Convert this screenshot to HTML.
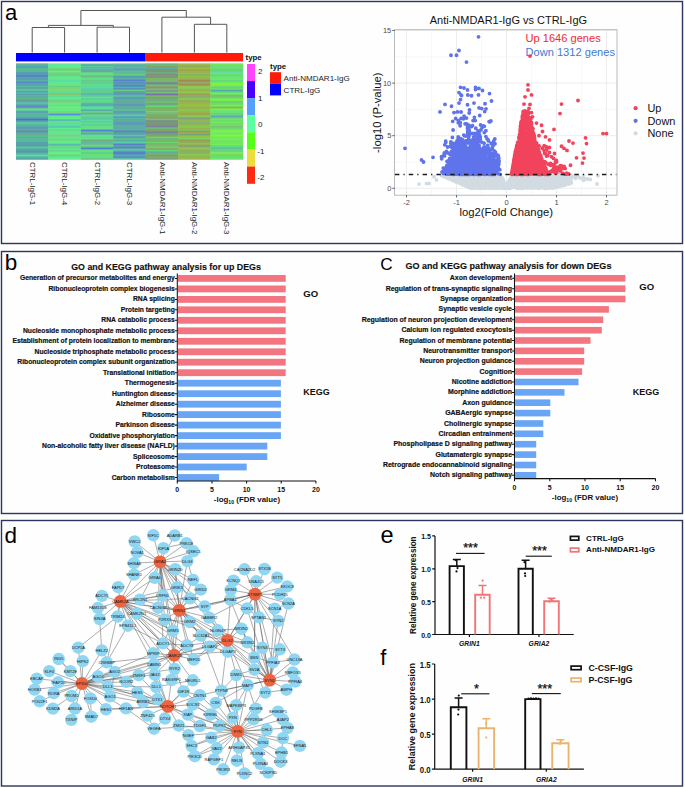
<!DOCTYPE html><html><head><meta charset="utf-8"><style>html,body{margin:0;padding:0;background:#fff}svg{display:block}text{font-family:"Liberation Sans",sans-serif}</style></head><body>
<svg width="685" height="788" viewBox="0 0 685 788" font-family="Liberation Sans, sans-serif">
<rect width="685" height="788" fill="#fefefe"/>
<rect x="1.5" y="1.5" width="681" height="242" fill="none" stroke="#2b3560" stroke-width="1.4"/>
<rect x="1.5" y="251.5" width="681" height="262" fill="none" stroke="#2b3560" stroke-width="1.4"/>
<rect x="1.5" y="520.5" width="681" height="265.5" fill="none" stroke="#2b3560" stroke-width="1.4"/>
<text x="5" y="19.8" font-size="22">a</text>
<text x="4.8" y="270" font-size="22.5">b</text>
<text x="380.3" y="270.2" font-size="17.2">C</text>
<text x="4.6" y="542.8" font-size="22.5">d</text>
<path d="M32.2 52.5V27.5H64.6V52.5M97.1 52.5V27.2H129.5V52.5M48.4 27.5V25.4H113.3V27.2M194.4 52.5V24.3H226.8V52.5M161.9 52.5V17.2H210.6V24.3M80.9 25.4V10.5H186.3V17.2" fill="none" stroke="#555555" stroke-width="1"/>
<rect x="16" y="53" width="129.7" height="8.4" fill="#0000ff"/>
<rect x="145.7" y="53" width="97.3" height="8.4" fill="#ff1a0a"/>
<rect x="16" y="63.6" width="32.5" height="95.8" fill="#58b0a0"/>
<rect x="16.0" y="63.6" width="32.5" height="1.0" fill="#58b0a0"/>
<rect x="16.0" y="64.6" width="32.5" height="1.0" fill="#5ac890"/>
<rect x="16.0" y="65.6" width="32.5" height="1.0" fill="#58b0a0"/>
<rect x="16.0" y="66.6" width="32.5" height="1.0" fill="#5a88c8"/>
<rect x="16.0" y="67.6" width="32.5" height="1.0" fill="#58b0a0"/>
<rect x="16.0" y="68.6" width="32.5" height="1.0" fill="#5ac890"/>
<rect x="16.0" y="69.6" width="32.5" height="1.0" fill="#58b0a0"/>
<rect x="16.0" y="70.6" width="32.5" height="1.0" fill="#5ac890"/>
<rect x="16.0" y="71.6" width="32.5" height="1.0" fill="#58b0a0"/>
<rect x="16.0" y="72.6" width="32.5" height="1.0" fill="#5a88c8"/>
<rect x="16.0" y="73.6" width="32.5" height="1.0" fill="#5e9cb8"/>
<rect x="16.0" y="74.6" width="32.5" height="1.0" fill="#5a88c8"/>
<rect x="16.0" y="75.6" width="32.5" height="1.0" fill="#4a70d0"/>
<rect x="16.0" y="76.6" width="32.5" height="1.0" fill="#5a88c8"/>
<rect x="16.0" y="77.6" width="32.5" height="1.0" fill="#58b0a0"/>
<rect x="16.0" y="78.6" width="32.5" height="1.0" fill="#5a88c8"/>
<rect x="16.0" y="79.6" width="32.5" height="2.0" fill="#58b0a0"/>
<rect x="16.0" y="81.6" width="32.5" height="2.0" fill="#5a88c8"/>
<rect x="16.0" y="83.6" width="32.5" height="1.0" fill="#58b0a0"/>
<rect x="16.0" y="84.6" width="32.5" height="1.0" fill="#5a88c8"/>
<rect x="16.0" y="85.6" width="32.5" height="1.0" fill="#5ac890"/>
<rect x="16.0" y="86.6" width="32.5" height="1.0" fill="#58b0a0"/>
<rect x="16.0" y="87.6" width="32.5" height="1.0" fill="#5e9cb8"/>
<rect x="16.0" y="88.6" width="32.5" height="1.0" fill="#58b0a0"/>
<rect x="16.0" y="89.6" width="32.5" height="1.0" fill="#60e0a0"/>
<rect x="16.0" y="90.6" width="32.5" height="1.0" fill="#58b0a0"/>
<rect x="16.0" y="91.6" width="32.5" height="1.0" fill="#5a88c8"/>
<rect x="16.0" y="92.6" width="32.5" height="1.0" fill="#60e0a0"/>
<rect x="16.0" y="93.6" width="32.5" height="1.0" fill="#5a88c8"/>
<rect x="16.0" y="94.6" width="32.5" height="1.0" fill="#58b0a0"/>
<rect x="16.0" y="95.6" width="32.5" height="1.0" fill="#5ac890"/>
<rect x="16.0" y="96.6" width="32.5" height="1.0" fill="#5e9cb8"/>
<rect x="16.0" y="97.6" width="32.5" height="1.0" fill="#80a878"/>
<rect x="16.0" y="98.6" width="32.5" height="1.0" fill="#5ac890"/>
<rect x="16.0" y="99.6" width="32.5" height="1.0" fill="#5a88c8"/>
<rect x="16.0" y="100.6" width="32.5" height="1.0" fill="#80a878"/>
<rect x="16.0" y="101.6" width="32.5" height="1.0" fill="#5e9cb8"/>
<rect x="16.0" y="102.6" width="32.5" height="1.0" fill="#60e0a0"/>
<rect x="16.0" y="103.6" width="32.5" height="2.0" fill="#58b0a0"/>
<rect x="16.0" y="105.6" width="32.5" height="2.0" fill="#5a88c8"/>
<rect x="16.0" y="107.6" width="32.5" height="1.0" fill="#80a878"/>
<rect x="16.0" y="108.6" width="32.5" height="2.0" fill="#60e0a0"/>
<rect x="16.0" y="110.6" width="32.5" height="1.0" fill="#5ac890"/>
<rect x="16.0" y="111.6" width="32.5" height="1.0" fill="#5a88c8"/>
<rect x="16.0" y="112.6" width="32.5" height="1.0" fill="#58b0a0"/>
<rect x="16.0" y="113.6" width="32.5" height="1.0" fill="#5ac890"/>
<rect x="16.0" y="114.6" width="32.5" height="1.0" fill="#58b0a0"/>
<rect x="16.0" y="115.6" width="32.5" height="1.0" fill="#5ac890"/>
<rect x="16.0" y="116.6" width="32.5" height="1.0" fill="#5e9cb8"/>
<rect x="16.0" y="117.6" width="32.5" height="1.0" fill="#58b0a0"/>
<rect x="16.0" y="118.6" width="32.5" height="2.0" fill="#4a70d0"/>
<rect x="16.0" y="120.6" width="32.5" height="1.0" fill="#5e9cb8"/>
<rect x="16.0" y="121.6" width="32.5" height="1.0" fill="#58b0a0"/>
<rect x="16.0" y="122.6" width="32.5" height="1.0" fill="#60e0a0"/>
<rect x="16.0" y="123.6" width="32.5" height="1.0" fill="#5ac890"/>
<rect x="16.0" y="124.6" width="32.5" height="1.0" fill="#58b0a0"/>
<rect x="16.0" y="125.6" width="32.5" height="1.0" fill="#5ac890"/>
<rect x="16.0" y="126.6" width="32.5" height="1.0" fill="#5a88c8"/>
<rect x="16.0" y="127.6" width="32.5" height="2.0" fill="#5e9cb8"/>
<rect x="16.0" y="129.6" width="32.5" height="1.0" fill="#80a878"/>
<rect x="16.0" y="130.6" width="32.5" height="2.0" fill="#5a88c8"/>
<rect x="16.0" y="132.6" width="32.5" height="2.0" fill="#58b0a0"/>
<rect x="16.0" y="134.6" width="32.5" height="1.0" fill="#80a878"/>
<rect x="16.0" y="135.6" width="32.5" height="1.0" fill="#5ac890"/>
<rect x="16.0" y="136.6" width="32.5" height="2.0" fill="#58b0a0"/>
<rect x="16.0" y="138.6" width="32.5" height="1.0" fill="#5ac890"/>
<rect x="16.0" y="139.6" width="32.5" height="1.0" fill="#58b0a0"/>
<rect x="16.0" y="140.6" width="32.5" height="1.0" fill="#5ac890"/>
<rect x="16.0" y="141.6" width="32.5" height="1.0" fill="#58b0a0"/>
<rect x="16.0" y="142.6" width="32.5" height="1.0" fill="#5a88c8"/>
<rect x="16.0" y="143.6" width="32.5" height="1.0" fill="#58b0a0"/>
<rect x="16.0" y="144.6" width="32.5" height="1.0" fill="#5a88c8"/>
<rect x="16.0" y="145.6" width="32.5" height="1.0" fill="#5e9cb8"/>
<rect x="16.0" y="146.6" width="32.5" height="2.0" fill="#5ac890"/>
<rect x="16.0" y="148.6" width="32.5" height="1.0" fill="#58b0a0"/>
<rect x="16.0" y="149.6" width="32.5" height="1.0" fill="#5a88c8"/>
<rect x="16.0" y="150.6" width="32.5" height="1.0" fill="#58b0a0"/>
<rect x="16.0" y="151.6" width="32.5" height="1.0" fill="#4a70d0"/>
<rect x="16.0" y="152.6" width="32.5" height="1.0" fill="#5ac890"/>
<rect x="16.0" y="153.6" width="32.5" height="1.0" fill="#58b0a0"/>
<rect x="16.0" y="154.6" width="32.5" height="2.0" fill="#60e0a0"/>
<rect x="16.0" y="156.6" width="32.5" height="2.0" fill="#58b0a0"/>
<rect x="16.0" y="158.6" width="32.5" height="1.0" fill="#5e9cb8"/>
<rect x="48.4" y="63.6" width="32.5" height="95.8" fill="#66f27a"/>
<rect x="48.4" y="63.6" width="32.5" height="2.0" fill="#5ee8a0"/>
<rect x="48.4" y="65.6" width="32.5" height="1.0" fill="#66f27a"/>
<rect x="48.4" y="66.6" width="32.5" height="2.0" fill="#5ee8a0"/>
<rect x="48.4" y="68.6" width="32.5" height="2.0" fill="#88c070"/>
<rect x="48.4" y="70.6" width="32.5" height="1.0" fill="#5ee8a0"/>
<rect x="48.4" y="71.6" width="32.5" height="1.0" fill="#66f27a"/>
<rect x="48.4" y="72.6" width="32.5" height="1.0" fill="#88c070"/>
<rect x="48.4" y="73.6" width="32.5" height="1.0" fill="#5ac8a8"/>
<rect x="48.4" y="74.6" width="32.5" height="1.0" fill="#88c070"/>
<rect x="48.4" y="75.6" width="32.5" height="1.0" fill="#5ac8a8"/>
<rect x="48.4" y="76.6" width="32.5" height="1.0" fill="#66f27a"/>
<rect x="48.4" y="77.6" width="32.5" height="1.0" fill="#5ee8a0"/>
<rect x="48.4" y="78.6" width="32.5" height="1.0" fill="#70d888"/>
<rect x="48.4" y="79.6" width="32.5" height="1.0" fill="#5ee8a0"/>
<rect x="48.4" y="80.6" width="32.5" height="1.0" fill="#5ac8a8"/>
<rect x="48.4" y="81.6" width="32.5" height="2.0" fill="#5ee8a0"/>
<rect x="48.4" y="83.6" width="32.5" height="1.0" fill="#70d888"/>
<rect x="48.4" y="84.6" width="32.5" height="1.0" fill="#66f27a"/>
<rect x="48.4" y="85.6" width="32.5" height="1.0" fill="#5ac8a8"/>
<rect x="48.4" y="86.6" width="32.5" height="1.0" fill="#88c070"/>
<rect x="48.4" y="87.6" width="32.5" height="1.0" fill="#70d888"/>
<rect x="48.4" y="88.6" width="32.5" height="1.0" fill="#88c070"/>
<rect x="48.4" y="89.6" width="32.5" height="1.0" fill="#66f27a"/>
<rect x="48.4" y="90.6" width="32.5" height="1.0" fill="#88c070"/>
<rect x="48.4" y="91.6" width="32.5" height="1.0" fill="#5ee8a0"/>
<rect x="48.4" y="92.6" width="32.5" height="1.0" fill="#5ac8a8"/>
<rect x="48.4" y="93.6" width="32.5" height="2.0" fill="#88c070"/>
<rect x="48.4" y="95.6" width="32.5" height="1.0" fill="#5ee8a0"/>
<rect x="48.4" y="96.6" width="32.5" height="1.0" fill="#5ac8a8"/>
<rect x="48.4" y="97.6" width="32.5" height="1.0" fill="#66f27a"/>
<rect x="48.4" y="98.6" width="32.5" height="1.0" fill="#5ee8a0"/>
<rect x="48.4" y="99.6" width="32.5" height="1.0" fill="#88c070"/>
<rect x="48.4" y="100.6" width="32.5" height="1.0" fill="#5ac8a8"/>
<rect x="48.4" y="101.6" width="32.5" height="2.0" fill="#70d888"/>
<rect x="48.4" y="103.6" width="32.5" height="1.0" fill="#66f27a"/>
<rect x="48.4" y="104.6" width="32.5" height="2.0" fill="#70d888"/>
<rect x="48.4" y="106.6" width="32.5" height="2.0" fill="#66f27a"/>
<rect x="48.4" y="108.6" width="32.5" height="1.0" fill="#70d888"/>
<rect x="48.4" y="109.6" width="32.5" height="1.0" fill="#66f27a"/>
<rect x="48.4" y="110.6" width="32.5" height="1.0" fill="#5ee8a0"/>
<rect x="48.4" y="111.6" width="32.5" height="1.0" fill="#88c070"/>
<rect x="48.4" y="112.6" width="32.5" height="1.0" fill="#70d888"/>
<rect x="48.4" y="113.6" width="32.5" height="2.0" fill="#4a90e0"/>
<rect x="48.4" y="115.6" width="32.5" height="1.0" fill="#5ee8a0"/>
<rect x="48.4" y="116.6" width="32.5" height="1.0" fill="#70d888"/>
<rect x="48.4" y="117.6" width="32.5" height="1.0" fill="#66f27a"/>
<rect x="48.4" y="118.6" width="32.5" height="1.0" fill="#5ee8a0"/>
<rect x="48.4" y="119.6" width="32.5" height="1.0" fill="#4a90e0"/>
<rect x="48.4" y="120.6" width="32.5" height="1.0" fill="#5ac8a8"/>
<rect x="48.4" y="121.6" width="32.5" height="1.0" fill="#66f27a"/>
<rect x="48.4" y="122.6" width="32.5" height="1.0" fill="#5ac8a8"/>
<rect x="48.4" y="123.6" width="32.5" height="1.0" fill="#5ee8a0"/>
<rect x="48.4" y="124.6" width="32.5" height="1.0" fill="#5ac8a8"/>
<rect x="48.4" y="125.6" width="32.5" height="1.0" fill="#5ee8a0"/>
<rect x="48.4" y="126.6" width="32.5" height="1.0" fill="#4a90e0"/>
<rect x="48.4" y="127.6" width="32.5" height="1.0" fill="#66f27a"/>
<rect x="48.4" y="128.6" width="32.5" height="1.0" fill="#5ee8a0"/>
<rect x="48.4" y="129.6" width="32.5" height="1.0" fill="#5ac8a8"/>
<rect x="48.4" y="130.6" width="32.5" height="1.0" fill="#5ee8a0"/>
<rect x="48.4" y="131.6" width="32.5" height="1.0" fill="#70d888"/>
<rect x="48.4" y="132.6" width="32.5" height="2.0" fill="#5ee8a0"/>
<rect x="48.4" y="134.6" width="32.5" height="1.0" fill="#88c070"/>
<rect x="48.4" y="135.6" width="32.5" height="2.0" fill="#70d888"/>
<rect x="48.4" y="137.6" width="32.5" height="1.0" fill="#5ee8a0"/>
<rect x="48.4" y="138.6" width="32.5" height="1.0" fill="#70d888"/>
<rect x="48.4" y="139.6" width="32.5" height="1.0" fill="#88c070"/>
<rect x="48.4" y="140.6" width="32.5" height="1.0" fill="#5ee8a0"/>
<rect x="48.4" y="141.6" width="32.5" height="1.0" fill="#66f27a"/>
<rect x="48.4" y="142.6" width="32.5" height="1.0" fill="#5ee8a0"/>
<rect x="48.4" y="143.6" width="32.5" height="1.0" fill="#5ac8a8"/>
<rect x="48.4" y="144.6" width="32.5" height="1.0" fill="#4a90e0"/>
<rect x="48.4" y="145.6" width="32.5" height="2.0" fill="#70d888"/>
<rect x="48.4" y="147.6" width="32.5" height="1.0" fill="#5ac8a8"/>
<rect x="48.4" y="148.6" width="32.5" height="1.0" fill="#66f27a"/>
<rect x="48.4" y="149.6" width="32.5" height="1.0" fill="#70d888"/>
<rect x="48.4" y="150.6" width="32.5" height="1.0" fill="#5ac8a8"/>
<rect x="48.4" y="151.6" width="32.5" height="1.0" fill="#5ee8a0"/>
<rect x="48.4" y="152.6" width="32.5" height="2.0" fill="#66f27a"/>
<rect x="48.4" y="154.6" width="32.5" height="1.0" fill="#88c070"/>
<rect x="48.4" y="155.6" width="32.5" height="1.0" fill="#5ac8a8"/>
<rect x="48.4" y="156.6" width="32.5" height="1.0" fill="#5ee8a0"/>
<rect x="48.4" y="157.6" width="32.5" height="1.0" fill="#66f27a"/>
<rect x="48.4" y="158.6" width="32.5" height="1.0" fill="#5ee8a0"/>
<rect x="80.9" y="63.6" width="32.5" height="95.8" fill="#60e090"/>
<rect x="80.9" y="63.6" width="32.5" height="1.0" fill="#66e070"/>
<rect x="80.9" y="64.6" width="32.5" height="1.0" fill="#5080d8"/>
<rect x="80.9" y="65.6" width="32.5" height="1.0" fill="#5ab8a0"/>
<rect x="80.9" y="66.6" width="32.5" height="1.0" fill="#5ad0b0"/>
<rect x="80.9" y="67.6" width="32.5" height="1.0" fill="#5080d8"/>
<rect x="80.9" y="68.6" width="32.5" height="1.0" fill="#60e090"/>
<rect x="80.9" y="69.6" width="32.5" height="1.0" fill="#5080d8"/>
<rect x="80.9" y="70.6" width="32.5" height="2.0" fill="#7aa878"/>
<rect x="80.9" y="72.6" width="32.5" height="1.0" fill="#60e090"/>
<rect x="80.9" y="73.6" width="32.5" height="1.0" fill="#66e070"/>
<rect x="80.9" y="74.6" width="32.5" height="1.0" fill="#60e090"/>
<rect x="80.9" y="75.6" width="32.5" height="1.0" fill="#7aa878"/>
<rect x="80.9" y="76.6" width="32.5" height="1.0" fill="#5ab8a0"/>
<rect x="80.9" y="77.6" width="32.5" height="1.0" fill="#60e090"/>
<rect x="80.9" y="78.6" width="32.5" height="1.0" fill="#66e070"/>
<rect x="80.9" y="79.6" width="32.5" height="1.0" fill="#60e090"/>
<rect x="80.9" y="80.6" width="32.5" height="1.0" fill="#7aa878"/>
<rect x="80.9" y="81.6" width="32.5" height="1.0" fill="#60e090"/>
<rect x="80.9" y="82.6" width="32.5" height="1.0" fill="#5ab8a0"/>
<rect x="80.9" y="83.6" width="32.5" height="1.0" fill="#66e070"/>
<rect x="80.9" y="84.6" width="32.5" height="1.0" fill="#60e090"/>
<rect x="80.9" y="85.6" width="32.5" height="1.0" fill="#5ad0b0"/>
<rect x="80.9" y="86.6" width="32.5" height="1.0" fill="#60e090"/>
<rect x="80.9" y="87.6" width="32.5" height="2.0" fill="#5ad0b0"/>
<rect x="80.9" y="89.6" width="32.5" height="1.0" fill="#5ab8a0"/>
<rect x="80.9" y="90.6" width="32.5" height="1.0" fill="#60e090"/>
<rect x="80.9" y="91.6" width="32.5" height="1.0" fill="#7aa878"/>
<rect x="80.9" y="92.6" width="32.5" height="1.0" fill="#60e090"/>
<rect x="80.9" y="93.6" width="32.5" height="1.0" fill="#5080d8"/>
<rect x="80.9" y="94.6" width="32.5" height="1.0" fill="#5ad0b0"/>
<rect x="80.9" y="95.6" width="32.5" height="1.0" fill="#5ab8a0"/>
<rect x="80.9" y="96.6" width="32.5" height="2.0" fill="#60e090"/>
<rect x="80.9" y="98.6" width="32.5" height="1.0" fill="#5ab8a0"/>
<rect x="80.9" y="99.6" width="32.5" height="1.0" fill="#66e070"/>
<rect x="80.9" y="100.6" width="32.5" height="1.0" fill="#5ad0b0"/>
<rect x="80.9" y="101.6" width="32.5" height="1.0" fill="#66e070"/>
<rect x="80.9" y="102.6" width="32.5" height="2.0" fill="#5ab8a0"/>
<rect x="80.9" y="104.6" width="32.5" height="1.0" fill="#5080d8"/>
<rect x="80.9" y="105.6" width="32.5" height="1.0" fill="#5ab8a0"/>
<rect x="80.9" y="106.6" width="32.5" height="1.0" fill="#5ad0b0"/>
<rect x="80.9" y="107.6" width="32.5" height="2.0" fill="#60e090"/>
<rect x="80.9" y="109.6" width="32.5" height="1.0" fill="#5080d8"/>
<rect x="80.9" y="110.6" width="32.5" height="1.0" fill="#5ab8a0"/>
<rect x="80.9" y="111.6" width="32.5" height="1.0" fill="#60e090"/>
<rect x="80.9" y="112.6" width="32.5" height="2.0" fill="#7aa878"/>
<rect x="80.9" y="114.6" width="32.5" height="1.0" fill="#5ad0b0"/>
<rect x="80.9" y="115.6" width="32.5" height="1.0" fill="#60e090"/>
<rect x="80.9" y="116.6" width="32.5" height="1.0" fill="#5ab8a0"/>
<rect x="80.9" y="117.6" width="32.5" height="1.0" fill="#5ad0b0"/>
<rect x="80.9" y="118.6" width="32.5" height="1.0" fill="#5ab8a0"/>
<rect x="80.9" y="119.6" width="32.5" height="1.0" fill="#5ad0b0"/>
<rect x="80.9" y="120.6" width="32.5" height="1.0" fill="#60e090"/>
<rect x="80.9" y="121.6" width="32.5" height="1.0" fill="#5ab8a0"/>
<rect x="80.9" y="122.6" width="32.5" height="2.0" fill="#60e090"/>
<rect x="80.9" y="124.6" width="32.5" height="1.0" fill="#5ab8a0"/>
<rect x="80.9" y="125.6" width="32.5" height="1.0" fill="#60e090"/>
<rect x="80.9" y="126.6" width="32.5" height="1.0" fill="#66e070"/>
<rect x="80.9" y="127.6" width="32.5" height="1.0" fill="#60e090"/>
<rect x="80.9" y="128.6" width="32.5" height="1.0" fill="#66e070"/>
<rect x="80.9" y="129.6" width="32.5" height="2.0" fill="#5080d8"/>
<rect x="80.9" y="131.6" width="32.5" height="1.0" fill="#7aa878"/>
<rect x="80.9" y="132.6" width="32.5" height="1.0" fill="#5ab8a0"/>
<rect x="80.9" y="133.6" width="32.5" height="1.0" fill="#5080d8"/>
<rect x="80.9" y="134.6" width="32.5" height="2.0" fill="#60e090"/>
<rect x="80.9" y="136.6" width="32.5" height="1.0" fill="#66e070"/>
<rect x="80.9" y="137.6" width="32.5" height="2.0" fill="#60e090"/>
<rect x="80.9" y="139.6" width="32.5" height="2.0" fill="#7aa878"/>
<rect x="80.9" y="141.6" width="32.5" height="2.0" fill="#5ab8a0"/>
<rect x="80.9" y="143.6" width="32.5" height="1.0" fill="#7aa878"/>
<rect x="80.9" y="144.6" width="32.5" height="1.0" fill="#5ad0b0"/>
<rect x="80.9" y="145.6" width="32.5" height="1.0" fill="#66e070"/>
<rect x="80.9" y="146.6" width="32.5" height="1.0" fill="#7aa878"/>
<rect x="80.9" y="147.6" width="32.5" height="2.0" fill="#5080d8"/>
<rect x="80.9" y="149.6" width="32.5" height="1.0" fill="#66e070"/>
<rect x="80.9" y="150.6" width="32.5" height="1.0" fill="#60e090"/>
<rect x="80.9" y="151.6" width="32.5" height="1.0" fill="#66e070"/>
<rect x="80.9" y="152.6" width="32.5" height="1.0" fill="#5ab8a0"/>
<rect x="80.9" y="153.6" width="32.5" height="2.0" fill="#66e070"/>
<rect x="80.9" y="155.6" width="32.5" height="1.0" fill="#60e090"/>
<rect x="80.9" y="156.6" width="32.5" height="1.0" fill="#66e070"/>
<rect x="80.9" y="157.6" width="32.5" height="1.0" fill="#60e090"/>
<rect x="80.9" y="158.6" width="32.5" height="1.0" fill="#7aa878"/>
<rect x="113.3" y="63.6" width="32.5" height="95.8" fill="#5ab0a8"/>
<rect x="113.3" y="63.6" width="32.5" height="1.0" fill="#58d0a8"/>
<rect x="113.3" y="64.6" width="32.5" height="1.0" fill="#5ab0a8"/>
<rect x="113.3" y="65.6" width="32.5" height="1.0" fill="#6aa898"/>
<rect x="113.3" y="66.6" width="32.5" height="1.0" fill="#5ab0a8"/>
<rect x="113.3" y="67.6" width="32.5" height="1.0" fill="#66d080"/>
<rect x="113.3" y="68.6" width="32.5" height="1.0" fill="#5a80c8"/>
<rect x="113.3" y="69.6" width="32.5" height="2.0" fill="#5ab0a8"/>
<rect x="113.3" y="71.6" width="32.5" height="1.0" fill="#66d080"/>
<rect x="113.3" y="72.6" width="32.5" height="1.0" fill="#5ab0a8"/>
<rect x="113.3" y="73.6" width="32.5" height="2.0" fill="#66d080"/>
<rect x="113.3" y="75.6" width="32.5" height="1.0" fill="#5ab0a8"/>
<rect x="113.3" y="76.6" width="32.5" height="1.0" fill="#5a80c8"/>
<rect x="113.3" y="77.6" width="32.5" height="2.0" fill="#5ab0a8"/>
<rect x="113.3" y="79.6" width="32.5" height="2.0" fill="#5a80c8"/>
<rect x="113.3" y="81.6" width="32.5" height="1.0" fill="#5ab0a8"/>
<rect x="113.3" y="82.6" width="32.5" height="1.0" fill="#4a70e0"/>
<rect x="113.3" y="83.6" width="32.5" height="1.0" fill="#5ab0a8"/>
<rect x="113.3" y="84.6" width="32.5" height="1.0" fill="#5a80c8"/>
<rect x="113.3" y="85.6" width="32.5" height="1.0" fill="#4a70e0"/>
<rect x="113.3" y="86.6" width="32.5" height="1.0" fill="#5ab0a8"/>
<rect x="113.3" y="87.6" width="32.5" height="1.0" fill="#6aa898"/>
<rect x="113.3" y="88.6" width="32.5" height="1.0" fill="#4a70e0"/>
<rect x="113.3" y="89.6" width="32.5" height="2.0" fill="#66d080"/>
<rect x="113.3" y="91.6" width="32.5" height="1.0" fill="#5a80c8"/>
<rect x="113.3" y="92.6" width="32.5" height="1.0" fill="#6aa898"/>
<rect x="113.3" y="93.6" width="32.5" height="1.0" fill="#5a80c8"/>
<rect x="113.3" y="94.6" width="32.5" height="1.0" fill="#5ab0a8"/>
<rect x="113.3" y="95.6" width="32.5" height="1.0" fill="#66d080"/>
<rect x="113.3" y="96.6" width="32.5" height="1.0" fill="#5ab0a8"/>
<rect x="113.3" y="97.6" width="32.5" height="1.0" fill="#5a80c8"/>
<rect x="113.3" y="98.6" width="32.5" height="1.0" fill="#5ab0a8"/>
<rect x="113.3" y="99.6" width="32.5" height="1.0" fill="#6aa898"/>
<rect x="113.3" y="100.6" width="32.5" height="1.0" fill="#5ab0a8"/>
<rect x="113.3" y="101.6" width="32.5" height="2.0" fill="#6aa898"/>
<rect x="113.3" y="103.6" width="32.5" height="1.0" fill="#5ab0a8"/>
<rect x="113.3" y="104.6" width="32.5" height="1.0" fill="#5a80c8"/>
<rect x="113.3" y="105.6" width="32.5" height="1.0" fill="#5ab0a8"/>
<rect x="113.3" y="106.6" width="32.5" height="1.0" fill="#6aa898"/>
<rect x="113.3" y="107.6" width="32.5" height="1.0" fill="#5ab0a8"/>
<rect x="113.3" y="108.6" width="32.5" height="1.0" fill="#6aa898"/>
<rect x="113.3" y="109.6" width="32.5" height="1.0" fill="#66d080"/>
<rect x="113.3" y="110.6" width="32.5" height="1.0" fill="#5ab0a8"/>
<rect x="113.3" y="111.6" width="32.5" height="1.0" fill="#5a80c8"/>
<rect x="113.3" y="112.6" width="32.5" height="1.0" fill="#5ab0a8"/>
<rect x="113.3" y="113.6" width="32.5" height="1.0" fill="#6aa898"/>
<rect x="113.3" y="114.6" width="32.5" height="2.0" fill="#58d0a8"/>
<rect x="113.3" y="116.6" width="32.5" height="1.0" fill="#5a80c8"/>
<rect x="113.3" y="117.6" width="32.5" height="1.0" fill="#6aa898"/>
<rect x="113.3" y="118.6" width="32.5" height="1.0" fill="#58d0a8"/>
<rect x="113.3" y="119.6" width="32.5" height="1.0" fill="#5a80c8"/>
<rect x="113.3" y="120.6" width="32.5" height="1.0" fill="#66d080"/>
<rect x="113.3" y="121.6" width="32.5" height="1.0" fill="#5a80c8"/>
<rect x="113.3" y="122.6" width="32.5" height="1.0" fill="#5ab0a8"/>
<rect x="113.3" y="123.6" width="32.5" height="1.0" fill="#5a80c8"/>
<rect x="113.3" y="124.6" width="32.5" height="2.0" fill="#5ab0a8"/>
<rect x="113.3" y="126.6" width="32.5" height="2.0" fill="#6aa898"/>
<rect x="113.3" y="128.6" width="32.5" height="2.0" fill="#5ab0a8"/>
<rect x="113.3" y="130.6" width="32.5" height="2.0" fill="#5a80c8"/>
<rect x="113.3" y="132.6" width="32.5" height="1.0" fill="#5ab0a8"/>
<rect x="113.3" y="133.6" width="32.5" height="1.0" fill="#5a80c8"/>
<rect x="113.3" y="134.6" width="32.5" height="1.0" fill="#66d080"/>
<rect x="113.3" y="135.6" width="32.5" height="1.0" fill="#58d0a8"/>
<rect x="113.3" y="136.6" width="32.5" height="1.0" fill="#5a80c8"/>
<rect x="113.3" y="137.6" width="32.5" height="1.0" fill="#5ab0a8"/>
<rect x="113.3" y="138.6" width="32.5" height="1.0" fill="#66d080"/>
<rect x="113.3" y="139.6" width="32.5" height="1.0" fill="#5ab0a8"/>
<rect x="113.3" y="140.6" width="32.5" height="1.0" fill="#6aa898"/>
<rect x="113.3" y="141.6" width="32.5" height="2.0" fill="#58d0a8"/>
<rect x="113.3" y="143.6" width="32.5" height="2.0" fill="#5a80c8"/>
<rect x="113.3" y="145.6" width="32.5" height="1.0" fill="#5ab0a8"/>
<rect x="113.3" y="146.6" width="32.5" height="1.0" fill="#5a80c8"/>
<rect x="113.3" y="147.6" width="32.5" height="1.0" fill="#4a70e0"/>
<rect x="113.3" y="148.6" width="32.5" height="1.0" fill="#66d080"/>
<rect x="113.3" y="149.6" width="32.5" height="1.0" fill="#58d0a8"/>
<rect x="113.3" y="150.6" width="32.5" height="1.0" fill="#5ab0a8"/>
<rect x="113.3" y="151.6" width="32.5" height="2.0" fill="#5a80c8"/>
<rect x="113.3" y="153.6" width="32.5" height="1.0" fill="#4a70e0"/>
<rect x="113.3" y="154.6" width="32.5" height="1.0" fill="#5ab0a8"/>
<rect x="113.3" y="155.6" width="32.5" height="1.0" fill="#6aa898"/>
<rect x="113.3" y="156.6" width="32.5" height="1.0" fill="#4a70e0"/>
<rect x="113.3" y="157.6" width="32.5" height="1.0" fill="#5ab0a8"/>
<rect x="113.3" y="158.6" width="32.5" height="1.0" fill="#58d0a8"/>
<rect x="145.7" y="63.6" width="32.5" height="95.8" fill="#8aa060"/>
<rect x="145.7" y="63.6" width="32.5" height="1.0" fill="#5ab0a0"/>
<rect x="145.7" y="64.6" width="32.5" height="1.0" fill="#66d870"/>
<rect x="145.7" y="65.6" width="32.5" height="2.0" fill="#8aa060"/>
<rect x="145.7" y="67.6" width="32.5" height="2.0" fill="#5ab0a0"/>
<rect x="145.7" y="69.6" width="32.5" height="1.0" fill="#6a88a8"/>
<rect x="145.7" y="70.6" width="32.5" height="1.0" fill="#8aa060"/>
<rect x="145.7" y="71.6" width="32.5" height="1.0" fill="#6a88a8"/>
<rect x="145.7" y="72.6" width="32.5" height="1.0" fill="#66d870"/>
<rect x="145.7" y="73.6" width="32.5" height="1.0" fill="#6a88a8"/>
<rect x="145.7" y="74.6" width="32.5" height="1.0" fill="#9a8a60"/>
<rect x="145.7" y="75.6" width="32.5" height="1.0" fill="#8aa060"/>
<rect x="145.7" y="76.6" width="32.5" height="1.0" fill="#6a88a8"/>
<rect x="145.7" y="77.6" width="32.5" height="1.0" fill="#8aa060"/>
<rect x="145.7" y="78.6" width="32.5" height="1.0" fill="#66d870"/>
<rect x="145.7" y="79.6" width="32.5" height="1.0" fill="#8aa060"/>
<rect x="145.7" y="80.6" width="32.5" height="1.0" fill="#66d870"/>
<rect x="145.7" y="81.6" width="32.5" height="1.0" fill="#5ab0a0"/>
<rect x="145.7" y="82.6" width="32.5" height="1.0" fill="#7a70b0"/>
<rect x="145.7" y="83.6" width="32.5" height="1.0" fill="#6a88a8"/>
<rect x="145.7" y="84.6" width="32.5" height="2.0" fill="#70c080"/>
<rect x="145.7" y="86.6" width="32.5" height="1.0" fill="#9a8a60"/>
<rect x="145.7" y="87.6" width="32.5" height="1.0" fill="#8aa060"/>
<rect x="145.7" y="88.6" width="32.5" height="2.0" fill="#70c080"/>
<rect x="145.7" y="90.6" width="32.5" height="1.0" fill="#7a70b0"/>
<rect x="145.7" y="91.6" width="32.5" height="1.0" fill="#66d870"/>
<rect x="145.7" y="92.6" width="32.5" height="1.0" fill="#70c080"/>
<rect x="145.7" y="93.6" width="32.5" height="2.0" fill="#7a70b0"/>
<rect x="145.7" y="95.6" width="32.5" height="1.0" fill="#66d870"/>
<rect x="145.7" y="96.6" width="32.5" height="1.0" fill="#8aa060"/>
<rect x="145.7" y="97.6" width="32.5" height="1.0" fill="#5ab0a0"/>
<rect x="145.7" y="98.6" width="32.5" height="1.0" fill="#8aa060"/>
<rect x="145.7" y="99.6" width="32.5" height="1.0" fill="#70c080"/>
<rect x="145.7" y="100.6" width="32.5" height="1.0" fill="#5ab0a0"/>
<rect x="145.7" y="101.6" width="32.5" height="1.0" fill="#66d870"/>
<rect x="145.7" y="102.6" width="32.5" height="1.0" fill="#70c080"/>
<rect x="145.7" y="103.6" width="32.5" height="1.0" fill="#6a88a8"/>
<rect x="145.7" y="104.6" width="32.5" height="1.0" fill="#70c080"/>
<rect x="145.7" y="105.6" width="32.5" height="2.0" fill="#66d870"/>
<rect x="145.7" y="107.6" width="32.5" height="1.0" fill="#8aa060"/>
<rect x="145.7" y="108.6" width="32.5" height="1.0" fill="#66d870"/>
<rect x="145.7" y="109.6" width="32.5" height="1.0" fill="#8aa060"/>
<rect x="145.7" y="110.6" width="32.5" height="2.0" fill="#66d870"/>
<rect x="145.7" y="112.6" width="32.5" height="2.0" fill="#70c080"/>
<rect x="145.7" y="114.6" width="32.5" height="1.0" fill="#8aa060"/>
<rect x="145.7" y="115.6" width="32.5" height="1.0" fill="#70c080"/>
<rect x="145.7" y="116.6" width="32.5" height="2.0" fill="#8aa060"/>
<rect x="145.7" y="118.6" width="32.5" height="2.0" fill="#70c080"/>
<rect x="145.7" y="120.6" width="32.5" height="1.0" fill="#7a70b0"/>
<rect x="145.7" y="121.6" width="32.5" height="1.0" fill="#9a8a60"/>
<rect x="145.7" y="122.6" width="32.5" height="1.0" fill="#5ab0a0"/>
<rect x="145.7" y="123.6" width="32.5" height="1.0" fill="#7a70b0"/>
<rect x="145.7" y="124.6" width="32.5" height="1.0" fill="#8aa060"/>
<rect x="145.7" y="125.6" width="32.5" height="1.0" fill="#7a70b0"/>
<rect x="145.7" y="126.6" width="32.5" height="1.0" fill="#6a88a8"/>
<rect x="145.7" y="127.6" width="32.5" height="1.0" fill="#66d870"/>
<rect x="145.7" y="128.6" width="32.5" height="1.0" fill="#5ab0a0"/>
<rect x="145.7" y="129.6" width="32.5" height="2.0" fill="#8aa060"/>
<rect x="145.7" y="131.6" width="32.5" height="1.0" fill="#7a70b0"/>
<rect x="145.7" y="132.6" width="32.5" height="1.0" fill="#6a88a8"/>
<rect x="145.7" y="133.6" width="32.5" height="1.0" fill="#8aa060"/>
<rect x="145.7" y="134.6" width="32.5" height="1.0" fill="#5ab0a0"/>
<rect x="145.7" y="135.6" width="32.5" height="1.0" fill="#8aa060"/>
<rect x="145.7" y="136.6" width="32.5" height="2.0" fill="#66d870"/>
<rect x="145.7" y="138.6" width="32.5" height="1.0" fill="#5ab0a0"/>
<rect x="145.7" y="139.6" width="32.5" height="1.0" fill="#66d870"/>
<rect x="145.7" y="140.6" width="32.5" height="1.0" fill="#8aa060"/>
<rect x="145.7" y="141.6" width="32.5" height="2.0" fill="#66d870"/>
<rect x="145.7" y="143.6" width="32.5" height="1.0" fill="#8aa060"/>
<rect x="145.7" y="144.6" width="32.5" height="1.0" fill="#66d870"/>
<rect x="145.7" y="145.6" width="32.5" height="1.0" fill="#70c080"/>
<rect x="145.7" y="146.6" width="32.5" height="2.0" fill="#66d870"/>
<rect x="145.7" y="148.6" width="32.5" height="1.0" fill="#9a8a60"/>
<rect x="145.7" y="149.6" width="32.5" height="2.0" fill="#66d870"/>
<rect x="145.7" y="151.6" width="32.5" height="2.0" fill="#5ab0a0"/>
<rect x="145.7" y="153.6" width="32.5" height="1.0" fill="#70c080"/>
<rect x="145.7" y="154.6" width="32.5" height="1.0" fill="#8aa060"/>
<rect x="145.7" y="155.6" width="32.5" height="1.0" fill="#9a8a60"/>
<rect x="145.7" y="156.6" width="32.5" height="1.0" fill="#70c080"/>
<rect x="145.7" y="157.6" width="32.5" height="1.0" fill="#5ab0a0"/>
<rect x="145.7" y="158.6" width="32.5" height="1.0" fill="#8aa060"/>
<rect x="178.2" y="63.6" width="32.5" height="95.8" fill="#a0b848"/>
<rect x="178.2" y="63.6" width="32.5" height="2.0" fill="#a0b848"/>
<rect x="178.2" y="65.6" width="32.5" height="2.0" fill="#90a860"/>
<rect x="178.2" y="67.6" width="32.5" height="1.0" fill="#88c850"/>
<rect x="178.2" y="68.6" width="32.5" height="1.0" fill="#a0b848"/>
<rect x="178.2" y="69.6" width="32.5" height="1.0" fill="#a08a50"/>
<rect x="178.2" y="70.6" width="32.5" height="1.0" fill="#a0b848"/>
<rect x="178.2" y="71.6" width="32.5" height="1.0" fill="#90a860"/>
<rect x="178.2" y="72.6" width="32.5" height="1.0" fill="#a0b848"/>
<rect x="178.2" y="73.6" width="32.5" height="1.0" fill="#88c850"/>
<rect x="178.2" y="74.6" width="32.5" height="1.0" fill="#78a080"/>
<rect x="178.2" y="75.6" width="32.5" height="1.0" fill="#a0b848"/>
<rect x="178.2" y="76.6" width="32.5" height="1.0" fill="#70d860"/>
<rect x="178.2" y="77.6" width="32.5" height="1.0" fill="#90a860"/>
<rect x="178.2" y="78.6" width="32.5" height="1.0" fill="#a0b848"/>
<rect x="178.2" y="79.6" width="32.5" height="2.0" fill="#a08a50"/>
<rect x="178.2" y="81.6" width="32.5" height="1.0" fill="#7890a8"/>
<rect x="178.2" y="82.6" width="32.5" height="1.0" fill="#a0b848"/>
<rect x="178.2" y="83.6" width="32.5" height="2.0" fill="#a08a50"/>
<rect x="178.2" y="85.6" width="32.5" height="1.0" fill="#a0b848"/>
<rect x="178.2" y="86.6" width="32.5" height="2.0" fill="#70d860"/>
<rect x="178.2" y="88.6" width="32.5" height="1.0" fill="#88c850"/>
<rect x="178.2" y="89.6" width="32.5" height="1.0" fill="#90a860"/>
<rect x="178.2" y="90.6" width="32.5" height="1.0" fill="#a0b848"/>
<rect x="178.2" y="91.6" width="32.5" height="1.0" fill="#70d860"/>
<rect x="178.2" y="92.6" width="32.5" height="1.0" fill="#a0b848"/>
<rect x="178.2" y="93.6" width="32.5" height="1.0" fill="#90a860"/>
<rect x="178.2" y="94.6" width="32.5" height="1.0" fill="#a08a50"/>
<rect x="178.2" y="95.6" width="32.5" height="1.0" fill="#88c850"/>
<rect x="178.2" y="96.6" width="32.5" height="1.0" fill="#7890a8"/>
<rect x="178.2" y="97.6" width="32.5" height="1.0" fill="#a0b848"/>
<rect x="178.2" y="98.6" width="32.5" height="1.0" fill="#70d860"/>
<rect x="178.2" y="99.6" width="32.5" height="1.0" fill="#a0b848"/>
<rect x="178.2" y="100.6" width="32.5" height="1.0" fill="#78a080"/>
<rect x="178.2" y="101.6" width="32.5" height="1.0" fill="#a0b848"/>
<rect x="178.2" y="102.6" width="32.5" height="1.0" fill="#90a860"/>
<rect x="178.2" y="103.6" width="32.5" height="1.0" fill="#88c850"/>
<rect x="178.2" y="104.6" width="32.5" height="1.0" fill="#a0b848"/>
<rect x="178.2" y="105.6" width="32.5" height="1.0" fill="#88c850"/>
<rect x="178.2" y="106.6" width="32.5" height="1.0" fill="#a0b848"/>
<rect x="178.2" y="107.6" width="32.5" height="1.0" fill="#90a860"/>
<rect x="178.2" y="108.6" width="32.5" height="1.0" fill="#a0b848"/>
<rect x="178.2" y="109.6" width="32.5" height="1.0" fill="#88c850"/>
<rect x="178.2" y="110.6" width="32.5" height="1.0" fill="#70d860"/>
<rect x="178.2" y="111.6" width="32.5" height="1.0" fill="#90a860"/>
<rect x="178.2" y="112.6" width="32.5" height="1.0" fill="#a0b848"/>
<rect x="178.2" y="113.6" width="32.5" height="1.0" fill="#a08a50"/>
<rect x="178.2" y="114.6" width="32.5" height="1.0" fill="#a0b848"/>
<rect x="178.2" y="115.6" width="32.5" height="2.0" fill="#88c850"/>
<rect x="178.2" y="117.6" width="32.5" height="2.0" fill="#78a080"/>
<rect x="178.2" y="119.6" width="32.5" height="1.0" fill="#88c850"/>
<rect x="178.2" y="120.6" width="32.5" height="1.0" fill="#90a860"/>
<rect x="178.2" y="121.6" width="32.5" height="1.0" fill="#88c850"/>
<rect x="178.2" y="122.6" width="32.5" height="1.0" fill="#7890a8"/>
<rect x="178.2" y="123.6" width="32.5" height="1.0" fill="#88c850"/>
<rect x="178.2" y="124.6" width="32.5" height="1.0" fill="#90a860"/>
<rect x="178.2" y="125.6" width="32.5" height="1.0" fill="#70d860"/>
<rect x="178.2" y="126.6" width="32.5" height="1.0" fill="#88c850"/>
<rect x="178.2" y="127.6" width="32.5" height="1.0" fill="#a0b848"/>
<rect x="178.2" y="128.6" width="32.5" height="1.0" fill="#90a860"/>
<rect x="178.2" y="129.6" width="32.5" height="1.0" fill="#70d860"/>
<rect x="178.2" y="130.6" width="32.5" height="1.0" fill="#78a080"/>
<rect x="178.2" y="131.6" width="32.5" height="1.0" fill="#a08a50"/>
<rect x="178.2" y="132.6" width="32.5" height="1.0" fill="#a0b848"/>
<rect x="178.2" y="133.6" width="32.5" height="2.0" fill="#78a080"/>
<rect x="178.2" y="135.6" width="32.5" height="1.0" fill="#88c850"/>
<rect x="178.2" y="136.6" width="32.5" height="1.0" fill="#a0b848"/>
<rect x="178.2" y="137.6" width="32.5" height="2.0" fill="#70d860"/>
<rect x="178.2" y="139.6" width="32.5" height="1.0" fill="#a08a50"/>
<rect x="178.2" y="140.6" width="32.5" height="1.0" fill="#90a860"/>
<rect x="178.2" y="141.6" width="32.5" height="1.0" fill="#78a080"/>
<rect x="178.2" y="142.6" width="32.5" height="1.0" fill="#a0b848"/>
<rect x="178.2" y="143.6" width="32.5" height="1.0" fill="#88c850"/>
<rect x="178.2" y="144.6" width="32.5" height="1.0" fill="#90a860"/>
<rect x="178.2" y="145.6" width="32.5" height="1.0" fill="#7890a8"/>
<rect x="178.2" y="146.6" width="32.5" height="1.0" fill="#90a860"/>
<rect x="178.2" y="147.6" width="32.5" height="1.0" fill="#70d860"/>
<rect x="178.2" y="148.6" width="32.5" height="2.0" fill="#a0b848"/>
<rect x="178.2" y="150.6" width="32.5" height="1.0" fill="#78a080"/>
<rect x="178.2" y="151.6" width="32.5" height="1.0" fill="#88c850"/>
<rect x="178.2" y="152.6" width="32.5" height="1.0" fill="#78a080"/>
<rect x="178.2" y="153.6" width="32.5" height="1.0" fill="#70d860"/>
<rect x="178.2" y="154.6" width="32.5" height="1.0" fill="#a0b848"/>
<rect x="178.2" y="155.6" width="32.5" height="1.0" fill="#70d860"/>
<rect x="178.2" y="156.6" width="32.5" height="1.0" fill="#90a860"/>
<rect x="178.2" y="157.6" width="32.5" height="2.0" fill="#a0b848"/>
<rect x="210.6" y="63.6" width="32.5" height="95.8" fill="#70f050"/>
<rect x="210.6" y="63.6" width="32.5" height="1.0" fill="#70d870"/>
<rect x="210.6" y="64.6" width="32.5" height="1.0" fill="#70f050"/>
<rect x="210.6" y="65.6" width="32.5" height="2.0" fill="#70d870"/>
<rect x="210.6" y="67.6" width="32.5" height="1.0" fill="#70f050"/>
<rect x="210.6" y="68.6" width="32.5" height="1.0" fill="#60c0a0"/>
<rect x="210.6" y="69.6" width="32.5" height="1.0" fill="#70d870"/>
<rect x="210.6" y="70.6" width="32.5" height="1.0" fill="#60c0a0"/>
<rect x="210.6" y="71.6" width="32.5" height="2.0" fill="#60e0a0"/>
<rect x="210.6" y="73.6" width="32.5" height="1.0" fill="#70f050"/>
<rect x="210.6" y="74.6" width="32.5" height="1.0" fill="#60c0a0"/>
<rect x="210.6" y="75.6" width="32.5" height="1.0" fill="#60e0a0"/>
<rect x="210.6" y="76.6" width="32.5" height="1.0" fill="#70d870"/>
<rect x="210.6" y="77.6" width="32.5" height="1.0" fill="#60e0a0"/>
<rect x="210.6" y="78.6" width="32.5" height="1.0" fill="#70f050"/>
<rect x="210.6" y="79.6" width="32.5" height="1.0" fill="#60e0a0"/>
<rect x="210.6" y="80.6" width="32.5" height="1.0" fill="#60c0a0"/>
<rect x="210.6" y="81.6" width="32.5" height="2.0" fill="#70f050"/>
<rect x="210.6" y="83.6" width="32.5" height="2.0" fill="#88f040"/>
<rect x="210.6" y="85.6" width="32.5" height="1.0" fill="#60e0a0"/>
<rect x="210.6" y="86.6" width="32.5" height="1.0" fill="#70d870"/>
<rect x="210.6" y="87.6" width="32.5" height="1.0" fill="#60c0a0"/>
<rect x="210.6" y="88.6" width="32.5" height="1.0" fill="#70f050"/>
<rect x="210.6" y="89.6" width="32.5" height="2.0" fill="#58a8b0"/>
<rect x="210.6" y="91.6" width="32.5" height="1.0" fill="#60c0a0"/>
<rect x="210.6" y="92.6" width="32.5" height="1.0" fill="#70f050"/>
<rect x="210.6" y="93.6" width="32.5" height="1.0" fill="#88f040"/>
<rect x="210.6" y="94.6" width="32.5" height="2.0" fill="#60c0a0"/>
<rect x="210.6" y="96.6" width="32.5" height="1.0" fill="#90b060"/>
<rect x="210.6" y="97.6" width="32.5" height="1.0" fill="#70d870"/>
<rect x="210.6" y="98.6" width="32.5" height="1.0" fill="#70f050"/>
<rect x="210.6" y="99.6" width="32.5" height="1.0" fill="#88f040"/>
<rect x="210.6" y="100.6" width="32.5" height="1.0" fill="#70f050"/>
<rect x="210.6" y="101.6" width="32.5" height="1.0" fill="#58a8b0"/>
<rect x="210.6" y="102.6" width="32.5" height="1.0" fill="#70f050"/>
<rect x="210.6" y="103.6" width="32.5" height="1.0" fill="#60c0a0"/>
<rect x="210.6" y="104.6" width="32.5" height="1.0" fill="#88f040"/>
<rect x="210.6" y="105.6" width="32.5" height="1.0" fill="#70f050"/>
<rect x="210.6" y="106.6" width="32.5" height="2.0" fill="#90b060"/>
<rect x="210.6" y="108.6" width="32.5" height="1.0" fill="#88f040"/>
<rect x="210.6" y="109.6" width="32.5" height="1.0" fill="#70f050"/>
<rect x="210.6" y="110.6" width="32.5" height="2.0" fill="#60e0a0"/>
<rect x="210.6" y="112.6" width="32.5" height="1.0" fill="#70d870"/>
<rect x="210.6" y="113.6" width="32.5" height="1.0" fill="#60c0a0"/>
<rect x="210.6" y="114.6" width="32.5" height="1.0" fill="#70d870"/>
<rect x="210.6" y="115.6" width="32.5" height="2.0" fill="#58a8b0"/>
<rect x="210.6" y="117.6" width="32.5" height="2.0" fill="#70d870"/>
<rect x="210.6" y="119.6" width="32.5" height="1.0" fill="#88f040"/>
<rect x="210.6" y="120.6" width="32.5" height="1.0" fill="#60c0a0"/>
<rect x="210.6" y="121.6" width="32.5" height="1.0" fill="#88f040"/>
<rect x="210.6" y="122.6" width="32.5" height="1.0" fill="#60e0a0"/>
<rect x="210.6" y="123.6" width="32.5" height="1.0" fill="#60c0a0"/>
<rect x="210.6" y="124.6" width="32.5" height="1.0" fill="#88f040"/>
<rect x="210.6" y="125.6" width="32.5" height="1.0" fill="#60c0a0"/>
<rect x="210.6" y="126.6" width="32.5" height="1.0" fill="#90b060"/>
<rect x="210.6" y="127.6" width="32.5" height="2.0" fill="#70d870"/>
<rect x="210.6" y="129.6" width="32.5" height="1.0" fill="#70f050"/>
<rect x="210.6" y="130.6" width="32.5" height="2.0" fill="#88f040"/>
<rect x="210.6" y="132.6" width="32.5" height="1.0" fill="#60e0a0"/>
<rect x="210.6" y="133.6" width="32.5" height="1.0" fill="#70f050"/>
<rect x="210.6" y="134.6" width="32.5" height="2.0" fill="#88f040"/>
<rect x="210.6" y="136.6" width="32.5" height="1.0" fill="#70f050"/>
<rect x="210.6" y="137.6" width="32.5" height="1.0" fill="#60e0a0"/>
<rect x="210.6" y="138.6" width="32.5" height="1.0" fill="#88f040"/>
<rect x="210.6" y="139.6" width="32.5" height="1.0" fill="#70f050"/>
<rect x="210.6" y="140.6" width="32.5" height="1.0" fill="#70d870"/>
<rect x="210.6" y="141.6" width="32.5" height="1.0" fill="#70f050"/>
<rect x="210.6" y="142.6" width="32.5" height="1.0" fill="#70d870"/>
<rect x="210.6" y="143.6" width="32.5" height="2.0" fill="#70f050"/>
<rect x="210.6" y="145.6" width="32.5" height="1.0" fill="#60c0a0"/>
<rect x="210.6" y="146.6" width="32.5" height="1.0" fill="#60e0a0"/>
<rect x="210.6" y="147.6" width="32.5" height="1.0" fill="#58a8b0"/>
<rect x="210.6" y="148.6" width="32.5" height="1.0" fill="#60c0a0"/>
<rect x="210.6" y="149.6" width="32.5" height="1.0" fill="#70d870"/>
<rect x="210.6" y="150.6" width="32.5" height="1.0" fill="#60c0a0"/>
<rect x="210.6" y="151.6" width="32.5" height="1.0" fill="#60e0a0"/>
<rect x="210.6" y="152.6" width="32.5" height="1.0" fill="#88f040"/>
<rect x="210.6" y="153.6" width="32.5" height="1.0" fill="#70f050"/>
<rect x="210.6" y="154.6" width="32.5" height="1.0" fill="#90b060"/>
<rect x="210.6" y="155.6" width="32.5" height="1.0" fill="#70f050"/>
<rect x="210.6" y="156.6" width="32.5" height="1.0" fill="#60c0a0"/>
<rect x="210.6" y="157.6" width="32.5" height="1.0" fill="#70f050"/>
<rect x="210.6" y="158.6" width="32.5" height="1.0" fill="#60e0a0"/>
<rect x="247" y="64.00" width="8" height="17.2" fill="#ff44ff"/>
<rect x="247" y="81.10" width="8" height="17.2" fill="#4a00ff"/>
<rect x="247" y="98.20" width="8" height="17.2" fill="#55a0ff"/>
<rect x="247" y="115.30" width="8" height="17.2" fill="#5affa0"/>
<rect x="247" y="132.40" width="8" height="17.2" fill="#55ff18"/>
<rect x="247" y="149.50" width="8" height="17.2" fill="#ecdc3c"/>
<rect x="247" y="166.60" width="8" height="17.2" fill="#ff2a12"/>
<text x="258.1" y="74.2" font-size="8.0" fill="#222">2</text>
<text x="258.1" y="100.5" font-size="8.0" fill="#222">1</text>
<text x="258.1" y="126.7" font-size="8.0" fill="#222">0</text>
<text x="257.3" y="153.9" font-size="8.0" fill="#222">-1</text>
<text x="257.3" y="179.9" font-size="8.0" fill="#222">-2</text>
<text x="245.6" y="60.0" font-size="7.85" font-weight="bold" fill="#111">type</text>
<text x="270.1" y="69.4" font-size="7.85" font-weight="bold" fill="#111">type</text>
<rect x="270" y="72.2" width="11" height="11.6" fill="#ff1a0a"/>
<rect x="270" y="83.8" width="11" height="11.6" fill="#0000ff"/>
<text x="283.6" y="81.2" font-size="8.05" fill="#222">Anti-NMDAR1-IgG</text>
<text x="283.6" y="92.8" font-size="8.05" fill="#222">CTRL-IgG</text>
<text transform="translate(32.8 162) rotate(90)" font-size="7.95" fill="#1a1a1a" y="2.9">CTRL-IgG-1</text>
<text transform="translate(65.2 162) rotate(90)" font-size="7.95" fill="#1a1a1a" y="2.9">CTRL-IgG-4</text>
<text transform="translate(97.7 162) rotate(90)" font-size="7.95" fill="#1a1a1a" y="2.9">CTRL-IgG-2</text>
<text transform="translate(130.1 162) rotate(90)" font-size="7.95" fill="#1a1a1a" y="2.9">CTRL-IgG-3</text>
<text transform="translate(162.5 162) rotate(90)" font-size="7.95" fill="#1a1a1a" y="2.9">Anti-NMDAR1-IgG-1</text>
<text transform="translate(195.0 162) rotate(90)" font-size="7.95" fill="#1a1a1a" y="2.9">Anti-NMDAR1-IgG-2</text>
<text transform="translate(227.4 162) rotate(90)" font-size="7.95" fill="#1a1a1a" y="2.9">Anti-NMDAR1-IgG-3</text>
<rect x="394.5" y="29.7" width="222.5" height="165.5" fill="#ffffff"/>
<path d="M406.5 29.7V195.2M456.5 29.7V195.2M506.5 29.7V195.2M556.5 29.7V195.2M606.5 29.7V195.2M394.5 188.3H617.0M394.5 135.7H617.0M394.5 83.1H617.0M394.5 30.5H617.0" stroke="#ebebeb" stroke-width="0.9" fill="none"/>
<path d="M431.5 29.7V195.2M481.5 29.7V195.2M531.5 29.7V195.2M581.5 29.7V195.2M394.5 162.0H617.0M394.5 109.4H617.0M394.5 56.8H617.0" stroke="#f4f4f4" stroke-width="0.6" fill="none"/>
<path d="M500.3 180.8h0M561.6 180.9h0M517.9 185.8h0M508.0 184.5h0M544.6 187.0h0M480.9 187.1h0M546.8 179.0h0M446.9 174.9h0M526.5 180.0h0M462.0 184.4h0M510.2 187.7h0M466.2 183.6h0M551.0 181.3h0M524.7 181.6h0M527.6 182.1h0M477.7 174.9h0M570.9 176.2h0M482.5 185.2h0M479.1 187.4h0M541.1 182.9h0M551.6 183.1h0M468.8 176.0h0M502.6 178.6h0M493.2 187.3h0M523.3 177.8h0M476.6 187.1h0M484.7 175.3h0M540.0 186.7h0M473.5 186.9h0M514.2 182.3h0M466.3 177.9h0M458.5 177.7h0M456.6 179.1h0M469.2 184.2h0M556.5 184.9h0M492.8 176.8h0M524.9 186.9h0M541.9 183.9h0M480.0 187.3h0M519.7 183.3h0M500.4 175.4h0M504.4 184.3h0M554.1 185.8h0M461.5 175.7h0M547.8 184.9h0M466.2 177.8h0M563.8 183.5h0M556.2 179.9h0M496.3 186.9h0M533.1 184.8h0M548.6 180.3h0M479.6 185.9h0M535.1 187.4h0M471.2 180.8h0M552.3 180.0h0M477.9 175.9h0M468.0 187.0h0M476.5 182.3h0M515.9 186.5h0M488.6 176.3h0M569.0 178.0h0M517.5 186.4h0M446.1 177.5h0M532.6 175.3h0M536.5 184.0h0M571.4 182.9h0M537.3 176.2h0M537.3 178.8h0M544.6 176.0h0M487.2 179.1h0M558.6 176.4h0M495.7 177.7h0M553.8 180.6h0M522.7 183.2h0M517.2 180.1h0M451.9 176.7h0M555.9 178.4h0M492.0 178.4h0M517.0 182.4h0M550.5 187.2h0M539.0 187.9h0M519.7 181.8h0M471.4 178.9h0M506.1 185.9h0M480.6 179.2h0M467.8 185.0h0M557.4 183.3h0M528.1 185.6h0M497.5 177.4h0M517.3 184.0h0M459.2 179.1h0M550.3 176.9h0M534.0 175.5h0M477.5 186.0h0M500.1 184.6h0M469.3 182.4h0M522.8 181.6h0M482.5 177.0h0M533.6 180.6h0M481.7 177.6h0M459.8 183.2h0M523.3 182.3h0M523.4 179.5h0M546.5 175.4h0M530.5 185.6h0M503.3 186.7h0M442.9 175.5h0M464.8 182.8h0M486.4 178.9h0M509.2 183.5h0M539.8 183.0h0M544.5 176.1h0M452.8 175.2h0M458.4 179.3h0M522.8 176.0h0M490.5 180.6h0M555.8 177.5h0M564.3 180.6h0M468.1 178.3h0M547.9 179.7h0M534.8 185.4h0M558.5 175.1h0M568.6 179.2h0M483.2 176.0h0M552.8 183.6h0M452.3 177.9h0M541.4 181.7h0M545.5 186.0h0M485.1 177.7h0M459.8 182.3h0M508.6 183.2h0M550.7 179.0h0M564.4 180.2h0M452.7 179.2h0M479.2 178.5h0M524.6 181.3h0M551.2 180.8h0M482.0 183.2h0M551.4 176.2h0M468.6 176.7h0M567.4 179.5h0M467.6 180.5h0M506.9 185.8h0M445.1 174.9h0M493.6 177.5h0M514.7 181.7h0M531.3 187.4h0M511.5 183.4h0M503.0 187.1h0M497.9 177.3h0M558.6 181.2h0M482.7 185.7h0M521.8 175.8h0M458.3 176.6h0M530.8 184.0h0M487.7 180.0h0M455.1 176.6h0M457.5 178.6h0M474.1 185.6h0M510.4 183.9h0M490.3 182.7h0M510.3 186.7h0M468.1 179.4h0M524.5 181.2h0M552.2 180.1h0M552.9 185.2h0M537.8 177.4h0M558.8 183.1h0M482.4 175.9h0M469.9 174.9h0M556.9 185.8h0M472.6 178.5h0M475.2 187.0h0M549.7 182.6h0M544.2 186.6h0M493.9 179.1h0M443.8 176.2h0M507.2 184.8h0M506.9 185.6h0M466.1 185.5h0M455.3 181.3h0M513.2 181.4h0M515.4 186.3h0M465.5 183.8h0M550.7 175.0h0M565.2 180.4h0M484.0 182.0h0M508.5 185.4h0M519.6 188.1h0M532.6 176.9h0M465.1 180.9h0M537.6 182.8h0M466.9 184.7h0M508.1 188.2h0M557.6 177.3h0M533.1 176.7h0M523.3 182.9h0M519.4 181.5h0M560.0 177.9h0M547.4 182.8h0M558.1 176.3h0M531.8 178.0h0M541.0 182.8h0M535.4 187.3h0M485.9 182.0h0M442.9 175.6h0M522.6 185.2h0M527.3 180.6h0M510.8 184.2h0M571.5 177.9h0M540.5 175.1h0M444.5 175.6h0M474.9 182.9h0M454.3 179.6h0M559.2 180.2h0M567.2 179.1h0M524.4 177.4h0M451.4 176.9h0M502.8 186.7h0M505.9 185.6h0M510.0 182.8h0M489.0 184.5h0M526.7 180.8h0M478.4 178.7h0M480.0 188.1h0M473.4 187.7h0M461.9 177.2h0M492.2 176.2h0M538.8 187.6h0M568.0 182.1h0M568.7 176.6h0M456.5 177.6h0M500.7 185.6h0M499.1 179.3h0M500.7 184.9h0M517.2 182.7h0M542.6 181.2h0M571.2 175.2h0M472.5 186.8h0M557.6 177.5h0M522.7 183.5h0M476.8 179.1h0M514.9 180.3h0M523.8 178.2h0M466.2 183.5h0M568.9 175.6h0M496.8 179.9h0M454.8 177.8h0M450.9 179.2h0M513.1 179.8h0M490.0 181.9h0M468.9 183.2h0M538.3 177.0h0M451.2 179.2h0M522.6 177.9h0M469.2 182.3h0M475.0 177.4h0M489.5 179.5h0M570.1 180.9h0M538.5 175.9h0M497.1 183.3h0M454.1 175.6h0M451.7 179.6h0M504.5 183.7h0M480.4 177.9h0M451.4 178.8h0M452.1 178.6h0M531.7 184.5h0M460.1 180.5h0M535.9 183.4h0M456.8 177.0h0M515.5 175.9h0M545.9 184.2h0M482.8 182.9h0M488.5 183.4h0M488.7 183.0h0M491.9 185.7h0M514.8 177.6h0M511.8 178.1h0M514.7 185.9h0M540.2 176.4h0M478.1 188.0h0M508.5 184.6h0M515.3 175.3h0M526.2 177.5h0M449.8 176.8h0M452.4 179.9h0M558.4 186.1h0M523.9 186.4h0M538.5 179.6h0M473.4 185.3h0M541.0 181.3h0M540.9 183.0h0M485.4 175.3h0M528.9 181.7h0M511.4 180.0h0M533.6 176.0h0M494.9 177.2h0M528.2 176.8h0M546.3 177.1h0M557.0 175.4h0M524.7 181.2h0M533.8 177.5h0M496.3 182.6h0M460.5 177.2h0M468.1 182.0h0M479.5 175.2h0M525.7 177.9h0M464.8 185.1h0M501.1 181.1h0M465.5 183.6h0M472.1 178.6h0M518.8 185.3h0M465.5 182.9h0M463.9 177.4h0M482.0 180.9h0M547.7 181.8h0M475.4 176.4h0M560.4 182.6h0M448.0 175.0h0M491.5 181.2h0M508.6 186.4h0M545.1 178.7h0M520.3 186.2h0M461.9 181.4h0M475.2 176.6h0M508.6 183.9h0M570.6 181.4h0M461.1 177.0h0M441.7 175.0h0M548.4 187.2h0M476.6 178.7h0M454.1 178.1h0M502.4 178.5h0M517.8 176.8h0M481.0 177.7h0M495.7 176.0h0M512.1 181.5h0M462.0 176.5h0M482.0 184.1h0M534.5 183.5h0M530.8 186.9h0M492.8 182.1h0M567.2 176.5h0M443.1 175.7h0M472.4 180.7h0M501.1 188.2h0M521.6 184.4h0M490.4 181.0h0M480.3 183.8h0M492.5 179.3h0M474.8 185.6h0M536.6 183.9h0M564.4 179.5h0M484.6 177.2h0M529.6 178.8h0M464.9 181.4h0M550.3 180.3h0M457.6 179.4h0M508.0 184.5h0M541.2 177.2h0M491.7 183.8h0M495.1 188.1h0M493.6 178.9h0M569.2 176.8h0M520.6 188.1h0M484.5 183.7h0M526.1 186.9h0M490.6 181.4h0M544.0 177.2h0M521.0 186.2h0M541.1 176.1h0M512.8 183.6h0M506.6 187.8h0M534.2 175.0h0M508.6 183.4h0M550.1 185.6h0M452.3 178.9h0M532.1 183.9h0M457.6 175.0h0M459.1 175.6h0M512.1 181.1h0M514.3 184.7h0M559.7 174.9h0M519.7 186.6h0M548.7 184.4h0M558.1 184.2h0M516.1 177.1h0M465.6 179.9h0M569.8 175.4h0M481.5 179.3h0M537.4 183.2h0M518.4 177.5h0M460.1 180.3h0M515.5 186.0h0M509.1 186.3h0M515.3 183.8h0M524.9 187.8h0M528.7 186.4h0M495.0 179.9h0M531.1 178.1h0M539.2 181.8h0M570.8 176.3h0M494.7 182.5h0M515.1 176.1h0M509.9 183.5h0M497.7 176.1h0M483.2 187.6h0M535.8 176.2h0M536.7 180.3h0M539.2 184.2h0M518.6 187.4h0M457.7 179.1h0M506.8 186.7h0M448.3 175.9h0M472.6 184.2h0M492.9 185.1h0M450.4 175.2h0M528.0 176.6h0M496.3 177.5h0M470.3 178.2h0M515.2 176.1h0M454.3 176.1h0M457.6 178.4h0M480.4 183.9h0M449.6 175.3h0M493.1 183.5h0M517.6 187.7h0M506.3 184.8h0M479.9 175.9h0M558.1 184.8h0M550.4 183.5h0M502.9 186.7h0M555.9 174.9h0M467.8 179.3h0M466.4 176.2h0M448.0 178.0h0M482.2 176.2h0M554.5 178.7h0M459.0 177.4h0M470.5 184.2h0M533.9 185.7h0M465.0 183.3h0M527.9 177.7h0M489.9 179.4h0M556.5 180.1h0M471.3 184.2h0M524.7 187.1h0M569.3 180.0h0M510.5 187.8h0M519.5 184.5h0M474.1 177.5h0M452.8 178.9h0M473.5 184.5h0M512.8 185.8h0M558.1 175.0h0M445.9 176.2h0M491.5 175.8h0M506.5 187.7h0M513.8 179.6h0M488.3 179.4h0M543.3 181.3h0M507.2 184.4h0M530.5 181.3h0M565.2 183.4h0M463.0 178.8h0M472.1 182.4h0M542.0 177.7h0M544.3 185.1h0M505.1 187.0h0M516.9 181.6h0M446.1 175.9h0M515.9 176.5h0M464.9 184.2h0M498.9 184.8h0M545.3 187.3h0M559.4 180.0h0M544.4 185.1h0M460.5 181.1h0M447.0 176.9h0M509.8 185.9h0M518.0 187.1h0M548.2 186.0h0M474.6 186.1h0M531.3 177.1h0M543.8 187.5h0M494.9 183.4h0M469.6 175.2h0M447.0 176.4h0M538.3 187.8h0M472.8 176.3h0M459.9 180.2h0M480.2 182.6h0M451.4 179.7h0M540.7 178.4h0M471.4 184.9h0M513.2 185.0h0M501.5 177.3h0M488.8 183.8h0M493.9 179.6h0M449.1 177.5h0M553.9 180.3h0M556.7 181.7h0M492.6 176.9h0M491.0 177.8h0M469.5 183.3h0M465.4 179.9h0M462.8 182.8h0M469.4 181.7h0M481.6 182.3h0M570.6 177.7h0M468.1 182.5h0M477.2 188.1h0M465.2 183.0h0M492.6 175.9h0M534.5 184.7h0M488.4 186.2h0M563.3 181.8h0M535.5 176.1h0M541.7 181.3h0M446.8 177.4h0M512.2 186.5h0M533.4 184.8h0M535.8 179.3h0M460.6 182.1h0M477.9 178.7h0M494.2 183.1h0M554.1 185.2h0M479.5 183.7h0M469.5 187.3h0M444.7 175.6h0M546.6 175.2h0M480.3 179.3h0M561.0 183.9h0M528.2 175.4h0M554.4 185.1h0M523.7 187.1h0M497.1 183.0h0M506.1 187.2h0M462.1 180.7h0M503.3 186.8h0M528.0 185.1h0M461.1 178.7h0M532.7 180.9h0M532.5 188.0h0M492.4 183.4h0M505.9 185.8h0M502.5 185.0h0M474.4 188.0h0M486.6 176.3h0M515.0 184.8h0M528.3 185.8h0M502.5 182.1h0M565.6 181.4h0M564.0 177.3h0M522.2 182.8h0M495.5 184.6h0M549.3 176.5h0M491.1 176.1h0M446.5 177.3h0M481.6 183.4h0M471.2 179.1h0M472.0 188.3h0M512.2 183.2h0M472.6 181.7h0M526.0 180.9h0M522.7 180.7h0M549.5 175.3h0M484.9 183.6h0M556.7 183.6h0M534.6 178.9h0M530.8 175.3h0M548.7 186.2h0M522.3 181.7h0M514.8 183.3h0M478.6 178.2h0M510.9 185.7h0M473.9 183.9h0M464.6 180.1h0M457.9 182.2h0M450.4 179.0h0M456.2 178.7h0M541.9 181.8h0M462.6 176.2h0M554.6 187.4h0M474.5 181.5h0M545.0 183.0h0M534.6 184.9h0M534.5 183.9h0M484.9 178.1h0M551.1 177.1h0M515.3 182.6h0M533.4 179.9h0M549.5 177.5h0M457.8 179.7h0M528.5 185.2h0M465.5 185.9h0M517.6 175.6h0M567.7 183.3h0M496.0 179.8h0M493.1 175.7h0M570.0 183.5h0M456.9 182.0h0M478.7 178.5h0M490.0 184.1h0M545.6 177.0h0M478.4 183.0h0M521.8 178.0h0M569.0 180.5h0M512.5 177.6h0M460.6 182.3h0M455.4 175.3h0M474.2 181.7h0M457.1 180.0h0M522.8 184.6h0M471.1 181.8h0M489.1 184.8h0M448.2 178.2h0M481.7 187.2h0M465.2 180.6h0M571.1 181.8h0M504.5 185.5h0M546.4 183.0h0M449.0 176.6h0M522.5 184.6h0M563.6 176.3h0M499.1 177.1h0M535.7 185.9h0M451.2 178.0h0M481.8 181.4h0M442.9 175.8h0M442.9 175.4h0M544.5 178.4h0M493.4 177.5h0M549.1 178.0h0M569.7 183.1h0M493.8 178.8h0M474.1 176.1h0M492.0 183.3h0M526.9 177.4h0M488.9 179.7h0M487.5 184.5h0M485.0 178.3h0M469.0 178.1h0M512.5 179.1h0M464.5 184.5h0M460.1 180.6h0M497.5 188.2h0M506.8 186.7h0M483.3 181.1h0M565.3 183.1h0M483.2 178.1h0M455.6 174.9h0M497.4 175.3h0M470.1 182.7h0M533.3 185.9h0M477.0 179.2h0M487.9 175.0h0M460.8 178.2h0M490.7 179.6h0M469.1 179.8h0M556.9 176.7h0M523.2 181.5h0M515.3 186.8h0M550.4 179.0h0M500.4 179.3h0M496.0 183.1h0M471.4 180.2h0M516.0 181.4h0M518.6 180.3h0M537.3 175.0h0M493.8 176.6h0M458.0 174.9h0M505.3 187.1h0M550.7 179.6h0M563.4 176.7h0M508.0 182.4h0M449.9 175.4h0M474.1 177.4h0M500.5 181.1h0M554.0 185.7h0M477.9 179.6h0M451.1 177.0h0M505.3 187.0h0M545.5 176.8h0M541.7 180.9h0M489.1 186.9h0M446.3 176.6h0M549.9 186.7h0M465.1 181.6h0M551.9 180.0h0M558.7 186.1h0M569.9 182.1h0M555.5 178.4h0M467.1 178.8h0M497.5 188.1h0M485.6 184.1h0M523.4 184.5h0M519.9 178.9h0M465.0 184.5h0M531.7 182.0h0M458.3 182.0h0M467.0 174.9h0M531.4 178.4h0M488.3 184.1h0M494.6 186.3h0M523.6 182.6h0M548.1 182.8h0M500.9 181.8h0M563.9 181.9h0M472.1 180.5h0M478.5 176.5h0M478.7 176.8h0M529.5 182.2h0M562.9 181.6h0M519.7 182.3h0M498.8 175.4h0M479.6 178.9h0M528.9 185.0h0M495.0 186.5h0M557.9 184.1h0M496.2 183.7h0M548.2 176.9h0M518.3 180.9h0M454.4 175.5h0M535.5 179.3h0M486.2 176.2h0M565.0 185.1h0M502.5 184.6h0M501.9 184.8h0M528.7 180.1h0M567.7 175.1h0M492.9 177.1h0M526.0 178.9h0M493.7 179.5h0M469.8 175.0h0M468.7 182.8h0M460.1 180.2h0M537.9 187.2h0M463.2 178.4h0M522.5 178.3h0M474.4 177.4h0M536.5 177.9h0M457.1 178.8h0M443.6 175.1h0M558.0 186.9h0M487.1 181.1h0M510.9 187.1h0M544.1 184.2h0M507.5 187.7h0M515.3 186.6h0M542.6 185.0h0M495.3 187.6h0M469.8 182.0h0M514.1 182.1h0M552.1 186.9h0M552.0 186.2h0M521.1 176.7h0M461.5 176.6h0M537.0 178.7h0M461.9 179.4h0M567.1 178.4h0M475.4 186.8h0M526.5 176.4h0M564.5 179.4h0M537.6 184.8h0M489.3 182.5h0M503.5 185.3h0M497.5 182.2h0M510.1 183.1h0M493.5 185.3h0M454.4 178.8h0M482.4 181.8h0M471.4 178.2h0M504.9 188.2h0M494.4 175.3h0M442.4 175.3h0M489.0 180.2h0M489.5 184.2h0M520.7 180.4h0M482.5 181.6h0M508.6 183.1h0M476.6 177.6h0M496.8 176.7h0M493.8 184.5h0M529.9 187.1h0M482.8 177.3h0M544.0 179.7h0M522.7 180.9h0M563.0 177.6h0M529.9 175.1h0M560.7 185.6h0M498.8 178.2h0M490.6 182.3h0M498.3 186.7h0M483.1 178.4h0M450.8 179.0h0M528.1 180.9h0M456.2 181.1h0M481.8 175.5h0M514.3 175.9h0M468.9 182.3h0M511.2 178.8h0M457.5 175.8h0M502.9 188.0h0M497.7 183.2h0M529.2 175.8h0M505.7 185.0h0M491.9 177.8h0M455.2 176.6h0M463.1 179.1h0M467.8 182.9h0M462.8 181.4h0M518.4 181.3h0M492.0 180.6h0M551.0 183.5h0M517.4 181.8h0M569.0 181.1h0M471.9 184.8h0M536.5 180.6h0M474.9 187.4h0M548.7 183.2h0M534.6 182.5h0M521.8 180.8h0M504.8 186.9h0M539.4 186.9h0M481.4 176.9h0M446.1 175.6h0M513.2 183.8h0M461.2 175.3h0M540.9 177.5h0M454.2 176.2h0M469.9 185.4h0M511.0 181.6h0M457.2 176.6h0M517.2 176.2h0M553.0 178.5h0M475.9 184.9h0M479.6 184.9h0M458.6 179.1h0M476.9 184.5h0M477.6 181.4h0M555.1 185.9h0M553.2 176.8h0M520.7 181.0h0M536.9 181.1h0M527.3 175.9h0M542.3 184.8h0M543.8 185.2h0M500.4 183.3h0M536.3 175.6h0M507.2 185.7h0M486.8 185.2h0M565.0 184.1h0M526.9 187.3h0M558.7 185.8h0M515.0 186.7h0M570.0 181.1h0M445.4 175.8h0M530.6 176.8h0M543.5 181.3h0M510.0 185.0h0M506.4 187.6h0M533.2 182.7h0M504.7 187.8h0M504.8 184.8h0M480.5 183.8h0M532.8 175.7h0M568.4 175.3h0M553.1 175.7h0M444.1 175.8h0M530.6 180.0h0M521.2 175.7h0M452.7 177.5h0M445.6 177.0h0M549.4 179.0h0M509.1 183.8h0M540.0 177.4h0M441.6 175.5h0M485.1 183.6h0M517.6 181.2h0M485.1 179.2h0M500.6 185.2h0M556.1 185.5h0M461.0 181.8h0M503.8 182.1h0M484.8 185.1h0M526.6 184.8h0M509.5 186.2h0M555.5 185.5h0M471.7 184.2h0M484.3 178.5h0M529.1 177.7h0M511.7 187.3h0M540.8 185.0h0M469.8 182.5h0M459.1 176.6h0M543.2 183.7h0M544.3 183.2h0M478.8 180.3h0M537.9 181.9h0M547.9 188.1h0M506.4 186.9h0M468.2 176.4h0M562.5 184.4h0M529.7 176.4h0M535.9 175.5h0M500.5 183.3h0M457.1 180.3h0M486.7 187.6h0M481.4 185.8h0M457.5 178.5h0M511.7 181.4h0M540.6 181.2h0M451.5 178.3h0M484.5 180.6h0M479.8 177.6h0M567.9 180.1h0M551.5 182.0h0M466.3 175.5h0M568.6 184.1h0M493.6 187.6h0M462.7 183.1h0M537.2 185.5h0M444.0 176.2h0M506.4 186.0h0M502.0 186.3h0M475.4 180.0h0M489.5 181.9h0M522.6 184.0h0M487.9 176.4h0M517.0 182.7h0M511.7 182.7h0M484.7 176.0h0M471.8 175.7h0M552.4 176.4h0M462.6 179.7h0M535.5 185.1h0M517.4 186.2h0M530.8 183.6h0M514.2 181.6h0M516.1 179.8h0M501.6 187.3h0M506.2 186.4h0M524.9 175.2h0M477.9 182.3h0M549.3 177.6h0M474.6 176.1h0M507.0 186.5h0M513.7 175.6h0M505.2 185.6h0M479.3 177.0h0M506.9 186.9h0M467.0 184.2h0M549.9 177.5h0M568.7 175.6h0M545.2 178.7h0M546.8 177.5h0M464.4 176.8h0M480.9 185.0h0M561.0 186.1h0M486.1 177.6h0M520.9 176.0h0M528.2 186.8h0M465.7 178.3h0M540.1 175.0h0M522.5 186.6h0M536.0 187.5h0M554.3 177.9h0M543.6 176.5h0M515.5 175.6h0M524.6 181.7h0M491.5 183.5h0M444.5 176.5h0M471.2 179.5h0M542.3 178.9h0M508.6 186.1h0M477.0 185.8h0M525.7 179.1h0M564.0 182.0h0M560.0 183.2h0M522.0 175.3h0M542.1 183.8h0M477.8 181.3h0M504.9 188.1h0M553.6 181.1h0M503.0 181.4h0M474.0 185.6h0M517.0 185.1h0M484.1 187.4h0M448.3 177.2h0M494.4 185.1h0M503.1 179.6h0M457.4 179.2h0M530.6 178.0h0M513.7 179.7h0M511.9 176.0h0M510.1 186.5h0M541.1 187.5h0M461.0 179.0h0M476.9 178.6h0M536.0 184.0h0M541.2 179.6h0M533.3 182.2h0M497.7 186.9h0M503.2 179.8h0M557.0 186.8h0M450.7 178.3h0M498.4 186.6h0M496.8 180.6h0M538.3 182.9h0M526.0 179.1h0M521.5 187.7h0M533.9 186.6h0M455.2 175.1h0M552.3 181.7h0M517.9 184.1h0M470.2 176.6h0M507.6 186.1h0M493.3 176.4h0M475.0 177.6h0M533.6 182.3h0M489.1 182.4h0M500.4 184.1h0M522.6 182.8h0M481.0 177.9h0M500.7 182.1h0M555.8 181.9h0M490.4 176.2h0M528.8 178.3h0M480.0 178.6h0M565.0 178.4h0M498.1 179.5h0M470.9 177.9h0M511.6 176.6h0M485.9 178.7h0M443.7 175.8h0M475.2 180.0h0M470.2 182.9h0M570.7 182.0h0M449.3 176.5h0M550.4 183.0h0M518.2 178.7h0M540.5 178.2h0M516.8 184.9h0M533.2 180.7h0M512.3 175.4h0M459.2 176.7h0M483.7 178.5h0M565.0 182.4h0M510.2 183.6h0M463.2 178.7h0M557.7 179.0h0M479.1 177.4h0M496.1 186.3h0M520.3 182.1h0M510.4 178.5h0M515.5 175.5h0M487.3 178.1h0M451.3 178.3h0M531.2 177.1h0M490.9 184.6h0M488.1 181.1h0M444.6 176.1h0M460.8 181.2h0M554.9 175.7h0M474.0 185.9h0M456.8 181.6h0M544.7 178.3h0M475.9 181.7h0M531.9 187.9h0M548.0 176.7h0M469.0 178.6h0M532.4 183.8h0M555.7 185.0h0M503.1 185.5h0M498.9 177.4h0M515.6 180.1h0M522.1 186.3h0M497.6 177.2h0M487.7 178.8h0M469.6 176.4h0M554.9 185.1h0M488.9 185.2h0M534.9 187.7h0M531.9 187.5h0M550.8 181.0h0M517.3 187.0h0M447.3 176.9h0M519.5 176.7h0M532.1 185.9h0M476.9 179.3h0M531.9 184.0h0M502.3 185.3h0M514.5 183.5h0M488.3 184.9h0M479.5 184.8h0M443.6 175.9h0M476.4 186.8h0M551.5 182.0h0M508.0 186.4h0M556.8 178.0h0M522.4 179.4h0M531.5 181.6h0M495.2 183.0h0M507.0 186.3h0M510.3 183.1h0M544.0 176.3h0M470.6 188.0h0M480.6 187.9h0M545.0 179.9h0M478.6 185.7h0M554.4 177.0h0M530.4 179.0h0M538.3 182.2h0M493.2 180.9h0M556.0 174.9h0M473.6 175.2h0M512.2 181.7h0M481.8 176.7h0M508.7 181.3h0M460.8 180.4h0M524.6 186.8h0M514.6 175.7h0M498.1 178.0h0M518.4 180.5h0M464.0 180.5h0M558.5 178.8h0M469.7 182.1h0M512.2 184.0h0M516.6 179.8h0M443.8 176.1h0M469.4 186.9h0M540.5 183.8h0M524.3 184.8h0M547.4 178.5h0M540.1 187.5h0M467.7 186.7h0M462.8 180.1h0M549.1 185.8h0M524.1 180.0h0M563.1 185.3h0M491.3 177.2h0M474.3 178.7h0M465.6 180.5h0M465.7 183.5h0M479.2 176.9h0M532.6 175.1h0M528.6 179.8h0M491.3 178.6h0M505.7 188.0h0M505.5 186.3h0M510.5 187.8h0M484.4 186.3h0M518.5 176.0h0M464.9 180.3h0M506.5 185.7h0M515.0 185.1h0M466.2 178.0h0M466.1 181.0h0M551.2 180.0h0M538.5 178.1h0M535.4 187.6h0M548.8 186.3h0M462.6 184.4h0M452.7 180.2h0M519.7 176.0h0M466.3 185.2h0M467.6 179.2h0M463.4 183.4h0M511.1 184.1h0M460.9 178.8h0M507.5 186.3h0M503.2 187.9h0M521.5 185.7h0M485.1 188.2h0M556.9 180.1h0M492.5 181.0h0M533.5 183.3h0M533.4 176.1h0M539.0 177.7h0M532.4 175.8h0M465.6 181.7h0M552.4 178.0h0M456.1 175.0h0M537.8 176.6h0M488.6 180.1h0M566.1 175.9h0M557.2 174.8h0M550.6 179.5h0M514.8 186.5h0M543.0 187.5h0M523.2 184.5h0M483.5 180.1h0M466.4 181.3h0M552.9 175.0h0M475.6 183.4h0M531.7 185.7h0M551.9 185.6h0M513.9 183.7h0M484.2 184.6h0M534.6 185.2h0M504.1 182.9h0M552.9 175.7h0M496.2 184.0h0M493.2 184.1h0M537.9 182.1h0M530.6 186.3h0M543.3 175.3h0M467.9 179.6h0M462.6 184.4h0M495.3 185.8h0M536.5 180.6h0M529.2 175.3h0M501.2 178.2h0M530.4 180.9h0M552.8 183.3h0M456.2 177.4h0M462.5 184.1h0M510.6 187.0h0M519.9 177.2h0M486.3 186.7h0M528.8 178.5h0M556.4 180.5h0M517.2 176.7h0M529.5 175.2h0M478.8 177.9h0M523.8 182.0h0M519.7 181.4h0M507.9 188.0h0M458.6 178.1h0M530.2 175.0h0M544.6 184.4h0M500.7 181.7h0M546.0 183.0h0M503.9 185.5h0M460.9 180.2h0M519.8 178.0h0M499.3 184.3h0M489.3 176.3h0M469.2 187.6h0M556.7 181.4h0M458.7 182.0h0M557.3 178.0h0M499.5 180.2h0M460.2 176.8h0M455.7 181.5h0M526.3 182.0h0M558.6 177.4h0M468.3 186.8h0M519.9 182.0h0M480.6 176.0h0M468.6 179.3h0M451.1 175.2h0M521.8 184.0h0M535.6 176.1h0M544.8 187.8h0M507.0 187.7h0M512.5 175.5h0M553.9 184.9h0M513.2 184.0h0M463.4 177.5h0M540.2 183.8h0M496.1 178.9h0M536.1 182.1h0M456.9 181.6h0M463.5 176.6h0M506.0 185.6h0M488.9 183.3h0M464.4 175.1h0M520.2 186.6h0M532.8 180.2h0M521.2 177.9h0M520.6 176.5h0M567.6 180.6h0M490.2 182.8h0M489.1 179.6h0M487.3 183.6h0M551.6 177.5h0M529.4 176.9h0M491.7 179.6h0M474.2 184.1h0M454.6 176.1h0M456.7 181.2h0M524.5 176.3h0M452.4 178.9h0M470.9 176.5h0M487.4 181.9h0M467.7 183.5h0M496.7 184.6h0M536.3 187.9h0M524.5 177.5h0M483.9 185.7h0M457.1 181.8h0M544.5 180.2h0M443.5 175.7h0M483.0 187.8h0M496.2 183.5h0M567.9 181.0h0M554.3 180.5h0M457.9 176.4h0M570.5 178.6h0M565.8 177.3h0M503.0 181.1h0M528.5 186.2h0M510.4 184.2h0M508.5 183.5h0M531.1 180.6h0M544.0 177.2h0M462.4 175.2h0M481.7 182.4h0M502.0 182.1h0M477.8 177.8h0M484.6 176.9h0M546.0 188.3h0M512.7 187.0h0M556.4 186.8h0M476.2 177.9h0M518.3 179.3h0M495.2 181.3h0M467.9 181.5h0M474.9 179.2h0M455.4 180.7h0M467.2 180.4h0M517.1 188.3h0M462.1 176.5h0M568.5 182.6h0M547.8 175.7h0M468.6 185.9h0M462.9 182.6h0M558.5 175.9h0M503.1 187.1h0M487.3 185.1h0M525.8 178.6h0M542.4 182.4h0M500.9 182.3h0M489.6 182.2h0M530.6 178.7h0M483.9 180.7h0M460.4 183.4h0M491.8 183.5h0M482.7 183.3h0M481.9 186.5h0M518.2 177.0h0M491.1 185.9h0M455.2 181.4h0M541.0 185.2h0M535.6 177.7h0M541.5 178.4h0M480.9 182.2h0M487.7 181.9h0M544.7 184.8h0M546.9 175.9h0M519.6 175.4h0M563.4 183.9h0M467.6 177.2h0M457.3 180.1h0M499.0 177.0h0M530.0 185.6h0M558.2 176.5h0M507.8 188.0h0M478.6 184.4h0M495.9 175.6h0M518.9 177.3h0M450.8 178.4h0M485.8 185.2h0M512.5 182.9h0M515.0 184.4h0M505.4 186.3h0M476.6 187.6h0M480.1 184.3h0M456.4 181.9h0M504.0 188.2h0M555.8 183.1h0M499.2 181.2h0M444.6 176.7h0M513.8 181.7h0M486.2 178.2h0M506.9 185.1h0M550.1 176.3h0M535.9 179.2h0M501.5 182.0h0M516.8 181.2h0M548.0 176.7h0M448.3 175.7h0M519.3 176.1h0M564.8 183.6h0M460.3 177.0h0M505.1 184.1h0M481.4 176.4h0M442.4 175.7h0M555.8 177.7h0M477.3 187.2h0M533.7 178.5h0M449.4 175.1h0M455.1 175.6h0M477.0 179.2h0M455.8 179.5h0M494.8 181.9h0M498.1 180.3h0M563.7 175.6h0M549.3 185.2h0M473.3 182.1h0M525.1 180.1h0M486.9 174.9h0M482.1 188.0h0M453.3 179.5h0M550.8 187.7h0M472.3 185.0h0M543.8 176.2h0M475.7 186.9h0M567.2 175.1h0M502.9 181.3h0M541.3 181.4h0M476.8 181.2h0M527.6 183.9h0M524.6 186.3h0M566.3 175.3h0M550.9 176.9h0M548.2 180.7h0M451.2 176.2h0M550.4 187.7h0M557.7 175.0h0M499.6 179.2h0M528.0 179.0h0M489.3 179.7h0M450.3 175.3h0M545.8 182.1h0M468.2 181.7h0M530.0 180.9h0M455.6 181.7h0M493.2 185.0h0M471.0 185.3h0M495.5 178.9h0M554.3 180.1h0M536.6 180.0h0M487.6 183.7h0M530.0 176.0h0M528.3 180.1h0M546.6 175.4h0M547.1 175.0h0M501.2 188.1h0M521.4 179.7h0M553.7 180.1h0M488.7 188.2h0M549.5 179.9h0M569.6 178.6h0M541.9 175.0h0M501.6 177.9h0M493.1 188.1h0M483.9 183.6h0M531.3 187.0h0M481.2 183.0h0M457.7 178.0h0M496.5 177.5h0M485.6 175.1h0M466.9 180.4h0M470.9 188.1h0M480.7 176.2h0M479.4 181.7h0M509.6 186.0h0M511.0 187.6h0M486.9 184.5h0M547.5 177.9h0M532.6 180.3h0M554.1 178.3h0M448.7 178.2h0M550.7 175.0h0M542.3 186.2h0M515.2 179.9h0M520.1 186.5h0M528.5 184.8h0M469.9 184.0h0M520.4 184.0h0M527.9 176.1h0M570.3 175.8h0M474.4 177.2h0M454.4 175.2h0M458.0 177.1h0M510.0 188.3h0M544.6 187.5h0M556.8 177.1h0M506.0 186.4h0M509.9 179.9h0M529.6 186.7h0M535.2 178.9h0M484.3 177.9h0M516.7 182.7h0M509.9 185.8h0M478.8 176.3h0M486.9 177.9h0M489.2 185.7h0M441.7 174.9h0M462.7 184.4h0M521.1 179.9h0M470.3 186.2h0M489.3 175.5h0M482.3 177.2h0M510.7 187.2h0M445.3 175.8h0M530.8 177.1h0M536.0 185.0h0M461.8 175.2h0M560.5 175.7h0M448.2 177.1h0M556.0 183.2h0M497.8 180.0h0M527.0 187.0h0M511.0 187.7h0M498.9 177.4h0M475.6 177.2h0M473.2 183.0h0M544.5 188.3h0M513.5 181.1h0M534.4 175.5h0M531.8 185.3h0M467.4 181.1h0M478.1 180.9h0M448.0 177.9h0M551.9 176.4h0M492.2 175.0h0M463.6 177.7h0M457.9 182.1h0M546.0 180.1h0M503.4 187.3h0M525.0 186.5h0M458.9 178.2h0M525.2 177.5h0M549.0 186.5h0M481.0 186.4h0M505.4 188.1h0M554.3 179.1h0M546.6 181.7h0M560.1 176.8h0M546.3 185.4h0M486.4 187.5h0M540.9 181.9h0M554.1 175.3h0M539.9 176.4h0M561.6 183.1h0M449.8 176.2h0M507.3 187.6h0M515.5 187.4h0M501.5 187.4h0M495.8 177.3h0M537.6 176.8h0M501.0 182.7h0M448.7 175.6h0M494.5 186.3h0M501.1 187.5h0M457.1 181.8h0M496.7 186.5h0M549.1 180.1h0M554.2 180.8h0M462.3 181.9h0M550.6 180.4h0M525.5 179.8h0M551.2 175.6h0M518.3 184.8h0M443.6 176.4h0M554.8 186.1h0M521.4 176.0h0M538.6 184.5h0M520.4 184.4h0M540.2 184.8h0M554.5 179.1h0M557.4 183.0h0M525.6 184.1h0M456.2 181.7h0M520.9 185.0h0M454.5 176.3h0M460.0 177.0h0M477.0 183.4h0M562.7 176.7h0M568.9 178.6h0M522.4 180.5h0M483.6 183.2h0M515.6 185.0h0M525.0 176.7h0M535.1 185.3h0M551.5 180.9h0M508.8 183.9h0M513.4 179.2h0M514.0 180.9h0M472.2 186.6h0M498.7 176.4h0M564.6 182.3h0M508.9 184.9h0M464.7 177.1h0M467.9 184.8h0M525.0 180.2h0M522.7 181.8h0M521.1 184.3h0M501.8 180.6h0M469.5 178.3h0M517.6 175.2h0M521.6 180.9h0M541.4 184.4h0M489.9 182.5h0M537.0 178.6h0M465.6 175.4h0M569.2 179.5h0M522.3 183.1h0M452.8 180.4h0M534.9 180.0h0M543.3 182.4h0M538.0 180.2h0M523.9 180.9h0M528.2 180.8h0M453.3 176.7h0M497.1 175.2h0M504.0 187.0h0M508.0 186.2h0M463.0 176.0h0M464.5 178.0h0M463.6 179.9h0M571.1 182.8h0M442.3 174.9h0M499.8 179.7h0M501.3 186.3h0M487.7 182.4h0M554.6 186.6h0M511.6 182.7h0M513.4 177.6h0M519.4 183.9h0M512.7 176.6h0M478.9 186.2h0M471.6 182.4h0M496.4 180.2h0M476.6 180.0h0M503.0 181.0h0M546.1 185.1h0M474.6 178.7h0M498.3 179.1h0M474.8 176.7h0M475.9 176.6h0M498.5 182.9h0M516.6 181.3h0M512.7 180.8h0M547.9 184.6h0M551.2 188.0h0M463.0 184.9h0M567.4 178.3h0M518.3 176.0h0M529.0 185.1h0M489.9 181.8h0M455.8 175.4h0M504.3 186.9h0M505.4 184.1h0M477.0 180.4h0M507.2 185.2h0M471.1 179.0h0M517.7 178.2h0M570.9 180.7h0M500.7 181.6h0M464.6 184.8h0M525.4 186.9h0M446.0 177.3h0M467.0 183.6h0M541.2 182.3h0M460.6 177.8h0M511.5 180.1h0M550.5 177.7h0M473.8 177.8h0M455.0 180.6h0M507.5 187.4h0M514.5 184.5h0M564.1 180.9h0M564.3 180.7h0M505.5 186.3h0M457.7 177.5h0M509.8 185.1h0M492.4 177.9h0M442.4 175.4h0M460.6 177.3h0M474.5 182.9h0M473.7 180.3h0M497.5 179.1h0M496.8 177.7h0M513.1 186.9h0M505.5 187.0h0M480.2 175.5h0M503.9 182.6h0M461.8 178.4h0M456.9 180.6h0M458.1 182.6h0M443.1 175.2h0M471.8 177.8h0M541.2 185.1h0M507.6 184.2h0M520.0 181.2h0M465.5 185.3h0M465.9 180.3h0M519.0 182.1h0M524.2 180.7h0M525.4 182.8h0M551.0 181.1h0M555.9 175.0h0M549.1 177.9h0M531.2 180.9h0M473.7 186.9h0M527.4 185.0h0M521.1 180.9h0M520.4 182.5h0M472.6 184.2h0M532.1 176.4h0M482.9 184.1h0M499.7 182.5h0M523.7 178.1h0M541.3 177.4h0M535.8 175.2h0M499.8 182.3h0M526.2 184.1h0M549.3 182.7h0M513.9 181.3h0M488.8 188.2h0M477.7 181.9h0M565.2 183.8h0M480.3 175.7h0M529.1 177.2h0M549.9 185.9h0M507.1 187.9h0M490.8 181.6h0M547.7 184.4h0M528.1 186.4h0M474.9 187.5h0M517.0 180.4h0M534.2 182.6h0M563.3 177.9h0M555.1 185.6h0M479.5 180.9h0M519.4 175.4h0M529.8 187.7h0M540.6 179.8h0M552.6 180.9h0M474.7 182.0h0M502.1 184.5h0M517.0 186.3h0M474.4 186.7h0M445.0 175.9h0M493.8 176.2h0M520.6 179.4h0M478.7 176.2h0M486.7 176.9h0M473.2 175.5h0M530.3 185.9h0M536.6 186.2h0M491.6 183.2h0M485.0 183.4h0M462.4 180.8h0M534.1 182.5h0M568.2 176.0h0M550.8 176.0h0M562.4 181.4h0M522.4 188.2h0M539.5 187.3h0M496.5 181.8h0M551.0 179.8h0M460.7 177.9h0M472.1 180.0h0M495.2 175.4h0M499.9 184.6h0M481.8 175.4h0M486.8 185.0h0M511.1 180.9h0M535.5 181.6h0M531.3 179.2h0M481.0 185.8h0M478.8 186.8h0M444.9 175.9h0M462.2 183.7h0M536.2 187.2h0M459.7 179.3h0M480.1 177.7h0M507.3 185.8h0M490.1 187.9h0M548.2 183.1h0M549.0 186.9h0M497.7 181.0h0M461.6 183.7h0M563.1 175.5h0M512.3 178.7h0M519.7 181.9h0M463.8 178.6h0M499.1 179.2h0M540.7 181.8h0M478.7 177.8h0M509.2 186.0h0M492.5 188.3h0M449.4 178.8h0M555.7 180.8h0M563.8 179.8h0M455.1 178.6h0M520.9 182.8h0M526.4 183.7h0M526.6 185.5h0M505.1 185.9h0M509.9 187.8h0M473.0 178.7h0M463.1 180.2h0M570.8 178.3h0M541.7 175.3h0M491.9 183.0h0M539.6 188.0h0M502.4 185.5h0M513.9 178.4h0M553.4 181.5h0M531.4 187.2h0M527.3 175.8h0M521.5 181.7h0M507.9 185.9h0M464.8 183.6h0M544.8 181.4h0M446.5 175.9h0M526.1 185.9h0M565.2 183.3h0M501.3 186.3h0M476.2 185.8h0M463.3 184.7h0M525.4 179.3h0M474.2 175.5h0M496.5 182.2h0M538.6 178.3h0M481.6 187.4h0M536.7 178.2h0M519.6 186.7h0M538.3 185.9h0M545.2 179.9h0M524.3 187.3h0M488.9 178.4h0M456.0 181.6h0M495.2 176.8h0M523.4 185.2h0M452.1 175.7h0M532.7 185.5h0M539.1 188.2h0M463.9 182.0h0M536.9 178.0h0M476.3 187.3h0M552.5 175.2h0M537.7 179.6h0M549.6 178.1h0M506.9 184.4h0M501.5 183.1h0M524.3 177.7h0M517.9 175.6h0M476.8 176.2h0M555.7 183.3h0M445.2 175.7h0M566.3 179.3h0M540.2 186.0h0M528.2 182.4h0M469.6 184.3h0M488.6 178.4h0M513.3 184.0h0M448.7 175.6h0M550.2 177.7h0M480.1 177.2h0M468.1 187.1h0M500.2 187.6h0M445.2 175.7h0M512.0 187.4h0M514.4 181.3h0M481.1 185.3h0M461.8 179.8h0M489.2 180.4h0M529.1 184.6h0M520.4 184.8h0M538.4 185.6h0M518.8 178.4h0M545.4 181.2h0M560.1 175.0h0M488.1 184.7h0M522.9 186.6h0M464.5 184.6h0M526.1 183.1h0M561.3 177.1h0M485.8 184.0h0M448.3 178.1h0M480.3 188.2h0M568.9 180.7h0M500.4 175.3h0M452.0 177.6h0M529.6 187.2h0M451.7 179.5h0M564.0 175.7h0M453.4 176.1h0M543.2 179.8h0M515.1 186.0h0M460.1 183.0h0M497.7 184.4h0M565.5 184.6h0M457.1 181.6h0M561.5 183.7h0M517.5 182.9h0M487.0 186.4h0M531.9 183.3h0M519.6 177.3h0M501.1 188.1h0M508.3 187.8h0M459.4 179.1h0M511.4 185.8h0M517.3 184.1h0M532.9 187.6h0M550.9 182.3h0M464.0 182.3h0M523.1 187.0h0M450.9 177.5h0M465.8 184.2h0M512.6 179.7h0M460.1 181.8h0M520.0 185.1h0M445.1 175.5h0M546.3 176.8h0M469.1 183.7h0M519.5 180.0h0M522.9 180.9h0M471.9 185.1h0M452.5 180.0h0M452.7 175.5h0M460.5 175.1h0M522.6 188.2h0M491.3 183.4h0M481.7 187.4h0M473.1 188.1h0M499.8 181.8h0M471.6 175.9h0M556.7 181.2h0M545.7 183.5h0M539.4 177.8h0M487.3 178.3h0M487.2 186.0h0M496.0 186.8h0M534.8 184.9h0M506.2 185.2h0M519.3 176.1h0M535.9 179.0h0M537.8 179.0h0M560.9 179.5h0M513.0 181.1h0M506.6 187.2h0M534.3 179.7h0M441.8 175.4h0M493.0 179.1h0M502.5 187.2h0M531.1 175.2h0M453.4 177.1h0M521.1 181.5h0M507.4 183.5h0M554.9 182.3h0M547.2 179.3h0M546.2 174.9h0M547.9 175.9h0M470.9 181.8h0M557.1 178.3h0M517.8 176.3h0M561.6 185.2h0M479.4 180.0h0M539.4 184.3h0M481.3 176.1h0M544.4 175.2h0M453.7 177.1h0M454.6 180.2h0M475.2 180.6h0M483.5 186.3h0M452.8 176.6h0M457.5 178.6h0M568.9 180.8h0M546.9 188.0h0M555.0 177.8h0M537.2 183.7h0M505.4 183.4h0M449.5 178.7h0M501.3 178.7h0M514.8 179.4h0M448.2 177.7h0M535.7 187.1h0M484.8 186.0h0M451.1 176.6h0M523.9 175.9h0M458.0 177.9h0M488.9 176.9h0M519.3 180.0h0M498.4 187.2h0M514.3 185.3h0M532.3 183.5h0M476.4 181.3h0M448.9 175.7h0M456.8 177.6h0M458.2 178.6h0M512.3 179.7h0M468.7 178.2h0M489.2 185.4h0M466.5 181.6h0M550.2 182.4h0M547.3 182.0h0M517.1 184.9h0M494.7 178.5h0M479.3 183.7h0M467.3 179.9h0M465.0 176.7h0M530.7 176.3h0M458.8 181.6h0M482.2 181.5h0M549.9 177.1h0M553.3 188.1h0M555.1 185.2h0M482.9 185.9h0M551.8 186.8h0M498.6 185.3h0M473.5 174.9h0M534.4 178.4h0M487.7 175.1h0M553.7 174.9h0M547.7 185.0h0M468.5 175.4h0M544.9 178.3h0M527.6 188.0h0M563.3 182.5h0M511.6 182.4h0M509.9 179.9h0M550.1 183.0h0M552.3 185.9h0M486.9 184.0h0M449.5 177.9h0M479.7 187.0h0M497.0 180.5h0M457.9 179.8h0M513.9 178.3h0M494.4 175.0h0M474.7 178.2h0M451.8 175.3h0M464.0 176.8h0M556.3 186.0h0M556.2 175.4h0M487.7 177.7h0M535.1 180.7h0M491.8 184.1h0M547.6 177.8h0M564.4 184.7h0M533.2 185.4h0M444.2 175.0h0M534.2 183.8h0M498.5 177.4h0M453.7 176.5h0M501.7 177.4h0M523.6 176.4h0M466.8 181.8h0M479.5 181.6h0M539.5 175.0h0M559.8 176.6h0M536.9 178.4h0M455.2 175.5h0M490.0 185.0h0M462.0 184.1h0M531.0 180.1h0M580.1 178.0h0M577.8 175.7h0M568.0 179.6h0M588.3 179.1h0M575.6 178.4h0M574.6 176.5h0M569.1 177.7h0M586.1 178.9h0M586.6 178.9h0M583.6 180.3h0M575.2 177.7h0M583.3 178.3h0M567.5 177.8h0M590.3 179.4h0M419.0 184.1h0M426.5 183.6h0M429.0 183.4h0M469.0 185.1h0M597.0 184.0h0M583.5 175.3h0M598.0 175.7h0M436.5 179.9h0M434.0 176.7h0" stroke="#d3dbe2" stroke-width="3.85" stroke-linecap="round" fill="none"/>
<path d="M469.9 171.4h0M464.8 173.0h0M484.1 147.0h0M477.6 147.8h0M474.0 161.3h0M460.3 173.2h0M483.5 161.6h0M453.4 143.4h0M483.7 173.1h0M474.1 166.3h0M477.5 168.8h0M482.5 157.6h0M485.7 174.0h0M483.4 168.4h0M480.3 163.0h0M464.5 161.9h0M472.1 170.0h0M462.4 173.2h0M479.7 115.5h0M466.5 157.0h0M460.0 174.2h0M457.3 172.8h0M452.7 166.1h0M456.8 143.0h0M451.6 147.3h0M476.2 150.5h0M494.8 139.0h0M489.4 156.0h0M490.5 167.4h0M458.5 163.5h0M479.7 148.1h0M473.0 139.5h0M471.1 158.9h0M480.3 138.9h0M462.3 174.3h0M489.1 171.3h0M475.5 160.9h0M480.8 170.1h0M492.0 164.7h0M491.3 165.0h0M451.5 151.5h0M475.0 158.7h0M472.4 150.0h0M483.6 172.3h0M478.5 172.2h0M476.7 151.4h0M488.9 158.9h0M463.6 166.9h0M481.2 150.4h0M471.5 174.0h0M483.0 157.9h0M458.8 162.9h0M483.2 151.0h0M454.9 173.9h0M447.2 152.7h0M482.0 168.3h0M474.1 149.3h0M488.1 168.7h0M471.1 173.5h0M482.4 166.5h0M485.6 167.8h0M454.6 159.8h0M485.4 170.3h0M492.4 147.3h0M482.4 168.5h0M476.3 135.3h0M469.0 159.6h0M478.1 163.6h0M462.4 155.3h0M489.0 170.6h0M498.1 166.7h0M464.2 149.3h0M458.4 168.4h0M489.0 166.7h0M454.4 164.6h0M472.6 159.8h0M477.4 165.7h0M460.8 162.9h0M476.0 170.7h0M495.9 156.1h0M463.2 162.1h0M462.2 157.6h0M478.7 163.2h0M474.6 164.3h0M471.5 166.4h0M491.0 161.0h0M478.4 167.0h0M480.6 164.0h0M462.2 171.1h0M491.3 143.4h0M468.7 162.3h0M483.4 172.1h0M498.9 164.0h0M475.0 164.3h0M474.3 143.9h0M475.0 144.6h0M478.3 156.9h0M491.9 165.4h0M470.7 146.0h0M467.7 158.3h0M472.5 165.3h0M460.1 172.1h0M488.3 170.2h0M487.3 161.3h0M477.2 168.1h0M496.2 171.4h0M473.8 147.1h0M466.5 171.2h0M467.9 169.0h0M476.2 164.5h0M490.0 162.1h0M483.8 158.7h0M450.2 161.3h0M472.0 166.7h0M467.6 133.3h0M478.6 166.3h0M474.5 170.7h0M476.2 169.0h0M469.2 166.9h0M468.6 139.2h0M469.9 173.5h0M479.7 135.7h0M481.7 174.0h0M452.5 168.5h0M471.8 168.6h0M472.8 169.7h0M477.6 171.8h0M480.7 163.5h0M476.5 171.3h0M469.2 169.8h0M479.8 171.4h0M466.7 164.2h0M464.5 167.2h0M498.7 157.6h0M478.6 172.9h0M488.5 168.4h0M459.4 148.3h0M484.9 159.1h0M479.4 149.3h0M463.7 158.6h0M493.6 144.9h0M468.7 171.0h0M468.7 165.5h0M474.1 168.2h0M473.0 156.2h0M460.6 171.6h0M483.1 167.3h0M460.3 122.7h0M463.6 165.0h0M480.4 173.9h0M484.2 168.2h0M453.3 174.2h0M477.7 157.2h0M457.8 146.9h0M484.7 163.5h0M491.6 169.7h0M468.4 159.4h0M473.5 163.8h0M460.8 169.3h0M468.5 155.5h0M473.2 158.8h0M490.2 174.2h0M472.0 164.2h0M490.5 163.7h0M485.3 156.8h0M469.3 155.6h0M494.3 169.8h0M472.8 173.5h0M480.5 162.7h0M477.5 166.0h0M476.7 146.4h0M490.5 167.1h0M469.2 164.6h0M465.3 170.4h0M454.9 173.4h0M474.8 160.4h0M468.9 169.5h0M475.5 170.0h0M450.9 141.8h0M473.0 146.9h0M470.8 161.2h0M480.6 170.3h0M469.8 150.4h0M485.7 163.7h0M483.8 148.8h0M491.9 167.7h0M486.6 164.7h0M472.2 165.0h0M466.1 168.3h0M495.4 152.1h0M457.9 156.3h0M473.3 141.7h0M456.1 154.0h0M465.4 157.5h0M476.2 164.7h0M456.4 164.6h0M500.2 174.3h0M473.1 158.2h0M487.8 170.5h0M455.0 163.9h0M459.9 157.6h0M462.7 139.9h0M479.1 160.9h0M495.3 168.6h0M474.3 171.9h0M482.7 172.7h0M475.1 162.3h0M466.7 124.0h0M473.1 160.5h0M474.5 171.3h0M489.7 162.5h0M470.0 167.8h0M481.4 160.8h0M457.5 170.0h0M449.6 173.9h0M482.9 167.3h0M477.1 173.9h0M463.4 151.7h0M455.5 162.3h0M487.4 172.6h0M469.5 109.8h0M468.1 169.0h0M479.9 167.6h0M486.0 167.3h0M471.6 152.9h0M475.9 158.1h0M467.8 95.0h0M480.4 158.0h0M466.4 156.7h0M478.6 148.6h0M483.1 159.1h0M463.6 165.9h0M463.8 156.5h0M471.3 151.3h0M476.6 168.9h0M457.6 163.5h0M486.4 158.2h0M456.0 142.9h0M461.7 150.6h0M491.8 167.8h0M459.8 171.1h0M476.2 164.1h0M480.6 173.6h0M454.5 170.0h0M480.1 138.6h0M482.6 169.3h0M495.0 143.7h0M476.6 159.8h0M477.7 172.1h0M471.7 173.9h0M470.2 146.3h0M453.6 167.1h0M492.0 169.7h0M458.1 139.2h0M459.7 168.4h0M461.3 156.5h0M461.8 172.6h0M495.8 166.4h0M482.3 167.2h0M487.6 171.7h0M481.8 157.9h0M496.5 169.2h0M488.4 153.7h0M487.0 166.3h0M469.0 135.7h0M486.9 163.9h0M471.5 150.3h0M459.8 164.8h0M492.5 143.6h0M456.4 163.6h0M457.6 169.3h0M458.3 168.6h0M490.8 172.6h0M468.6 171.0h0M472.3 165.9h0M488.0 139.7h0M476.7 152.8h0M458.1 159.3h0M490.1 166.7h0M470.4 173.9h0M458.5 165.0h0M485.0 171.0h0M462.5 146.7h0M449.0 173.9h0M456.8 171.9h0M470.1 150.0h0M465.6 154.7h0M487.9 173.9h0M472.8 163.7h0M478.9 165.5h0M484.3 132.6h0M457.1 153.8h0M459.3 150.7h0M457.2 156.9h0M474.1 141.8h0M480.2 170.4h0M487.1 163.8h0M469.4 171.4h0M472.4 170.8h0M465.1 167.6h0M485.5 171.9h0M460.1 166.8h0M465.9 170.5h0M452.7 172.3h0M473.2 157.1h0M469.0 169.6h0M452.7 163.6h0M473.1 161.8h0M447.9 171.9h0M462.2 149.4h0M469.9 168.8h0M461.4 151.5h0M480.2 163.4h0M471.2 164.3h0M491.3 174.0h0M447.0 161.3h0M478.2 151.7h0M471.6 140.6h0M456.4 146.6h0M465.3 171.4h0M480.2 173.8h0M483.0 159.7h0M482.7 163.9h0M463.1 163.8h0M477.7 153.8h0M474.4 117.3h0M474.2 172.1h0M474.5 161.1h0M484.4 155.4h0M471.8 163.7h0M465.0 173.8h0M478.6 161.4h0M461.2 172.1h0M480.1 170.6h0M463.1 173.0h0M469.6 165.0h0M462.9 161.7h0M454.0 170.4h0M472.8 159.3h0M492.0 171.0h0M480.5 159.1h0M463.5 158.1h0M450.7 167.1h0M454.8 154.9h0M478.8 169.1h0M461.4 167.5h0M455.9 163.8h0M488.4 169.4h0M462.8 169.9h0M474.8 172.1h0M451.5 168.8h0M462.3 154.5h0M489.4 150.2h0M493.9 173.5h0M478.5 174.2h0M479.7 166.1h0M470.6 171.4h0M463.5 118.8h0M470.6 174.1h0M467.6 133.3h0M472.8 160.0h0M479.9 169.6h0M465.0 164.4h0M474.0 161.9h0M483.6 155.3h0M484.3 126.3h0M475.0 168.7h0M462.8 173.6h0M461.1 112.0h0M459.1 174.2h0M479.3 168.9h0M468.8 125.2h0M473.4 172.1h0M474.7 169.6h0M486.6 153.6h0M472.2 173.4h0M470.6 133.5h0M475.1 156.2h0M466.8 171.5h0M470.3 168.7h0M466.0 161.4h0M479.1 163.0h0M452.2 154.8h0M472.6 159.1h0M472.2 146.2h0M489.2 161.0h0M479.2 168.5h0M467.9 143.0h0M473.1 151.2h0M486.6 160.6h0M486.4 163.9h0M460.7 168.1h0M478.4 161.8h0M471.9 173.8h0M479.4 148.4h0M455.8 173.1h0M467.3 125.0h0M474.9 174.3h0M495.7 164.1h0M488.3 172.6h0M455.6 166.3h0M469.0 171.8h0M454.8 170.6h0M485.8 173.5h0M478.3 166.7h0M468.9 174.2h0M472.7 170.0h0M483.1 158.8h0M460.5 173.5h0M459.9 166.0h0M446.1 172.6h0M491.8 161.0h0M478.0 171.6h0M476.7 170.1h0M452.0 169.7h0M479.0 141.6h0M462.9 165.8h0M469.2 165.3h0M458.4 174.1h0M488.5 166.1h0M483.7 148.0h0M473.5 169.9h0M470.7 168.3h0M478.3 156.9h0M481.7 151.2h0M483.4 166.9h0M480.3 136.9h0M485.0 164.5h0M468.1 149.7h0M485.1 169.5h0M480.7 162.0h0M480.1 174.3h0M476.1 157.6h0M488.4 140.9h0M457.1 152.3h0M488.2 171.3h0M498.8 168.9h0M475.4 173.8h0M494.6 165.5h0M470.9 169.8h0M475.0 140.0h0M492.4 174.3h0M472.5 125.6h0M486.7 171.9h0M467.3 164.6h0M459.8 172.4h0M481.4 166.2h0M496.3 171.1h0M465.4 171.0h0M463.0 173.6h0M475.8 170.8h0M481.6 166.0h0M467.0 172.9h0M454.7 172.8h0M476.0 172.3h0M476.5 154.6h0M465.0 156.7h0M464.5 166.5h0M460.1 125.7h0M473.7 163.2h0M488.1 168.0h0M489.0 173.8h0M474.9 142.6h0M470.3 174.1h0M490.5 169.3h0M482.0 163.9h0M486.3 170.7h0M469.3 174.1h0M458.6 171.5h0M468.6 138.1h0M474.1 164.2h0M486.1 153.1h0M470.6 155.8h0M498.7 158.8h0M451.4 173.8h0M492.2 160.4h0M483.1 160.4h0M473.3 164.3h0M465.3 166.3h0M474.8 163.8h0M493.1 157.4h0M478.0 130.9h0M476.0 166.2h0M485.6 169.1h0M481.7 167.1h0M489.8 151.2h0M446.5 170.8h0M461.1 173.3h0M480.8 166.2h0M470.1 147.9h0M465.3 170.5h0M456.4 172.7h0M480.8 157.7h0M492.2 170.9h0M494.3 154.0h0M494.5 174.4h0M467.4 171.0h0M459.7 155.3h0M460.9 146.2h0M466.9 159.0h0M477.1 166.9h0M473.5 159.2h0M492.9 161.1h0M458.1 172.0h0M490.2 153.0h0M489.9 160.3h0M483.0 167.0h0M475.9 172.7h0M465.7 174.1h0M455.7 170.9h0M455.5 160.2h0M471.7 173.0h0M462.4 164.0h0M477.9 169.0h0M472.4 169.9h0M467.7 165.8h0M459.4 172.1h0M463.6 174.3h0M478.6 170.6h0M484.0 162.4h0M479.8 139.9h0M472.0 164.0h0M468.0 164.8h0M486.1 165.5h0M471.3 155.5h0M485.5 157.3h0M478.3 158.9h0M459.8 171.3h0M452.7 121.3h0M490.2 171.5h0M467.6 169.7h0M485.5 156.8h0M469.4 162.7h0M462.1 148.1h0M489.1 121.6h0M475.6 150.7h0M478.2 152.2h0M473.7 173.2h0M479.0 172.0h0M469.4 151.6h0M493.7 159.1h0M456.5 168.9h0M473.0 162.3h0M480.2 156.9h0M456.9 164.8h0M491.8 164.5h0M467.4 128.1h0M485.1 149.3h0M452.4 137.4h0M479.9 173.8h0M472.3 161.9h0M472.6 173.1h0M467.0 171.1h0M489.7 121.9h0M449.7 158.4h0M486.1 163.2h0M464.7 174.0h0M462.3 156.4h0M498.1 155.4h0M473.1 154.9h0M477.5 164.4h0M479.1 166.9h0M463.6 153.7h0M496.5 165.6h0M470.7 171.6h0M470.1 126.5h0M475.3 168.2h0M482.9 159.3h0M488.3 165.7h0M470.7 174.0h0M465.6 165.6h0M476.0 163.3h0M460.8 164.5h0M493.0 170.6h0M494.6 164.4h0M473.2 156.3h0M474.3 169.4h0M481.8 173.3h0M472.5 169.6h0M477.2 172.3h0M496.0 154.2h0M475.8 171.8h0M455.1 166.3h0M498.0 169.0h0M468.3 174.0h0M472.2 170.2h0M453.3 168.8h0M449.5 169.8h0M475.2 167.7h0M456.4 170.6h0M453.5 152.9h0M463.9 166.3h0M474.0 144.5h0M464.6 150.9h0M468.8 170.1h0M452.2 164.3h0M482.2 172.9h0M472.1 165.2h0M479.7 171.7h0M476.9 157.5h0M493.4 170.6h0M473.5 153.5h0M483.7 158.5h0M477.9 170.3h0M460.6 165.1h0M453.2 146.5h0M485.4 164.4h0M484.6 159.5h0M468.9 172.3h0M490.1 174.3h0M486.7 166.3h0M491.9 173.9h0M481.0 160.8h0M498.5 160.2h0M474.7 163.2h0M474.0 169.5h0M464.1 116.1h0M472.3 162.4h0M473.7 173.7h0M492.1 147.9h0M467.6 156.6h0M491.8 173.6h0M459.6 171.4h0M467.5 160.3h0M476.5 162.2h0M455.4 143.8h0M472.9 173.3h0M461.1 149.2h0M459.2 152.7h0M466.8 174.4h0M464.2 165.6h0M484.6 174.4h0M489.6 157.9h0M458.0 157.1h0M472.2 171.0h0M483.4 168.7h0M460.5 168.2h0M472.3 150.2h0M451.5 170.9h0M484.7 168.8h0M473.8 169.2h0M493.0 173.9h0M465.7 154.1h0M476.9 159.9h0M461.8 155.7h0M465.7 146.5h0M460.4 164.9h0M484.3 168.6h0M485.4 147.3h0M473.4 142.5h0M482.9 162.9h0M475.7 168.6h0M480.6 163.8h0M475.9 145.2h0M484.2 166.8h0M462.1 161.1h0M460.0 161.3h0M462.2 171.4h0M460.4 171.2h0M468.9 170.7h0M464.0 150.4h0M467.4 155.4h0M478.3 174.4h0M475.5 165.7h0M475.0 173.2h0M480.3 161.6h0M482.0 170.0h0M482.0 149.9h0M467.5 171.4h0M475.0 163.8h0M465.7 155.0h0M479.2 160.0h0M466.3 168.8h0M480.1 165.2h0M485.7 151.6h0M464.1 168.9h0M464.4 150.5h0M466.8 151.8h0M469.1 155.7h0M474.9 162.7h0M491.9 154.0h0M472.5 172.7h0M485.0 161.4h0M446.1 173.6h0M454.9 164.5h0M458.7 143.7h0M472.1 155.3h0M479.0 132.4h0M493.6 167.4h0M479.6 173.6h0M469.2 130.5h0M465.5 172.5h0M479.1 168.9h0M480.1 171.5h0M476.2 143.7h0M469.6 171.6h0M483.5 166.3h0M489.8 172.3h0M459.6 167.6h0M454.3 162.4h0M488.3 169.8h0M459.3 164.3h0M489.3 173.6h0M461.1 151.1h0M476.9 172.4h0M457.8 164.1h0M472.9 170.3h0M469.2 113.0h0M470.2 174.4h0M472.3 160.2h0M467.6 163.2h0M455.4 150.8h0M456.0 150.9h0M447.1 171.6h0M483.8 172.8h0M462.4 156.3h0M450.5 164.2h0M453.3 171.7h0M482.1 127.3h0M486.8 167.1h0M491.6 170.2h0M490.3 169.8h0M459.4 160.1h0M480.2 160.7h0M485.5 167.9h0M488.4 169.6h0M464.8 155.2h0M472.3 163.2h0M471.7 163.7h0M463.2 171.4h0M478.9 171.4h0M476.3 166.8h0M472.5 173.3h0M477.8 168.9h0M469.2 169.8h0M462.2 169.9h0M485.4 156.7h0M466.5 161.9h0M460.8 170.2h0M470.8 164.6h0M483.2 174.0h0M479.6 157.9h0M477.2 171.9h0M461.8 165.5h0M455.9 167.0h0M478.9 140.9h0M464.6 169.5h0M473.9 168.2h0M479.7 168.6h0M479.4 169.2h0M478.4 172.3h0M477.9 158.8h0M478.6 156.3h0M465.0 142.5h0M480.6 124.9h0M478.9 167.8h0M488.5 158.5h0M471.0 156.1h0M472.8 154.1h0M474.3 164.2h0M470.2 161.0h0M485.5 169.6h0M492.5 149.4h0M464.4 164.5h0M469.5 151.7h0M478.2 171.6h0M468.4 140.0h0M470.2 158.5h0M473.0 168.9h0M463.3 172.0h0M454.5 170.5h0M466.5 173.0h0M461.1 172.5h0M453.2 173.5h0M462.7 157.2h0M495.7 172.5h0M453.2 158.8h0M473.5 172.1h0M492.9 155.9h0M467.4 167.3h0M480.6 160.8h0M488.5 167.0h0M463.6 170.4h0M459.7 142.6h0M465.6 167.2h0M457.0 160.1h0M476.9 169.6h0M493.6 173.6h0M477.1 140.4h0M470.9 166.8h0M486.7 171.9h0M483.4 125.9h0M465.6 171.5h0M478.2 149.2h0M484.9 169.4h0M477.4 173.4h0M476.7 172.8h0M467.4 171.7h0M486.7 169.2h0M482.9 163.0h0M472.2 140.8h0M489.3 153.4h0M470.9 157.7h0M474.4 140.1h0M456.9 164.6h0M448.8 161.8h0M490.8 162.1h0M456.1 174.1h0M472.8 142.9h0M484.3 166.2h0M466.9 166.0h0M463.7 173.6h0M480.2 172.4h0M484.6 174.2h0M485.7 156.9h0M496.9 159.9h0M463.1 170.3h0M470.2 161.6h0M467.3 168.5h0M459.3 157.8h0M480.0 162.2h0M495.1 151.8h0M490.2 162.7h0M460.1 165.1h0M460.1 168.6h0M463.7 171.8h0M491.2 167.1h0M474.1 140.4h0M475.1 160.6h0M448.8 172.5h0M473.7 136.8h0M473.6 174.4h0M472.4 169.4h0M492.8 167.4h0M478.9 173.6h0M472.2 154.6h0M467.7 174.1h0M479.1 145.5h0M497.4 168.2h0M480.1 166.2h0M474.0 170.7h0M490.3 167.4h0M461.4 168.1h0M483.9 156.7h0M464.7 135.9h0M494.3 161.9h0M470.4 149.4h0M472.6 161.4h0M474.9 154.5h0M474.2 168.4h0M478.1 158.8h0M464.0 157.3h0M479.4 134.9h0M457.5 163.8h0M490.0 173.7h0M462.7 170.5h0M474.7 170.1h0M483.0 170.6h0M452.5 158.4h0M485.0 173.7h0M478.9 172.1h0M492.6 173.8h0M476.6 160.8h0M478.3 141.7h0M463.1 160.4h0M477.9 165.8h0M457.3 165.9h0M485.1 156.7h0M460.5 171.7h0M462.5 172.0h0M463.8 135.1h0M474.2 173.2h0M465.5 149.5h0M464.8 173.1h0M469.0 160.3h0M467.9 161.0h0M491.2 143.1h0M460.4 141.4h0M493.4 167.2h0M492.6 172.9h0M490.9 166.5h0M485.9 167.3h0M474.8 154.7h0M472.5 171.7h0M456.9 169.9h0M461.5 95.5h0M462.9 168.4h0M471.0 172.0h0M450.5 159.2h0M484.1 143.2h0M454.6 162.6h0M479.3 166.9h0M475.6 165.5h0M480.8 170.9h0M468.8 136.8h0M463.6 150.9h0M453.5 171.3h0M498.1 173.6h0M464.8 151.8h0M460.7 138.6h0M488.2 168.6h0M481.8 108.6h0M468.8 142.4h0M480.2 165.3h0M467.7 153.7h0M472.3 161.2h0M460.5 163.2h0M467.2 168.7h0M463.5 165.1h0M466.0 173.4h0M468.0 165.9h0M478.2 137.7h0M469.4 166.4h0M463.7 168.8h0M458.7 166.5h0M461.3 163.0h0M468.4 164.6h0M484.7 169.5h0M477.6 174.4h0M494.7 169.1h0M478.1 141.1h0M455.4 166.0h0M493.2 170.5h0M480.7 161.6h0M455.6 161.3h0M486.4 164.9h0M464.6 144.5h0M466.2 172.2h0M483.1 172.9h0M464.8 155.0h0M473.2 165.6h0M487.0 170.2h0M467.9 170.2h0M496.2 163.5h0M483.5 166.5h0M459.4 163.4h0M489.1 172.8h0M458.3 161.4h0M488.6 174.2h0M467.0 171.5h0M479.2 172.4h0M496.2 161.0h0M469.4 166.6h0M484.4 172.3h0M466.5 155.9h0M469.4 170.6h0M485.9 165.5h0M461.3 168.6h0M466.9 170.2h0M484.3 167.4h0M478.4 168.9h0M485.9 136.6h0M455.7 168.7h0M457.6 152.5h0M468.1 150.2h0M480.0 168.0h0M456.3 149.2h0M475.3 164.0h0M454.7 169.3h0M465.0 165.8h0M484.9 158.9h0M481.6 142.1h0M476.0 168.9h0M455.8 166.6h0M492.2 173.0h0M458.4 122.8h0M472.1 173.3h0M460.8 169.0h0M479.2 158.9h0M485.4 174.1h0M466.5 166.9h0M475.4 142.6h0M488.2 148.0h0M458.8 172.8h0M479.7 165.2h0M468.0 171.4h0M481.0 169.5h0M480.5 154.0h0M484.6 151.4h0M468.0 140.7h0M477.1 148.1h0M480.9 169.8h0M479.5 137.4h0M480.5 174.3h0M485.2 169.9h0M473.4 164.8h0M477.4 164.6h0M470.1 170.2h0M481.9 167.4h0M493.1 164.0h0M461.5 172.1h0M478.9 172.3h0M454.4 168.8h0M458.1 168.6h0M469.7 170.2h0M464.5 165.4h0M475.0 152.5h0M472.8 173.6h0M480.8 173.9h0M471.8 160.6h0M470.2 166.4h0M471.7 170.4h0M485.8 162.3h0M472.6 171.3h0M457.2 152.9h0M476.0 167.3h0M483.4 165.3h0M470.6 170.7h0M484.4 154.9h0M473.7 148.1h0M486.4 171.1h0M478.0 169.6h0M467.5 163.5h0M456.0 150.0h0M474.1 149.1h0M494.1 171.7h0M470.9 148.8h0M447.1 165.2h0M480.9 162.8h0M482.2 155.9h0M482.5 170.9h0M459.8 170.6h0M464.2 160.1h0M475.4 158.5h0M491.9 174.3h0M487.7 173.2h0M457.1 158.8h0M486.0 158.4h0M486.5 172.6h0M446.2 167.2h0M466.1 140.9h0M480.0 157.8h0M476.0 159.3h0M483.1 168.2h0M452.4 163.6h0M489.9 168.7h0M470.2 170.4h0M485.9 130.7h0M472.1 168.1h0M494.5 171.9h0M480.5 148.8h0M455.1 174.0h0M461.4 173.6h0M454.3 165.7h0M493.1 153.7h0M462.7 162.2h0M459.5 146.1h0M454.6 170.8h0M484.6 157.5h0M476.9 169.4h0M476.2 155.5h0M476.6 170.8h0M463.6 174.2h0M453.2 154.8h0M481.8 164.5h0M473.5 158.4h0M467.8 153.3h0M477.4 170.0h0M462.0 170.4h0M462.5 157.6h0M462.7 156.4h0M472.1 165.2h0M454.1 152.8h0M470.2 168.4h0M475.8 135.1h0M471.8 163.0h0M479.2 162.2h0M458.3 172.4h0M486.2 169.6h0M498.5 163.0h0M475.2 120.6h0M488.6 171.9h0M489.3 167.7h0M470.3 152.5h0M476.4 147.3h0M496.4 170.5h0M454.4 151.7h0M463.0 164.2h0M474.5 133.3h0M485.7 172.1h0M479.2 174.3h0M497.5 173.3h0M491.3 173.1h0M485.0 103.7h0M476.1 139.0h0M486.3 149.6h0M494.2 150.9h0M475.5 144.0h0M458.7 169.1h0M463.1 165.8h0M482.2 164.5h0M483.1 160.7h0M471.3 167.2h0M452.3 169.1h0M493.1 170.8h0M462.9 167.8h0M490.1 170.1h0M479.5 168.7h0M475.4 149.5h0M474.9 141.0h0M451.8 158.0h0M476.0 154.0h0M490.8 162.0h0M475.0 140.6h0M479.0 173.3h0M483.8 147.6h0M466.7 155.7h0M467.1 172.7h0M474.7 167.3h0M461.4 162.2h0M476.6 154.8h0M469.1 173.9h0M453.5 150.9h0M451.7 164.5h0M471.6 172.9h0M466.8 170.5h0M466.3 170.0h0M467.7 130.9h0M467.1 135.9h0M474.6 169.6h0M458.7 169.8h0M480.1 155.9h0M487.0 138.8h0M467.5 163.0h0M497.1 170.6h0M467.0 166.4h0M492.6 163.4h0M473.2 173.5h0M487.7 162.2h0M474.0 173.5h0M465.3 170.9h0M478.0 155.8h0M476.2 162.6h0M470.8 142.3h0M459.5 166.9h0M487.2 170.2h0M470.4 156.9h0M479.1 165.9h0M470.7 146.5h0M463.6 169.3h0M498.4 164.6h0M495.6 166.3h0M473.8 165.1h0M484.0 150.0h0M485.1 172.1h0M459.8 157.9h0M466.5 170.6h0M460.4 169.4h0M486.1 170.2h0M459.7 158.1h0M466.5 153.1h0M452.8 158.2h0M474.4 169.7h0M470.9 173.4h0M473.4 173.9h0M466.7 169.2h0M489.2 154.1h0M473.4 159.6h0M467.9 166.3h0M462.4 145.6h0M462.1 161.9h0M472.8 167.7h0M464.0 145.7h0M461.5 166.5h0M468.2 166.7h0M478.3 169.9h0M471.9 171.4h0M485.7 150.9h0M471.5 161.4h0M484.1 172.9h0M462.7 166.0h0M476.4 171.6h0M451.9 168.8h0M465.4 165.5h0M478.1 162.7h0M475.6 161.5h0M466.5 118.1h0M454.3 153.9h0M478.5 165.2h0M479.1 156.0h0M459.1 158.4h0M497.6 166.7h0M475.5 164.7h0M466.9 156.7h0M487.7 165.1h0M489.5 172.9h0M471.2 170.8h0M468.4 155.7h0M467.8 172.5h0M489.5 153.9h0M487.6 173.2h0M465.1 173.4h0M452.2 161.1h0M472.8 171.8h0M470.8 150.6h0M461.5 140.9h0M463.2 171.4h0M482.1 156.2h0M472.4 171.4h0M458.7 172.7h0M487.3 160.4h0M492.0 170.1h0M447.9 168.5h0M463.1 159.2h0M481.3 171.3h0M465.9 174.0h0M491.8 162.0h0M471.8 168.9h0M469.2 169.9h0M464.1 165.9h0M487.4 173.0h0M474.5 142.0h0M480.1 167.2h0M479.7 165.7h0M476.6 167.1h0M463.4 165.5h0M460.1 167.6h0M474.5 168.6h0M480.6 174.3h0M483.9 173.5h0M491.8 170.1h0M468.3 174.4h0M467.6 152.1h0M477.2 174.1h0M493.8 140.8h0M473.9 159.0h0M497.2 167.3h0M465.7 160.6h0M481.5 164.7h0M484.1 167.9h0M469.4 165.7h0M473.4 173.2h0M466.9 157.6h0M475.6 133.6h0M457.6 149.6h0M488.4 154.0h0M456.9 167.1h0M471.6 159.1h0M464.4 171.1h0M462.6 158.6h0M453.1 130.0h0M481.1 129.7h0M478.0 164.8h0M460.2 152.6h0M451.9 165.4h0M499.1 161.2h0M484.9 169.5h0M465.5 152.3h0M478.3 172.6h0M470.2 160.5h0M451.1 165.2h0M472.5 170.7h0M458.2 136.9h0M450.8 164.7h0M476.7 165.4h0M459.6 165.3h0M472.4 173.2h0M492.0 144.0h0M475.6 162.2h0M485.3 169.5h0M463.8 143.0h0M480.6 161.4h0M465.5 171.2h0M484.4 172.6h0M480.2 157.9h0M476.4 170.9h0M482.0 157.3h0M483.4 162.5h0M464.9 155.8h0M455.0 160.4h0M456.3 171.6h0M473.8 174.1h0M491.6 157.1h0M483.8 166.9h0M474.6 166.5h0M466.9 170.7h0M468.7 174.2h0M496.2 172.6h0M462.6 174.1h0M460.9 174.2h0M465.1 123.8h0M463.0 171.4h0M474.5 156.5h0M475.8 128.2h0M449.3 165.9h0M461.4 173.7h0M450.2 173.5h0M473.7 173.6h0M473.2 167.3h0M451.0 172.0h0M475.6 151.1h0M498.2 165.2h0M481.7 153.7h0M486.7 171.3h0M483.5 174.1h0M478.0 170.0h0M472.7 167.2h0M482.7 170.5h0M484.9 165.8h0M467.3 172.5h0M485.9 172.3h0M469.5 165.1h0M460.4 169.6h0M478.1 148.0h0M453.8 150.2h0M446.6 168.5h0M478.7 153.8h0M460.2 169.1h0M476.8 170.1h0M490.2 155.7h0M467.0 152.3h0M453.5 172.0h0M487.8 170.6h0M480.5 166.8h0M468.6 159.6h0M466.0 165.0h0M482.9 166.5h0M496.3 170.1h0M464.8 161.9h0M467.9 169.1h0M475.1 173.4h0M464.9 174.3h0M461.1 118.4h0M490.4 165.9h0M474.2 159.4h0M472.0 143.8h0M493.7 142.9h0M487.8 169.7h0M488.8 151.5h0M484.8 160.6h0M475.2 167.6h0M496.1 168.5h0M475.4 154.9h0M481.0 165.3h0M481.4 169.6h0M485.5 172.9h0M472.5 159.9h0M473.6 146.2h0M450.1 173.0h0M448.1 170.0h0M452.5 173.7h0M455.6 173.1h0M473.2 172.2h0M471.3 159.6h0M464.5 170.2h0M482.8 173.2h0M463.9 174.4h0M456.1 173.0h0M463.4 168.4h0M483.3 155.1h0M484.4 158.9h0M493.0 169.1h0M490.9 173.4h0M478.5 164.1h0M487.2 169.3h0M469.0 172.8h0M499.8 169.7h0M484.6 163.4h0M486.4 166.8h0M484.7 111.6h0M462.2 173.9h0M472.8 169.7h0M486.7 166.6h0M472.1 155.6h0M476.5 173.0h0M458.3 120.6h0M470.5 170.8h0M474.9 164.3h0M451.6 168.2h0M490.9 155.1h0M472.0 133.3h0M475.2 172.6h0M458.3 168.8h0M469.6 126.9h0M490.8 157.1h0M461.8 154.8h0M474.9 165.5h0M457.1 144.0h0M452.9 168.2h0M462.2 169.6h0M471.2 164.2h0M488.2 167.6h0M457.4 165.5h0M478.6 172.3h0M467.6 173.5h0M452.7 154.8h0M462.6 169.6h0M487.7 145.5h0M467.6 174.3h0M492.3 164.6h0M454.4 163.7h0M465.0 156.5h0M483.3 164.4h0M490.7 174.3h0M483.5 148.3h0M483.5 170.4h0M480.1 169.6h0M493.6 166.6h0M456.2 165.0h0M492.1 172.6h0M493.7 172.0h0M466.8 172.1h0M476.4 148.1h0M469.7 161.3h0M462.8 170.0h0M471.6 174.0h0M490.9 121.0h0M475.8 162.8h0M463.2 168.5h0M482.8 159.5h0M480.6 173.7h0M455.7 118.5h0M467.4 148.3h0M485.7 165.5h0M485.4 163.5h0M462.5 169.0h0M458.7 167.7h0M483.2 151.1h0M459.5 162.5h0M472.5 171.8h0M473.0 172.6h0M471.6 126.5h0M473.1 120.6h0M474.3 169.2h0M488.7 164.4h0M492.6 168.3h0M472.7 165.3h0M470.4 171.8h0M481.5 168.4h0M482.9 169.2h0M457.4 150.1h0M459.7 171.9h0M475.8 155.6h0M464.1 158.6h0M476.2 172.7h0M486.3 158.2h0M473.6 172.9h0M470.5 172.6h0M459.7 171.9h0M471.9 164.4h0M493.6 169.3h0M483.9 162.1h0M477.6 173.3h0M469.4 173.4h0M458.5 165.2h0M468.9 166.7h0M474.1 150.7h0M492.5 168.0h0M462.1 171.0h0M460.6 142.6h0M449.5 153.6h0M447.8 166.3h0M451.9 144.2h0M458.5 158.2h0M447.7 161.3h0M445.8 142.2h0M456.0 167.7h0M457.7 155.3h0M452.9 150.6h0M455.2 165.1h0M449.3 153.4h0M453.5 147.4h0M447.4 165.7h0M454.1 157.8h0M458.6 139.3h0M458.4 138.5h0M457.3 144.9h0M444.8 144.8h0M456.6 166.6h0M445.7 141.2h0M446.6 170.8h0M449.3 160.4h0M448.5 166.0h0M450.9 143.2h0M444.5 155.9h0M458.1 144.4h0M444.4 152.8h0M446.9 167.2h0M457.0 140.8h0M458.9 172.0h0M478.5 36.8h0M459.0 50.5h0M451.0 55.2h0M456.5 55.2h0M466.5 62.1h0M460.5 87.3h0M464.0 88.0h0M467.5 90.0h0M475.5 89.6h0M459.0 92.6h0M461.0 94.9h0M478.5 94.9h0M460.5 99.6h0M445.0 104.4h0M474.0 103.1h0M467.5 104.7h0M479.0 107.8h0M486.0 108.8h0M440.0 111.9h0M457.5 111.9h0M405.0 148.3h0M421.5 159.9h0M423.5 162.0h0M433.0 157.3h0M441.5 156.7h0M444.0 154.6h0M448.0 160.9h0M454.0 112.6h0M451.5 106.2h0M459.0 103.1h0M475.5 87.3h0M479.0 88.4h0M482.5 90.5h0M489.5 93.6h0M491.5 101.0h0M471.5 95.7h0M450.5 146.2h0M446.5 151.5h0M455.4 169.0h0M454.0 173.9h0M453.9 174.3h0M451.2 164.2h0M449.3 173.9h0M456.4 154.0h0M456.0 173.5h0M455.9 167.2h0M454.3 163.7h0M452.7 159.1h0M454.5 146.9h0M449.7 153.1h0M444.1 170.4h0M448.4 174.1h0M447.5 173.8h0M455.7 173.3h0M445.4 173.4h0M451.5 167.5h0M446.5 166.4h0M454.8 170.7h0M453.6 144.8h0M451.4 171.5h0M455.9 159.1h0M448.6 171.1h0M456.4 172.4h0M456.0 171.5h0M451.2 171.3h0M448.8 174.0h0M444.9 169.2h0M456.4 173.8h0M443.3 168.1h0M441.7 158.8h0M442.1 171.9h0M447.3 174.0h0M455.5 161.6h0M446.0 173.7h0M449.2 162.4h0M455.0 148.1h0M443.5 173.6h0M455.4 172.1h0M453.0 156.6h0M450.6 172.4h0M455.5 164.7h0M456.1 144.7h0M448.0 173.4h0M452.0 173.9h0M449.4 171.3h0M454.9 173.0h0M447.6 147.0h0M447.9 166.5h0M452.2 172.2h0M456.1 162.2h0M455.8 166.7h0M449.4 170.7h0M456.4 157.0h0M454.9 156.5h0M455.5 160.8h0M455.6 160.8h0M450.2 154.4h0" stroke="#5f73eb" stroke-width="3.85" stroke-linecap="round" fill="none"/>
<path d="M520.0 174.1h0M514.4 166.3h0M524.7 131.8h0M524.6 173.6h0M546.0 172.5h0M520.2 134.9h0M544.0 166.9h0M522.2 158.8h0M524.2 158.1h0M518.4 142.1h0M539.0 159.6h0M519.1 173.9h0M528.8 165.0h0M525.9 143.4h0M545.3 172.9h0M538.0 170.9h0M513.6 172.4h0M522.2 155.4h0M518.2 141.9h0M513.1 172.5h0M516.0 164.1h0M524.1 171.3h0M532.3 148.3h0M520.6 165.5h0M532.9 169.2h0M532.9 166.3h0M516.6 172.3h0M513.8 160.7h0M531.1 134.9h0M514.5 164.5h0M520.5 166.2h0M523.4 166.8h0M512.8 171.7h0M514.3 173.0h0M522.7 170.6h0M514.6 171.7h0M527.1 159.3h0M533.4 168.7h0M517.2 161.2h0M526.4 140.0h0M525.7 171.8h0M519.0 173.6h0M523.5 136.6h0M513.8 162.4h0M539.0 164.3h0M524.6 132.6h0M539.0 172.4h0M529.5 169.5h0M517.3 163.2h0M546.0 170.6h0M523.6 139.1h0M529.5 144.9h0M537.3 166.2h0M522.0 142.4h0M523.3 131.4h0M541.5 170.2h0M519.3 146.7h0M516.1 161.4h0M517.1 148.9h0M523.3 133.6h0M524.5 132.4h0M538.4 158.2h0M511.6 174.0h0M526.9 167.9h0M518.2 151.3h0M511.8 173.1h0M515.9 174.3h0M524.3 124.3h0M515.8 169.1h0M517.8 164.3h0M524.0 170.3h0M543.4 165.0h0M513.5 164.9h0M534.6 173.4h0M528.2 161.4h0M523.2 119.3h0M522.6 171.0h0M530.3 120.9h0M533.1 159.9h0M524.1 168.1h0M529.4 170.3h0M526.3 147.8h0M520.7 140.6h0M530.0 147.4h0M526.0 139.6h0M521.7 168.1h0M519.8 152.4h0M526.9 111.3h0M525.8 165.0h0M537.6 148.7h0M541.8 172.6h0M523.6 126.8h0M514.3 166.6h0M523.0 155.0h0M516.5 166.3h0M517.9 142.2h0M521.0 129.2h0M518.3 164.4h0M512.7 173.3h0M512.0 172.3h0M519.4 169.5h0M539.1 160.3h0M537.9 162.0h0M537.9 165.3h0M521.6 169.7h0M521.4 169.9h0M542.9 162.7h0M522.6 150.1h0M534.4 168.6h0M540.3 156.9h0M520.4 130.2h0M519.9 135.5h0M519.2 167.8h0M521.7 169.8h0M524.9 170.3h0M526.5 168.9h0M513.3 173.5h0M516.4 171.4h0M529.0 117.6h0M543.7 163.3h0M512.1 173.6h0M537.9 171.0h0M521.7 145.0h0M523.7 135.1h0M534.0 158.7h0M526.4 149.7h0M515.6 167.3h0M542.8 165.1h0M529.3 138.0h0M525.3 174.1h0M530.1 162.0h0M526.9 158.2h0M524.7 156.0h0M542.4 165.0h0M529.7 166.1h0M523.1 121.3h0M512.0 172.0h0M516.7 172.4h0M513.6 162.8h0M526.3 133.8h0M539.8 156.6h0M522.8 168.3h0M530.1 117.8h0M520.4 147.1h0M519.6 134.5h0M527.5 172.3h0M513.6 173.7h0M514.9 167.0h0M519.9 139.7h0M522.7 141.9h0M538.2 169.1h0M544.7 169.8h0M512.6 173.1h0M544.7 171.7h0M517.3 169.0h0M513.1 166.5h0M522.7 158.6h0M532.7 142.3h0M528.7 162.0h0M523.7 123.9h0M525.7 126.0h0M515.1 173.1h0M538.5 149.5h0M514.2 174.0h0M533.8 148.4h0M521.6 171.6h0M527.5 158.7h0M528.1 165.3h0M531.0 125.6h0M545.0 168.4h0M519.8 168.6h0M537.9 164.4h0M543.8 173.5h0M524.6 146.7h0M534.3 164.4h0M527.3 146.9h0M524.0 173.6h0M524.3 168.0h0M520.8 135.5h0M524.1 120.2h0M529.6 152.5h0M531.4 148.9h0M531.4 169.6h0M543.5 166.5h0M513.2 172.1h0M512.3 172.0h0M522.6 172.4h0M523.6 158.5h0M513.9 173.3h0M530.3 173.9h0M527.2 168.6h0M539.6 167.2h0M517.3 163.6h0M524.6 147.1h0M538.9 158.0h0M520.2 173.1h0M519.0 167.0h0M520.8 173.7h0M538.5 150.7h0M532.9 140.6h0M512.9 170.7h0M541.1 158.9h0M524.1 173.8h0M536.1 166.4h0M531.3 146.8h0M516.6 147.1h0M535.0 153.1h0M513.0 167.8h0M534.2 143.5h0M528.2 174.1h0M533.5 168.2h0M537.8 162.7h0M519.4 144.2h0M516.3 158.3h0M533.4 172.3h0M540.1 165.1h0M530.2 130.7h0M515.4 163.3h0M512.7 167.5h0M535.4 162.0h0M545.8 173.8h0M546.9 174.4h0M518.0 167.9h0M524.9 128.9h0M540.9 163.4h0M532.4 173.9h0M528.5 172.7h0M535.0 165.4h0M528.9 152.4h0M523.9 143.7h0M513.4 168.0h0M533.9 165.1h0M518.2 173.9h0M543.5 166.7h0M517.9 152.7h0M537.5 169.2h0M519.5 153.5h0M531.9 162.0h0M534.8 155.3h0M541.7 165.3h0M527.1 157.1h0M526.2 115.4h0M514.1 161.7h0M542.5 173.4h0M521.8 161.8h0M515.1 171.3h0M524.6 165.8h0M516.4 156.1h0M521.3 170.2h0M529.1 173.2h0M534.1 142.5h0M518.0 157.2h0M526.6 132.4h0M518.9 145.0h0M514.0 173.4h0M527.3 173.9h0M538.2 161.9h0M525.0 156.7h0M543.3 174.1h0M513.6 163.7h0M538.4 158.3h0M532.8 173.4h0M513.9 159.8h0M514.2 169.3h0M524.5 163.4h0M532.9 168.1h0M517.6 142.9h0M517.4 165.9h0M521.3 161.5h0M522.1 152.5h0M536.5 171.4h0M522.1 168.8h0M522.1 148.1h0M522.8 171.7h0M527.6 172.3h0M515.0 174.2h0M526.8 145.0h0M539.7 164.0h0M517.7 172.2h0M535.4 169.1h0M513.2 166.0h0M513.3 167.5h0M522.3 172.3h0M522.9 133.5h0M524.6 158.7h0M536.8 162.4h0M514.5 170.9h0M520.7 170.0h0M516.9 168.6h0M529.6 170.6h0M530.1 166.6h0M520.2 171.0h0M538.9 170.6h0M519.1 168.9h0M528.2 172.1h0M532.4 168.9h0M528.9 165.7h0M540.2 161.5h0M539.7 169.5h0M527.7 170.8h0M514.9 154.5h0M522.4 168.0h0M535.8 171.5h0M522.9 172.4h0M533.8 170.7h0M533.3 153.8h0M528.6 161.4h0M524.0 133.5h0M522.9 123.2h0M539.7 165.1h0M523.8 172.8h0M527.1 152.3h0M521.3 174.0h0M523.7 144.0h0M517.7 167.5h0M516.0 150.4h0M520.0 149.7h0M537.0 163.0h0M531.4 146.4h0M514.5 171.1h0M526.2 138.7h0M522.3 168.6h0M538.2 165.9h0M523.3 149.5h0M533.0 150.4h0M516.1 168.8h0M514.2 161.8h0M521.0 151.9h0M539.8 165.1h0M514.2 169.9h0M518.9 137.4h0M526.4 131.9h0M537.4 173.5h0M520.7 169.0h0M520.2 133.0h0M542.2 167.1h0M527.8 162.9h0M547.5 173.7h0M536.4 156.8h0M514.5 172.4h0M536.4 169.0h0M544.5 173.4h0M523.1 136.6h0M529.7 165.7h0M516.6 159.6h0M514.7 164.7h0M540.2 170.4h0M524.7 161.8h0M539.4 166.2h0M515.6 164.7h0M514.1 165.8h0M517.9 168.0h0M524.9 120.0h0M515.9 150.0h0M536.8 167.8h0M540.2 157.7h0M539.4 165.7h0M527.4 171.3h0M523.7 161.9h0M532.6 131.9h0M539.8 158.7h0M520.3 168.3h0M544.9 167.8h0M518.5 173.2h0M536.9 157.2h0M515.7 174.1h0M515.3 174.0h0M517.8 161.7h0M532.7 172.3h0M545.7 171.8h0M533.4 140.3h0M531.9 130.3h0M521.5 138.1h0M513.0 174.3h0M520.6 174.4h0M532.8 164.6h0M514.1 165.6h0M531.7 165.4h0M514.3 158.4h0M533.2 164.9h0M520.6 171.1h0M533.6 147.4h0M513.5 168.6h0M536.2 169.8h0M517.3 150.5h0M522.8 167.4h0M520.6 162.7h0M521.8 173.6h0M539.6 160.8h0M538.8 174.4h0M516.8 165.2h0M516.6 146.5h0M524.0 170.3h0M535.0 167.9h0M526.6 173.9h0M512.1 172.6h0M513.8 170.2h0M521.3 172.1h0M517.3 169.3h0M516.4 165.7h0M524.3 150.7h0M523.1 157.7h0M514.6 170.2h0M521.8 171.4h0M513.7 163.0h0M517.4 164.9h0M538.2 154.2h0M513.9 164.6h0M527.9 159.7h0M527.5 165.1h0M520.2 143.1h0M534.6 166.6h0M533.4 173.2h0M518.4 171.1h0M531.5 145.9h0M534.0 165.1h0M529.8 171.1h0M540.0 160.1h0M525.5 140.1h0M515.5 169.6h0M521.4 122.4h0M527.9 168.9h0M544.6 173.5h0M535.5 154.0h0M531.1 164.0h0M539.8 174.3h0M524.9 140.7h0M517.9 155.7h0M522.1 168.4h0M537.5 149.4h0M544.2 170.9h0M516.5 155.1h0M520.5 147.4h0M522.4 173.8h0M542.6 172.5h0M517.2 170.7h0M525.2 173.1h0M517.6 162.1h0M537.4 152.8h0M517.7 171.4h0M522.8 170.6h0M520.7 164.6h0M539.2 160.4h0M515.6 159.7h0M526.4 162.3h0M518.2 162.4h0M519.9 166.1h0M541.8 159.1h0M520.7 164.2h0M514.2 173.2h0M527.6 169.5h0M521.9 156.9h0M536.7 144.4h0M538.7 166.7h0M517.7 161.8h0M525.3 171.8h0M521.8 154.8h0M531.4 155.5h0M521.1 173.6h0M534.5 156.8h0M531.8 172.1h0M543.4 167.6h0M541.8 160.8h0M525.7 146.6h0M518.1 167.8h0M514.0 169.0h0M528.4 143.8h0M544.6 171.8h0M529.2 161.8h0M542.5 170.2h0M522.5 173.8h0M542.2 164.7h0M526.7 160.0h0M531.1 164.6h0M541.7 174.0h0M524.7 132.9h0M526.0 164.0h0M535.1 159.7h0M521.5 148.6h0M543.6 170.2h0M535.8 171.4h0M518.3 161.3h0M514.8 169.4h0M526.4 159.2h0M527.6 172.7h0M544.9 172.2h0M520.6 140.8h0M522.9 156.1h0M530.6 171.9h0M527.8 120.1h0M526.7 124.5h0M517.4 148.4h0M514.3 173.1h0M535.6 149.7h0M523.9 171.0h0M528.7 140.0h0M542.2 165.4h0M516.6 148.4h0M525.7 158.9h0M526.8 158.9h0M531.8 147.0h0M542.7 172.5h0M534.9 163.1h0M521.1 170.2h0M544.1 164.5h0M528.1 123.8h0M522.7 168.0h0M537.8 170.1h0M533.0 157.2h0M513.2 165.3h0M518.5 166.9h0M519.7 166.0h0M539.5 167.1h0M520.0 173.7h0M519.5 160.2h0M532.3 155.8h0M532.6 166.7h0M523.2 168.2h0M517.8 145.5h0M525.1 160.8h0M519.0 149.4h0M526.1 155.8h0M532.7 139.0h0M525.9 145.2h0M538.1 168.7h0M519.7 165.2h0M540.6 167.3h0M540.8 171.8h0M532.8 154.7h0M535.8 156.7h0M526.4 173.8h0M519.7 152.9h0M520.6 132.0h0M515.8 164.7h0M534.1 156.2h0M541.5 171.3h0M538.7 163.8h0M532.9 160.2h0M522.4 167.9h0M541.6 165.9h0M535.5 169.4h0M538.0 154.1h0M526.5 141.5h0M545.9 174.0h0M528.2 138.5h0M513.0 167.3h0M539.4 158.4h0M514.6 170.5h0M540.5 168.5h0M534.8 141.3h0M527.3 155.1h0M526.0 160.0h0M538.7 163.3h0M539.0 172.0h0M535.3 163.2h0M520.6 137.2h0M539.7 173.4h0M528.8 174.2h0M522.3 171.7h0M536.0 155.5h0M522.4 150.1h0M527.8 139.8h0M527.6 146.0h0M541.6 174.1h0M526.4 162.4h0M537.4 149.9h0M526.0 163.9h0M521.4 160.1h0M539.7 172.3h0M513.8 170.6h0M536.1 173.8h0M532.2 163.2h0M530.8 159.0h0M516.8 145.5h0M517.9 168.8h0M513.7 165.9h0M522.6 134.0h0M515.3 157.2h0M529.8 158.6h0M513.1 173.8h0M534.4 164.7h0M525.9 171.7h0M527.1 174.1h0M521.8 122.5h0M523.2 161.9h0M513.8 172.8h0M521.6 157.2h0M518.5 158.9h0M515.9 167.2h0M536.5 151.1h0M522.5 133.2h0M546.0 172.2h0M524.4 116.0h0M528.7 151.2h0M527.6 122.5h0M523.4 173.4h0M540.2 174.1h0M517.0 150.1h0M535.7 163.7h0M526.8 166.9h0M527.2 173.8h0M544.7 173.9h0M524.4 136.9h0M546.3 170.4h0M523.2 156.1h0M530.4 124.0h0M519.5 150.6h0M541.1 173.0h0M527.9 161.4h0M530.4 166.5h0M536.2 169.2h0M534.9 157.8h0M530.2 165.0h0M512.9 168.1h0M522.4 168.8h0M524.5 170.5h0M513.7 164.5h0M524.3 174.1h0M515.4 158.3h0M519.6 170.5h0M514.6 163.3h0M521.6 133.0h0M529.5 149.2h0M527.2 143.4h0M526.4 163.9h0M541.0 170.7h0M527.6 172.8h0M536.9 164.1h0M526.9 164.2h0M519.1 153.9h0M519.1 145.0h0M518.2 155.2h0M543.3 170.6h0M520.3 140.9h0M544.9 169.7h0M523.9 158.7h0M517.3 158.0h0M541.1 160.0h0M518.8 167.9h0M530.7 157.1h0M527.8 153.0h0M537.5 162.5h0M519.2 141.1h0M515.8 171.7h0M522.9 121.7h0M520.9 139.6h0M519.3 170.1h0M537.9 173.7h0M518.2 157.0h0M530.0 165.3h0M527.4 132.1h0M515.3 160.5h0M536.2 158.1h0M521.5 141.0h0M516.0 172.7h0M528.0 128.6h0M527.3 121.3h0M527.8 169.5h0M525.9 154.5h0M522.2 128.0h0M539.6 165.8h0M522.9 166.5h0M519.4 151.5h0M527.6 149.6h0M528.2 137.1h0M543.7 169.5h0M513.8 162.3h0M539.9 166.5h0M512.5 172.1h0M531.2 160.9h0M516.0 154.0h0M537.6 153.4h0M543.0 167.6h0M520.1 170.8h0M536.3 166.3h0M516.9 158.8h0M519.1 136.8h0M525.7 143.2h0M524.9 149.5h0M533.5 133.2h0M538.6 172.3h0M514.5 158.9h0M514.4 168.2h0M516.6 172.4h0M518.4 173.2h0M523.6 165.4h0M525.5 155.3h0M520.2 132.6h0M543.1 163.9h0M513.7 169.4h0M527.9 161.4h0M516.7 161.7h0M527.7 136.4h0M516.3 157.5h0M530.6 148.0h0M522.2 137.8h0M538.6 172.3h0M518.2 155.1h0M519.8 155.8h0M542.1 171.0h0M530.8 158.9h0M512.3 171.2h0M527.0 146.5h0M522.8 127.3h0M521.8 124.5h0M534.6 165.2h0M517.3 154.1h0M530.0 160.7h0M536.4 172.1h0M522.5 136.1h0M512.4 171.3h0M517.8 159.1h0M522.1 147.9h0M524.3 152.9h0M519.5 158.3h0M515.9 171.4h0M517.6 163.2h0M535.6 142.2h0M529.3 151.5h0M528.6 173.4h0M514.7 172.7h0M539.4 165.5h0M514.6 159.3h0M531.3 162.6h0M539.0 157.7h0M520.9 126.4h0M528.1 111.7h0M520.5 125.8h0M520.1 150.7h0M520.5 133.7h0M526.7 162.0h0M543.0 163.3h0M525.2 170.8h0M529.5 140.8h0M540.0 173.5h0M540.3 171.2h0M523.8 133.4h0M515.6 167.0h0M533.4 144.0h0M537.8 153.1h0M514.2 166.5h0M526.1 149.2h0M535.7 166.9h0M526.5 161.7h0M517.5 152.5h0M515.7 152.7h0M518.8 172.2h0M523.3 157.0h0M516.6 155.0h0M528.2 147.6h0M520.1 160.2h0M544.9 167.7h0M547.2 172.6h0M518.2 167.2h0M522.4 148.7h0M522.3 172.3h0M521.0 167.7h0M526.4 166.7h0M512.2 173.9h0M531.5 124.0h0M519.6 165.4h0M513.5 167.9h0M537.8 166.7h0M522.4 123.6h0M516.1 163.2h0M522.7 159.0h0M531.4 164.2h0M516.9 147.4h0M535.2 143.4h0M530.9 149.9h0M543.5 170.3h0M527.8 158.3h0M531.2 170.1h0M542.1 168.7h0M527.8 134.7h0M536.2 151.9h0M517.0 156.0h0M518.3 151.9h0M521.0 143.5h0M529.2 117.5h0M536.2 149.9h0M541.3 169.9h0M532.3 141.3h0M532.4 146.9h0M524.3 146.5h0M524.1 118.6h0M532.0 149.4h0M515.2 170.9h0M527.8 134.2h0M535.4 168.5h0M531.7 162.6h0M539.9 163.7h0M518.4 142.9h0M526.0 148.2h0M520.1 173.4h0M523.8 144.5h0M525.6 171.2h0M513.6 172.5h0M512.4 169.2h0M536.2 163.9h0M530.5 149.8h0M536.7 143.2h0M528.0 167.5h0M517.7 155.9h0M522.4 154.9h0M519.8 170.6h0M525.0 111.5h0M531.7 156.5h0M515.3 168.6h0M520.4 126.6h0M541.2 166.0h0M531.8 161.9h0M528.3 161.6h0M537.4 171.8h0M533.9 169.1h0M523.4 111.4h0M516.9 146.6h0M530.6 171.9h0M528.3 145.6h0M539.4 170.6h0M524.0 169.8h0M524.2 119.6h0M518.7 169.7h0M541.5 170.0h0M512.9 168.1h0M536.4 173.9h0M525.2 158.8h0M534.5 170.4h0M534.2 135.4h0M533.2 169.3h0M525.5 166.3h0M514.2 169.0h0M519.8 146.2h0M516.0 174.3h0M514.1 168.9h0M518.6 158.6h0M528.2 165.5h0M521.2 130.3h0M521.0 167.3h0M528.2 161.2h0M534.9 173.6h0M544.3 172.4h0M521.4 163.7h0M525.6 165.0h0M526.1 162.6h0M527.2 168.3h0M524.3 151.2h0M531.9 148.9h0M528.4 165.3h0M521.3 149.0h0M534.8 149.0h0M513.7 165.0h0M531.1 169.0h0M528.2 137.3h0M527.7 154.1h0M535.5 165.5h0M535.8 143.6h0M527.2 139.9h0M521.4 158.5h0M530.4 154.5h0M524.9 112.7h0M526.0 166.2h0M514.7 162.0h0M522.5 153.8h0M532.2 156.9h0M544.7 173.0h0M532.4 135.7h0M532.1 168.7h0M516.2 150.9h0M543.6 172.2h0M535.2 143.3h0M524.3 157.9h0M540.0 158.7h0M515.3 167.2h0M519.0 137.2h0M520.5 153.4h0M532.8 143.7h0M523.5 172.1h0M514.3 160.2h0M524.4 143.2h0M521.3 166.3h0M541.3 171.5h0M529.8 121.5h0M540.4 172.4h0M520.4 172.6h0M528.6 149.7h0M513.5 171.7h0M538.7 159.6h0M520.0 160.8h0M531.7 169.4h0M528.0 160.3h0M527.4 161.9h0M521.0 151.6h0M526.6 165.7h0M531.1 163.7h0M526.0 165.4h0M543.2 162.6h0M522.1 171.2h0M532.0 147.1h0M527.6 174.2h0M515.1 153.5h0M520.2 145.4h0M534.6 139.5h0M529.4 161.4h0M531.5 157.9h0M539.5 170.0h0M538.5 165.1h0M522.4 152.1h0M524.6 139.3h0M513.3 165.2h0M513.2 171.5h0M533.2 158.7h0M548.0 174.4h0M515.4 158.9h0M521.9 162.9h0M543.6 168.6h0M535.1 145.2h0M516.3 155.6h0M513.9 173.6h0M534.9 157.6h0M518.5 152.1h0M513.5 164.5h0M530.2 169.3h0M513.4 171.9h0M533.4 167.3h0M524.8 174.1h0M514.0 167.7h0M532.4 172.3h0M523.2 166.8h0M518.7 150.6h0M518.7 167.8h0M528.3 113.7h0M515.3 163.3h0M528.1 153.5h0M528.9 135.9h0M514.0 163.0h0M517.7 168.3h0M533.4 156.7h0M520.3 128.9h0M528.9 165.2h0M531.2 148.8h0M514.5 170.9h0M523.5 139.2h0M514.3 159.0h0M522.1 142.6h0M515.7 153.5h0M519.8 152.3h0M521.7 170.7h0M514.1 158.8h0M538.4 173.4h0M521.9 162.9h0M532.7 131.4h0M523.1 112.0h0M540.5 166.8h0M519.1 149.6h0M533.6 138.5h0M528.7 120.9h0M512.5 173.5h0M523.8 134.8h0M534.2 167.0h0M520.4 158.7h0M522.2 165.7h0M522.2 117.1h0M523.9 163.8h0M528.3 139.0h0M523.7 147.1h0M517.7 168.3h0M522.6 115.2h0M517.3 145.0h0M517.4 169.6h0M527.6 117.9h0M542.4 161.9h0M536.2 172.4h0M526.0 159.6h0M522.0 168.8h0M512.3 172.3h0M536.9 155.4h0M524.4 171.5h0M532.7 156.9h0M521.4 170.2h0M543.1 164.4h0M539.0 171.3h0M519.8 148.1h0M522.2 158.3h0M520.4 172.9h0M532.0 172.9h0M517.1 147.2h0M539.5 165.6h0M538.1 158.5h0M529.5 173.7h0M522.5 118.8h0M520.4 149.1h0M523.0 148.5h0M532.1 161.7h0M539.0 161.7h0M516.1 164.1h0M529.9 165.9h0M529.5 166.1h0M512.3 174.2h0M524.3 143.2h0M528.9 170.7h0M512.9 173.9h0M519.6 164.3h0M513.6 168.5h0M519.6 163.3h0M536.9 152.1h0M517.2 148.9h0M515.7 162.8h0M530.4 167.6h0M513.7 173.5h0M543.8 167.2h0M517.2 174.1h0M535.5 171.5h0M514.0 170.4h0M529.3 132.8h0M531.9 164.1h0M527.8 117.8h0M520.1 138.5h0M515.3 151.8h0M533.7 135.0h0M529.2 154.6h0M541.4 170.0h0M541.0 156.2h0M523.2 113.7h0M513.1 164.7h0M516.1 150.6h0M514.4 163.4h0M517.6 158.4h0M521.0 172.1h0M532.7 171.9h0M538.9 170.0h0M514.5 173.3h0M542.0 164.9h0M521.5 121.2h0M532.7 161.3h0M522.1 161.7h0M520.9 123.8h0M514.5 157.1h0M531.8 128.2h0M523.8 142.0h0M525.6 168.4h0M522.3 162.0h0M537.4 166.7h0M518.5 171.0h0M523.2 169.1h0M529.6 164.5h0M542.7 165.0h0M518.5 158.3h0M537.8 158.7h0M519.5 169.4h0M529.2 164.4h0M542.1 168.1h0M526.5 170.5h0M538.0 154.1h0M523.2 146.0h0M528.2 147.9h0M512.4 169.4h0M524.0 135.4h0M518.8 160.7h0M520.0 136.4h0M515.3 161.1h0M522.5 166.3h0M534.6 137.7h0M514.9 169.3h0M522.6 169.4h0M522.0 174.1h0M525.7 167.2h0M520.9 157.6h0M513.4 166.0h0M516.6 159.7h0M524.9 170.1h0M524.3 156.5h0M528.7 161.3h0M515.3 170.5h0M527.1 153.7h0M533.2 165.7h0M522.5 171.9h0M520.9 174.2h0M524.8 154.6h0M516.4 148.3h0M527.0 159.3h0M529.8 164.4h0M529.3 169.8h0M516.8 146.6h0M518.0 173.3h0M539.2 162.3h0M536.1 157.5h0M533.2 166.4h0M528.7 117.8h0M521.4 171.5h0M539.7 170.0h0M517.0 153.2h0M532.4 158.8h0M534.7 150.8h0M533.4 143.0h0M530.7 159.9h0M516.9 157.8h0M537.1 168.7h0M518.8 167.2h0M537.8 167.2h0M513.2 166.5h0M530.5 158.4h0M528.0 150.5h0M513.6 173.1h0M543.2 162.7h0M526.4 138.4h0M535.8 170.2h0M514.6 155.9h0M535.4 173.8h0M529.5 133.4h0M514.7 168.4h0M523.9 171.3h0M523.7 123.2h0M515.6 157.4h0M524.2 171.9h0M519.4 165.2h0M517.8 155.1h0M521.4 169.8h0M521.5 154.1h0M546.6 171.7h0M520.8 159.7h0M512.8 166.8h0M514.7 158.8h0M528.9 147.6h0M534.1 167.7h0M524.8 168.3h0M517.1 155.4h0M527.6 164.0h0M538.2 149.3h0M533.2 167.9h0M524.3 172.7h0M520.8 164.2h0M519.4 161.8h0M530.2 171.4h0M538.7 165.3h0M530.9 128.7h0M521.1 169.5h0M520.0 169.2h0M517.2 169.8h0M547.3 173.3h0M518.9 152.6h0M523.9 145.5h0M530.3 159.9h0M517.7 145.7h0M522.4 148.2h0M523.4 173.8h0M521.0 152.2h0M515.8 153.9h0M528.5 152.1h0M515.5 174.1h0M540.6 172.8h0M531.5 159.3h0M514.7 172.6h0M519.6 134.6h0M530.0 171.0h0M526.5 162.2h0M534.3 156.8h0M527.9 166.3h0M542.3 172.0h0M519.0 138.4h0M513.9 169.0h0M515.2 161.4h0M521.5 159.5h0M511.9 172.5h0M529.2 170.7h0M520.9 172.3h0M525.9 166.8h0M527.0 133.4h0M531.2 172.6h0M516.9 145.7h0M527.6 123.3h0M522.4 123.6h0M532.7 171.3h0M528.7 171.4h0M515.3 167.8h0M541.3 170.6h0M513.5 171.5h0M517.1 165.6h0M533.2 161.5h0M527.7 127.7h0M518.0 168.0h0M519.0 164.5h0M523.4 160.3h0M530.5 138.9h0M540.1 157.9h0M522.0 135.2h0M533.5 140.1h0M535.9 148.7h0M544.8 173.5h0M517.3 155.9h0M535.6 150.6h0M540.2 159.0h0M527.2 154.6h0M535.8 142.8h0M526.0 144.0h0M518.7 154.1h0M513.9 170.8h0M535.8 166.3h0M534.1 155.5h0M519.5 168.6h0M519.6 138.0h0M530.8 135.1h0M537.8 167.6h0M526.3 124.7h0M517.6 148.6h0M521.0 122.2h0M532.8 156.8h0M518.9 151.9h0M517.4 158.1h0M535.4 169.1h0M519.6 144.4h0M526.7 146.4h0M521.5 163.4h0M527.6 157.1h0M543.7 171.9h0M528.0 140.3h0M536.7 159.6h0M531.1 158.8h0M515.4 165.5h0M532.0 127.4h0M531.1 152.2h0M536.9 172.8h0M521.3 145.5h0M513.3 167.3h0M540.5 162.4h0M524.6 144.1h0M526.5 128.1h0M522.0 171.3h0M527.5 144.1h0M516.3 171.1h0M525.6 154.6h0M516.5 169.8h0M541.0 172.1h0M532.7 147.5h0M515.9 152.1h0M534.4 173.0h0M535.3 157.1h0M523.2 148.8h0M539.8 157.6h0M530.7 173.6h0M525.2 161.4h0M522.4 155.9h0M535.3 171.8h0M525.0 124.7h0M532.1 139.8h0M537.6 160.3h0M521.3 167.1h0M524.0 162.7h0M513.5 171.7h0M517.6 158.2h0M520.6 161.5h0M520.9 165.2h0M520.1 130.7h0M512.0 172.2h0M530.0 171.6h0M541.4 165.3h0M520.8 170.8h0M525.2 125.6h0M528.0 166.4h0M529.4 120.7h0M537.7 164.9h0M524.7 110.9h0M541.0 167.2h0M514.0 165.3h0M533.8 167.9h0M528.0 170.3h0M523.5 172.5h0M515.4 155.6h0M518.0 159.5h0M531.7 164.4h0M523.8 174.2h0M542.1 160.7h0M538.4 161.4h0M532.1 137.3h0M515.8 161.7h0M513.8 168.7h0M523.6 173.2h0M530.5 152.7h0M518.6 148.8h0M512.3 171.9h0M519.2 162.3h0M531.7 150.7h0M518.0 167.5h0M537.9 162.2h0M529.3 136.4h0M529.4 152.9h0M534.1 174.0h0M511.7 174.2h0M518.9 169.8h0M530.0 149.2h0M545.3 170.1h0M526.9 174.0h0M518.2 144.2h0M519.1 156.8h0M514.0 160.5h0M527.0 150.9h0M515.7 164.6h0M521.4 172.0h0M520.6 166.1h0M524.2 169.5h0M532.0 168.0h0M513.1 166.0h0M512.0 171.7h0M524.3 165.4h0M527.7 168.1h0M523.8 151.6h0M538.9 159.1h0M517.5 174.4h0M527.8 172.5h0M527.2 144.2h0M522.6 149.0h0M527.8 125.4h0M519.1 141.9h0M533.6 170.3h0M534.1 170.1h0M541.7 160.5h0M526.1 163.3h0M540.4 167.1h0M513.7 170.7h0M531.5 122.3h0M515.5 167.6h0M517.3 165.6h0M530.3 163.8h0M527.5 164.3h0M532.8 166.4h0M518.6 165.4h0M525.6 164.8h0M540.9 155.7h0M527.3 166.7h0M536.7 171.1h0M524.6 148.4h0M514.4 169.6h0M517.6 165.4h0M523.8 140.2h0M530.6 130.5h0M514.9 161.0h0M521.3 151.9h0M530.2 156.9h0M514.0 164.0h0M523.1 172.2h0M512.2 170.3h0M523.8 142.6h0M539.8 154.2h0M522.1 152.3h0M519.1 167.3h0M514.0 166.3h0M519.6 172.7h0M537.0 167.2h0M540.2 171.5h0M512.3 170.1h0M518.8 159.6h0M529.1 170.1h0M515.5 169.9h0M532.7 148.5h0M521.3 138.8h0M524.1 165.8h0M518.6 168.6h0M515.1 162.4h0M522.0 161.8h0M513.0 166.3h0M528.9 159.5h0M527.6 136.2h0M519.5 170.2h0M533.9 168.8h0M522.8 160.5h0M531.0 146.5h0M515.8 165.4h0M521.3 170.8h0M516.8 167.4h0M528.6 173.7h0M527.1 163.9h0M530.8 119.3h0M520.5 166.0h0M520.0 152.7h0M529.5 170.0h0M526.3 170.3h0M519.7 150.5h0M522.7 174.4h0M532.9 172.5h0M513.2 173.3h0M537.8 151.6h0M515.2 156.1h0M519.3 167.9h0M520.9 154.1h0M526.4 141.8h0M521.1 173.3h0M537.5 171.2h0M533.8 173.3h0M541.2 169.4h0M512.5 172.1h0M516.8 155.3h0M539.1 172.0h0M531.5 140.8h0M530.5 144.1h0M540.3 166.2h0M540.4 169.9h0M533.1 136.9h0M542.6 166.4h0M521.2 160.7h0M529.2 170.9h0M528.2 143.1h0M511.9 172.1h0M527.8 124.0h0M537.5 172.2h0M515.9 150.2h0M542.8 171.6h0M537.4 155.6h0M515.4 169.0h0M530.8 152.5h0M522.2 166.1h0M531.5 166.3h0M520.6 126.3h0M540.9 157.5h0M513.7 169.5h0M536.6 171.0h0M516.8 145.6h0M532.7 170.5h0M531.8 168.7h0M537.6 146.1h0M539.4 170.5h0M528.2 169.7h0M514.0 169.8h0M513.3 165.5h0M534.7 158.1h0M531.8 166.7h0M524.6 173.5h0M526.6 141.3h0M518.5 166.8h0M536.0 155.4h0M543.1 165.6h0M512.8 166.6h0M533.0 170.2h0M532.4 158.6h0M541.9 168.7h0M536.3 157.5h0M517.5 150.8h0M526.2 173.9h0M532.8 169.3h0M539.5 158.3h0M531.7 141.0h0M517.1 158.0h0M540.2 174.0h0M524.0 170.7h0M530.4 166.7h0M536.7 148.4h0M531.4 157.0h0M518.3 172.7h0M534.4 173.0h0M539.6 157.1h0M521.8 162.5h0M539.3 158.6h0M525.3 149.1h0M512.3 170.1h0M536.9 164.3h0M524.5 115.9h0M512.3 172.7h0M532.5 147.3h0M521.0 151.1h0M530.8 154.0h0M527.3 153.2h0M529.3 128.6h0M527.1 165.4h0M525.9 121.4h0M522.7 172.5h0M512.3 173.7h0M535.4 169.6h0M514.0 172.8h0M524.4 145.7h0M543.9 166.7h0M517.6 167.3h0M531.9 145.6h0M530.7 162.1h0M521.9 166.3h0M541.3 173.6h0M529.2 173.0h0M539.4 152.1h0M533.0 170.3h0M547.3 174.0h0M535.2 149.9h0M540.0 170.8h0M516.0 160.5h0M530.1 169.6h0M516.1 172.9h0M533.0 128.7h0M537.4 155.6h0M520.2 142.1h0M520.1 160.0h0M544.8 171.1h0M536.6 164.5h0M523.2 118.8h0M531.9 173.4h0M522.7 161.7h0M516.5 173.9h0M526.7 174.4h0M516.2 172.5h0M528.7 171.8h0M519.1 136.8h0M525.3 150.3h0M526.6 169.3h0M540.1 173.6h0M540.9 169.9h0M552.7 164.6h0M546.5 147.0h0M546.6 150.0h0M540.8 159.7h0M556.6 172.8h0M531.8 160.2h0M553.8 164.6h0M542.3 148.2h0M546.0 169.7h0M532.0 170.5h0M543.2 168.9h0M553.9 168.1h0M534.1 171.5h0M540.4 168.1h0M568.6 174.0h0M560.3 165.6h0M539.1 145.9h0M531.9 171.1h0M535.2 171.6h0M544.2 169.4h0M549.4 152.5h0M542.1 165.4h0M554.5 153.5h0M545.8 162.7h0M535.2 172.4h0M545.4 153.7h0M553.3 170.5h0M531.8 173.1h0M559.2 167.3h0M563.9 167.8h0M533.8 172.7h0M539.9 171.5h0M533.6 167.5h0M556.4 160.5h0M532.6 143.1h0M555.5 161.8h0M531.5 165.2h0M567.0 174.0h0M544.7 174.3h0M533.9 167.1h0M531.6 170.8h0M556.6 167.8h0M536.2 171.9h0M539.9 174.4h0M536.2 160.5h0M531.5 155.4h0M531.7 164.1h0M555.6 173.2h0M547.7 155.6h0M564.6 167.8h0M540.5 172.4h0M565.2 168.6h0M540.2 167.3h0M531.9 161.6h0M561.5 165.9h0M537.1 146.6h0M541.1 168.2h0M535.3 168.7h0M531.5 171.3h0M548.6 172.7h0M531.9 169.5h0M549.7 171.9h0M538.0 174.4h0M537.3 168.3h0M531.5 169.3h0M536.4 161.9h0M549.8 173.6h0M531.6 158.5h0M535.1 164.7h0M554.3 166.2h0M550.5 164.6h0M563.0 173.4h0M535.5 167.3h0M545.4 170.8h0M531.9 172.2h0M562.4 168.4h0M542.9 172.8h0M558.5 167.6h0M534.9 158.3h0M531.8 172.8h0M533.9 174.0h0M544.8 161.7h0M560.6 171.1h0M536.2 167.1h0M549.4 147.5h0M534.2 161.3h0M532.3 171.2h0M544.9 162.7h0M531.5 169.5h0M539.5 169.6h0M556.6 170.2h0M540.7 169.7h0M531.7 172.5h0M551.4 171.1h0M544.6 153.3h0M550.5 163.4h0M555.1 169.1h0M534.3 164.3h0M550.6 165.3h0M534.8 169.5h0M546.6 156.0h0M564.2 166.4h0M545.0 166.8h0M555.6 162.6h0M536.6 159.5h0M549.0 164.0h0M535.3 164.9h0M539.6 168.6h0M533.0 154.7h0M566.8 173.2h0M543.6 172.3h0M533.6 156.9h0M544.1 150.2h0M557.2 167.1h0M548.3 164.3h0M546.4 171.4h0M553.5 171.5h0M538.6 162.1h0M553.1 169.7h0M537.9 169.4h0M554.8 170.0h0M532.2 148.5h0M537.8 166.0h0M534.7 172.4h0M544.2 145.7h0M531.6 173.5h0M563.8 167.6h0M534.8 173.9h0M533.4 163.4h0M535.5 170.5h0M540.7 174.4h0M535.2 167.2h0M541.9 167.6h0M535.7 142.6h0M553.6 158.4h0M565.4 174.2h0M535.5 167.2h0M543.5 167.9h0M553.3 170.5h0M538.5 173.6h0M538.5 163.9h0M552.2 170.5h0M545.8 168.3h0M532.1 168.0h0M539.5 172.8h0M536.7 174.1h0M542.5 164.7h0M530.0 56.1h0M528.0 84.8h0M528.0 90.0h0M531.5 94.9h0M530.0 104.4h0M525.0 96.8h0M524.0 104.1h0M529.0 108.3h0M531.5 112.6h0M532.5 116.8h0M561.5 104.1h0M578.0 100.5h0M560.0 113.6h0M603.0 133.6h0M606.5 133.6h0M554.0 129.4h0M585.5 137.8h0M586.5 143.6h0M569.0 141.0h0M573.0 143.1h0M583.0 153.1h0M584.0 158.1h0M582.5 163.1h0M576.5 157.8h0M570.5 165.2h0M567.0 150.4h0M561.5 146.2h0M564.0 148.3h0M542.5 131.5h0M545.5 136.8h0M549.5 139.9h0M539.0 135.7h0M551.5 156.7h0M556.5 162.0h0M554.0 167.3h0M559.0 170.4h0M536.5 123.1h0M541.5 125.2h0" stroke="#f2435c" stroke-width="3.85" stroke-linecap="round" fill="none"/>
<line x1="395.0" y1="174.6" x2="616.5" y2="174.6" stroke="#1a1a1a" stroke-width="1.5" stroke-dasharray="4.4 4.1 1.2 4.1"/>
<rect x="394.5" y="29.7" width="222.5" height="165.5" fill="none" stroke="#b3b3b3" stroke-width="0.9"/>
<text x="406.5" y="204.7" font-size="7.5" fill="#4d4d4d" text-anchor="middle">-2</text>
<text x="456.5" y="204.7" font-size="7.5" fill="#4d4d4d" text-anchor="middle">-1</text>
<text x="506.5" y="204.7" font-size="7.5" fill="#4d4d4d" text-anchor="middle">0</text>
<text x="556.5" y="204.7" font-size="7.5" fill="#4d4d4d" text-anchor="middle">1</text>
<text x="606.5" y="204.7" font-size="7.5" fill="#4d4d4d" text-anchor="middle">2</text>
<text x="391.3" y="191.0" font-size="7.5" fill="#4d4d4d" text-anchor="end">0</text>
<text x="391.3" y="138.4" font-size="7.5" fill="#4d4d4d" text-anchor="end">5</text>
<text x="391.3" y="85.8" font-size="7.5" fill="#4d4d4d" text-anchor="end">10</text>
<text x="391.3" y="33.2" font-size="7.5" fill="#4d4d4d" text-anchor="end">15</text>
<path d="M406.5 195.2v2.2M456.5 195.2v2.2M506.5 195.2v2.2M556.5 195.2v2.2M606.5 195.2v2.2M394.5 188.3h-2.2M394.5 135.7h-2.2M394.5 83.1h-2.2M394.5 30.5h-2.2" stroke="#333" stroke-width="0.8" fill="none"/>
<text x="506.2" y="215.7" font-size="11.3" fill="#111" text-anchor="middle">log2(Fold Change)</text>
<text transform="translate(381.2 112.7) rotate(-90)" font-size="11.3" fill="#111" text-anchor="middle">-log10 (P-value)</text>
<text x="429.8" y="24" font-size="10.97" fill="#111">Anti-NMDAR1-IgG vs CTRL-IgG</text>
<text x="525.5" y="42.3" font-size="11.1" fill="#f22a34">Up 1646 genes</text>
<text x="525.5" y="56" font-size="11.1" fill="#3f78d6">Down 1312 genes</text>
<circle cx="635.6" cy="108.2" r="2.1" fill="#f2435c"/>
<text x="647.5" y="112.1" font-size="10.9" fill="#111">Up</text>
<circle cx="635.6" cy="120.8" r="2.1" fill="#5f73eb"/>
<text x="647.5" y="124.7" font-size="10.9" fill="#111">Down</text>
<circle cx="635.6" cy="133.4" r="2.1" fill="#d3dbe2"/>
<text x="647.5" y="137.3" font-size="10.9" fill="#111">None</text>
<rect x="177.9" y="275.0" width="107.8" height="6.8" fill="#f2757f"/>
<text x="174.8" y="280.4" font-size="6.77" font-weight="bold" fill="#111" stroke="#111" stroke-width="0.18" text-anchor="end">Generation of precursor metabolites and energy</text>
<rect x="177.9" y="285.5" width="107.8" height="6.8" fill="#f2757f"/>
<text x="174.8" y="290.9" font-size="6.77" font-weight="bold" fill="#111" stroke="#111" stroke-width="0.18" text-anchor="end">Ribonucleoprotein complex biogenesis</text>
<rect x="177.9" y="296.0" width="107.8" height="6.8" fill="#f2757f"/>
<text x="174.8" y="301.4" font-size="6.77" font-weight="bold" fill="#111" stroke="#111" stroke-width="0.18" text-anchor="end">RNA splicing</text>
<rect x="177.9" y="306.4" width="107.8" height="6.8" fill="#f2757f"/>
<text x="174.8" y="311.8" font-size="6.77" font-weight="bold" fill="#111" stroke="#111" stroke-width="0.18" text-anchor="end">Protein targeting</text>
<rect x="177.9" y="316.9" width="107.8" height="6.8" fill="#f2757f"/>
<text x="174.8" y="322.3" font-size="6.77" font-weight="bold" fill="#111" stroke="#111" stroke-width="0.18" text-anchor="end">RNA catabolic process</text>
<rect x="177.9" y="327.4" width="107.8" height="6.8" fill="#f2757f"/>
<text x="174.8" y="332.8" font-size="6.77" font-weight="bold" fill="#111" stroke="#111" stroke-width="0.18" text-anchor="end">Nucleoside monophosphate metabolic process</text>
<rect x="177.9" y="337.9" width="107.8" height="6.8" fill="#f2757f"/>
<text x="174.8" y="343.3" font-size="6.77" font-weight="bold" fill="#111" stroke="#111" stroke-width="0.18" text-anchor="end">Establishment of protein localization to membrane</text>
<rect x="177.9" y="348.4" width="107.8" height="6.8" fill="#f2757f"/>
<text x="174.8" y="353.8" font-size="6.77" font-weight="bold" fill="#111" stroke="#111" stroke-width="0.18" text-anchor="end">Nucleoside triphosphate metabolic process</text>
<rect x="177.9" y="358.8" width="107.8" height="6.8" fill="#f2757f"/>
<text x="174.8" y="364.2" font-size="6.77" font-weight="bold" fill="#111" stroke="#111" stroke-width="0.18" text-anchor="end">Ribonucleoprotein complex subunit organization</text>
<rect x="177.9" y="369.3" width="107.8" height="6.8" fill="#f2757f"/>
<text x="174.8" y="374.7" font-size="6.77" font-weight="bold" fill="#111" stroke="#111" stroke-width="0.18" text-anchor="end">Translational initiation</text>
<rect x="177.9" y="379.8" width="103.0" height="6.8" fill="#68a6f5"/>
<text x="174.8" y="385.2" font-size="6.77" font-weight="bold" fill="#111" stroke="#111" stroke-width="0.18" text-anchor="end">Thermogenesis</text>
<rect x="177.9" y="390.3" width="103.0" height="6.8" fill="#68a6f5"/>
<text x="174.8" y="395.7" font-size="6.77" font-weight="bold" fill="#111" stroke="#111" stroke-width="0.18" text-anchor="end">Huntington disease</text>
<rect x="177.9" y="400.8" width="103.0" height="6.8" fill="#68a6f5"/>
<text x="174.8" y="406.2" font-size="6.77" font-weight="bold" fill="#111" stroke="#111" stroke-width="0.18" text-anchor="end">Alzheimer disease</text>
<rect x="177.9" y="411.2" width="103.0" height="6.8" fill="#68a6f5"/>
<text x="174.8" y="416.6" font-size="6.77" font-weight="bold" fill="#111" stroke="#111" stroke-width="0.18" text-anchor="end">Ribosome</text>
<rect x="177.9" y="421.7" width="103.0" height="6.8" fill="#68a6f5"/>
<text x="174.8" y="427.1" font-size="6.77" font-weight="bold" fill="#111" stroke="#111" stroke-width="0.18" text-anchor="end">Parkinson disease</text>
<rect x="177.9" y="432.2" width="103.0" height="6.8" fill="#68a6f5"/>
<text x="174.8" y="437.6" font-size="6.77" font-weight="bold" fill="#111" stroke="#111" stroke-width="0.18" text-anchor="end">Oxidative phosphorylation</text>
<rect x="177.9" y="442.7" width="89.4" height="6.8" fill="#68a6f5"/>
<text x="174.8" y="448.1" font-size="6.77" font-weight="bold" fill="#111" stroke="#111" stroke-width="0.18" text-anchor="end">Non-alcoholic fatty liver disease (NAFLD)</text>
<rect x="177.9" y="453.2" width="89.4" height="6.8" fill="#68a6f5"/>
<text x="174.8" y="458.6" font-size="6.77" font-weight="bold" fill="#111" stroke="#111" stroke-width="0.18" text-anchor="end">Spliceosome</text>
<rect x="177.9" y="463.6" width="68.8" height="6.8" fill="#68a6f5"/>
<text x="174.8" y="469.0" font-size="6.77" font-weight="bold" fill="#111" stroke="#111" stroke-width="0.18" text-anchor="end">Proteasome</text>
<rect x="177.9" y="474.1" width="41.2" height="6.8" fill="#68a6f5"/>
<text x="174.8" y="479.5" font-size="6.77" font-weight="bold" fill="#111" stroke="#111" stroke-width="0.18" text-anchor="end">Carbon metabolism</text>
<path d="M177.3 273.5V480.9M177.3 480.9H315.9M177.3 278.4h-2.4M177.3 288.9h-2.4M177.3 299.4h-2.4M177.3 309.8h-2.4M177.3 320.3h-2.4M177.3 330.8h-2.4M177.3 341.3h-2.4M177.3 351.8h-2.4M177.3 362.2h-2.4M177.3 372.7h-2.4M177.3 383.2h-2.4M177.3 393.7h-2.4M177.3 404.2h-2.4M177.3 414.6h-2.4M177.3 425.1h-2.4M177.3 435.6h-2.4M177.3 446.1h-2.4M177.3 456.6h-2.4M177.3 467.0h-2.4M177.3 477.5h-2.4M177.3 480.9v2.6M212.0 480.9v2.6M246.6 480.9v2.6M281.2 480.9v2.6M315.9 480.9v2.6" stroke="#111" stroke-width="1.05" fill="none"/>
<text x="177.3" y="492.2" font-size="7" font-weight="bold" fill="#111" text-anchor="middle">0</text>
<text x="212.0" y="492.2" font-size="7" font-weight="bold" fill="#111" text-anchor="middle">5</text>
<text x="246.6" y="492.2" font-size="7" font-weight="bold" fill="#111" text-anchor="middle">10</text>
<text x="281.2" y="492.2" font-size="7" font-weight="bold" fill="#111" text-anchor="middle">15</text>
<text x="315.9" y="492.2" font-size="7" font-weight="bold" fill="#111" text-anchor="middle">20</text>
<text x="71.2" y="270.2" font-size="8.86" font-weight="bold" fill="#111" stroke="#111" stroke-width="0.15">GO and KEGG pathway analysis for up DEGs</text>
<text x="303.2" y="297.0" font-size="9.6" font-weight="bold" fill="#111">GO</text>
<text transform="translate(303.2 395.3) scale(1 1.1)" font-size="9.0" font-weight="bold" fill="#111">KEGG</text>
<text x="247.0" y="501.8" font-size="7.9" font-weight="bold" fill="#111" text-anchor="middle">-log<tspan font-size="5.2" dy="1.8">10</tspan><tspan dy="-1.8"> (FDR value)</tspan></text>
<rect x="515.1" y="275.0" width="110.3" height="6.6" fill="#f2757f"/>
<text x="512.0" y="280.3" font-size="6.96" font-weight="bold" fill="#111" stroke="#111" stroke-width="0.18" text-anchor="end">Axon development</text>
<rect x="515.1" y="285.4" width="110.3" height="6.6" fill="#f2757f"/>
<text x="512.0" y="290.7" font-size="6.96" font-weight="bold" fill="#111" stroke="#111" stroke-width="0.18" text-anchor="end">Regulation of trans-synaptic signaling</text>
<rect x="515.1" y="295.7" width="110.3" height="6.6" fill="#f2757f"/>
<text x="512.0" y="301.0" font-size="6.96" font-weight="bold" fill="#111" stroke="#111" stroke-width="0.18" text-anchor="end">Synapse organization</text>
<rect x="515.1" y="306.1" width="93.8" height="6.6" fill="#f2757f"/>
<text x="512.0" y="311.4" font-size="6.96" font-weight="bold" fill="#111" stroke="#111" stroke-width="0.18" text-anchor="end">Synaptic vesicle cycle</text>
<rect x="515.1" y="316.5" width="88.1" height="6.6" fill="#f2757f"/>
<text x="512.0" y="321.8" font-size="6.96" font-weight="bold" fill="#111" stroke="#111" stroke-width="0.18" text-anchor="end">Regulation of neuron projection development</text>
<rect x="515.1" y="326.9" width="86.7" height="6.6" fill="#f2757f"/>
<text x="512.0" y="332.2" font-size="6.96" font-weight="bold" fill="#111" stroke="#111" stroke-width="0.18" text-anchor="end">Calcium ion regulated exocytosis</text>
<rect x="515.1" y="337.2" width="75.4" height="6.6" fill="#f2757f"/>
<text x="512.0" y="342.5" font-size="6.96" font-weight="bold" fill="#111" stroke="#111" stroke-width="0.18" text-anchor="end">Regulation of membrane potential</text>
<rect x="515.1" y="347.6" width="69.1" height="6.6" fill="#f2757f"/>
<text x="512.0" y="352.9" font-size="6.96" font-weight="bold" fill="#111" stroke="#111" stroke-width="0.18" text-anchor="end">Neurotransmitter transport</text>
<rect x="515.1" y="358.0" width="69.1" height="6.6" fill="#f2757f"/>
<text x="512.0" y="363.3" font-size="6.96" font-weight="bold" fill="#111" stroke="#111" stroke-width="0.18" text-anchor="end">Neuron projection guidance</text>
<rect x="515.1" y="368.3" width="67.0" height="6.6" fill="#f2757f"/>
<text x="512.0" y="373.6" font-size="6.96" font-weight="bold" fill="#111" stroke="#111" stroke-width="0.18" text-anchor="end">Cognition</text>
<rect x="515.1" y="378.7" width="63.4" height="6.6" fill="#68a6f5"/>
<text x="512.0" y="384.0" font-size="6.96" font-weight="bold" fill="#111" stroke="#111" stroke-width="0.18" text-anchor="end">Nicotine addiction</text>
<rect x="515.1" y="389.1" width="49.4" height="6.6" fill="#68a6f5"/>
<text x="512.0" y="394.4" font-size="6.96" font-weight="bold" fill="#111" stroke="#111" stroke-width="0.18" text-anchor="end">Morphine addiction</text>
<rect x="515.1" y="399.4" width="35.2" height="6.6" fill="#68a6f5"/>
<text x="512.0" y="404.7" font-size="6.96" font-weight="bold" fill="#111" stroke="#111" stroke-width="0.18" text-anchor="end">Axon guidance</text>
<rect x="515.1" y="409.8" width="35.2" height="6.6" fill="#68a6f5"/>
<text x="512.0" y="415.1" font-size="6.96" font-weight="bold" fill="#111" stroke="#111" stroke-width="0.18" text-anchor="end">GABAergic synapse</text>
<rect x="515.1" y="420.2" width="28.2" height="6.6" fill="#68a6f5"/>
<text x="512.0" y="425.5" font-size="6.96" font-weight="bold" fill="#111" stroke="#111" stroke-width="0.18" text-anchor="end">Cholinergic synapse</text>
<rect x="515.1" y="430.5" width="28.2" height="6.6" fill="#68a6f5"/>
<text x="512.0" y="435.8" font-size="6.96" font-weight="bold" fill="#111" stroke="#111" stroke-width="0.18" text-anchor="end">Circadian entrainment</text>
<rect x="515.1" y="440.9" width="21.1" height="6.6" fill="#68a6f5"/>
<text x="512.0" y="446.2" font-size="6.96" font-weight="bold" fill="#111" stroke="#111" stroke-width="0.18" text-anchor="end">Phospholipase D signaling pathway</text>
<rect x="515.1" y="451.3" width="21.1" height="6.6" fill="#68a6f5"/>
<text x="512.0" y="456.6" font-size="6.96" font-weight="bold" fill="#111" stroke="#111" stroke-width="0.18" text-anchor="end">Glutamatergic synapse</text>
<rect x="515.1" y="461.7" width="21.1" height="6.6" fill="#68a6f5"/>
<text x="512.0" y="467.0" font-size="6.96" font-weight="bold" fill="#111" stroke="#111" stroke-width="0.18" text-anchor="end">Retrograde endocannabinoid signaling</text>
<rect x="515.1" y="472.0" width="21.1" height="6.6" fill="#68a6f5"/>
<text x="512.0" y="477.3" font-size="6.96" font-weight="bold" fill="#111" stroke="#111" stroke-width="0.18" text-anchor="end">Notch signaling pathway</text>
<path d="M514.5 273.5V478.6M514.5 478.6H655.5M514.5 278.3h-2.4M514.5 288.7h-2.4M514.5 299.0h-2.4M514.5 309.4h-2.4M514.5 319.8h-2.4M514.5 330.2h-2.4M514.5 340.5h-2.4M514.5 350.9h-2.4M514.5 361.3h-2.4M514.5 371.6h-2.4M514.5 382.0h-2.4M514.5 392.4h-2.4M514.5 402.7h-2.4M514.5 413.1h-2.4M514.5 423.5h-2.4M514.5 433.8h-2.4M514.5 444.2h-2.4M514.5 454.6h-2.4M514.5 465.0h-2.4M514.5 475.3h-2.4M514.5 478.6v2.6M549.8 478.6v2.6M585.0 478.6v2.6M620.2 478.6v2.6M655.5 478.6v2.6" stroke="#111" stroke-width="1.05" fill="none"/>
<text x="514.5" y="489.6" font-size="7" font-weight="bold" fill="#111" text-anchor="middle">0</text>
<text x="549.8" y="489.6" font-size="7" font-weight="bold" fill="#111" text-anchor="middle">5</text>
<text x="585.0" y="489.6" font-size="7" font-weight="bold" fill="#111" text-anchor="middle">10</text>
<text x="620.2" y="489.6" font-size="7" font-weight="bold" fill="#111" text-anchor="middle">15</text>
<text x="655.5" y="489.6" font-size="7" font-weight="bold" fill="#111" text-anchor="middle">20</text>
<text x="405.5" y="269.0" font-size="9.03" font-weight="bold" fill="#111" stroke="#111" stroke-width="0.15">GO and KEGG pathway analysis for down DEGs</text>
<text x="639.3" y="290.1" font-size="9.6" font-weight="bold" fill="#111">GO</text>
<text transform="translate(632.7 395.1) scale(1 1.1)" font-size="9.0" font-weight="bold" fill="#111">KEGG</text>
<text x="585.0" y="499.8" font-size="7.9" font-weight="bold" fill="#111" text-anchor="middle">-log<tspan font-size="5.2" dy="1.8">10</tspan><tspan dy="-1.8"> (FDR value)</tspan></text>
<text x="380.6" y="543.2" font-size="23.5">e</text>
<text x="380.2" y="664.6" font-size="22">f</text>
<path d="M435.0 535.9V634.5M435.0 634.5H573.7M435.0 634.5h-2.8M435.0 601.6h-2.8M435.0 568.8h-2.8M435.0 535.9h-2.8M469.4 634.5v2.6M539.0 634.5v2.6" stroke="#111" stroke-width="1.2" fill="none"/>
<text transform="translate(431.0 637.7) scale(1 1.14)" font-size="7.05" font-weight="bold" fill="#111" text-anchor="end">0.0</text>
<text transform="translate(431.0 604.8) scale(1 1.14)" font-size="7.05" font-weight="bold" fill="#111" text-anchor="end">0.5</text>
<text transform="translate(431.0 572.0) scale(1 1.14)" font-size="7.05" font-weight="bold" fill="#111" text-anchor="end">1.0</text>
<text transform="translate(431.0 539.1) scale(1 1.14)" font-size="7.05" font-weight="bold" fill="#111" text-anchor="end">1.5</text>
<text transform="translate(415.6 585.2) rotate(-90)" font-size="8.15" font-weight="bold" fill="#111" text-anchor="middle">Relative gene expression</text>
<text x="469.4" y="646.4" font-size="6.8" font-weight="bold" font-style="italic" fill="#111" text-anchor="middle">GRIN1</text>
<text x="539.0" y="646.4" font-size="6.8" font-weight="bold" font-style="italic" fill="#111" text-anchor="middle">GRIA2</text>
<path d="M449.6 634.5V566.1H463.9V634.5" stroke="#111" stroke-width="1.9" fill="none"/>
<path d="M456.8 566.1V559.6M452.8 559.6H460.8" stroke="#111" stroke-width="1.5" fill="none"/>
<path d="M475.2 634.5V594.7H489.7V634.5" stroke="#f07478" stroke-width="1.9" fill="none"/>
<path d="M482.5 594.7V585.5M478.5 585.5H486.5" stroke="#f07478" stroke-width="1.5" fill="none"/>
<path d="M518.5 634.5V568.8H532.8V634.5" stroke="#111" stroke-width="1.9" fill="none"/>
<path d="M525.6 568.8V560.2M521.6 560.2H529.6" stroke="#111" stroke-width="1.5" fill="none"/>
<path d="M544.2 634.5V601.3H558.8V634.5" stroke="#f07478" stroke-width="1.9" fill="none"/>
<path d="M551.5 601.3V598.3M547.5 598.3H555.5" stroke="#f07478" stroke-width="1.5" fill="none"/>
<circle cx="455.8" cy="560.2" r="1.1" fill="#111"/>
<circle cx="457.5" cy="568.1" r="1.1" fill="#111"/>
<circle cx="456.5" cy="571.4" r="1.1" fill="#111"/>
<circle cx="482.6" cy="580.6" r="1.1" fill="#f07478"/>
<circle cx="480.8" cy="597.7" r="1.1" fill="#f07478"/>
<circle cx="484.2" cy="597.7" r="1.1" fill="#f07478"/>
<circle cx="524.5" cy="562.2" r="1.1" fill="#111"/>
<circle cx="525.0" cy="573.4" r="1.1" fill="#111"/>
<circle cx="525.2" cy="576.0" r="1.1" fill="#111"/>
<circle cx="550.5" cy="599.0" r="1.1" fill="#f07478"/>
<circle cx="549.5" cy="601.6" r="1.1" fill="#f07478"/>
<circle cx="552.5" cy="600.3" r="1.1" fill="#f07478"/>
<path d="M456.0 553.4H484.6" stroke="#111" stroke-width="1.1"/>
<text x="470.5" y="552.2" font-size="12.6" fill="#111" stroke="#111" stroke-width="0.25" text-anchor="middle">***</text>
<path d="M525.7 556.2H551.8" stroke="#111" stroke-width="1.1"/>
<text x="539.5" y="554.6" font-size="12.6" fill="#111" stroke="#111" stroke-width="0.25" text-anchor="middle">***</text>
<rect x="570.4" y="536.4" width="8.4" height="3.7" fill="none" stroke="#111" stroke-width="1.7"/>
<text x="586.1" y="541.2" font-size="8.05" font-weight="bold" fill="#111">CTRL-IgG</text>
<rect x="570.4" y="548.1" width="8.4" height="3.7" fill="none" stroke="#f07478" stroke-width="1.7"/>
<text x="586.1" y="552.4" font-size="8.05" font-weight="bold" fill="#111">Anti-NMDAR1-IgG</text>
<path d="M434.7 664.0V769.2M434.7 769.2H583.9M434.7 769.2h-2.8M434.7 734.1h-2.8M434.7 699.1h-2.8M434.7 664.0h-2.8M472.6 769.2v2.6M546.3 769.2v2.6" stroke="#111" stroke-width="1.2" fill="none"/>
<text transform="translate(430.7 772.7) scale(1 1.14)" font-size="7.8" font-weight="bold" fill="#111" text-anchor="end">0.0</text>
<text transform="translate(430.7 737.6) scale(1 1.14)" font-size="7.8" font-weight="bold" fill="#111" text-anchor="end">0.5</text>
<text transform="translate(430.7 702.6) scale(1 1.14)" font-size="7.8" font-weight="bold" fill="#111" text-anchor="end">1.0</text>
<text transform="translate(430.7 667.5) scale(1 1.14)" font-size="7.8" font-weight="bold" fill="#111" text-anchor="end">1.5</text>
<text transform="translate(415.4 716.6) rotate(-90)" font-size="8.93" font-weight="bold" fill="#111" text-anchor="middle">Relative gene expression</text>
<text x="472.6" y="782.0" font-size="6.8" font-weight="bold" font-style="italic" fill="#111" text-anchor="middle">GRIN1</text>
<text x="546.3" y="782.0" font-size="6.8" font-weight="bold" font-style="italic" fill="#111" text-anchor="middle">GRIA2</text>
<path d="M450.8 769.2V707.3H466.4V769.2" stroke="#111" stroke-width="1.9" fill="none"/>
<path d="M458.6 707.3V697.9M454.6 697.9H462.6" stroke="#111" stroke-width="1.5" fill="none"/>
<path d="M478.6 769.2V728.2H494.1V769.2" stroke="#ebb46e" stroke-width="1.9" fill="none"/>
<path d="M486.3 728.2V718.7M482.3 718.7H490.3" stroke="#ebb46e" stroke-width="1.5" fill="none"/>
<path d="M525.2 769.2V699.1H540.5V769.2" stroke="#111" stroke-width="1.9" fill="none"/>
<path d="M532.9 699.1V698.7M528.9 698.7H536.9" stroke="#111" stroke-width="1.5" fill="none"/>
<path d="M552.2 769.2V743.3H568.6V769.2" stroke="#ebb46e" stroke-width="1.9" fill="none"/>
<path d="M560.4 743.3V739.7M556.4 739.7H564.4" stroke="#ebb46e" stroke-width="1.5" fill="none"/>
<circle cx="458.8" cy="695.6" r="1.1" fill="#111"/>
<circle cx="458.5" cy="709.6" r="1.1" fill="#111"/>
<circle cx="458.2" cy="714.5" r="1.1" fill="#111"/>
<circle cx="486.0" cy="723.6" r="1.1" fill="#ebb46e"/>
<circle cx="486.2" cy="737.6" r="1.1" fill="#ebb46e"/>
<circle cx="528.5" cy="698.7" r="1.1" fill="#111"/>
<circle cx="531.0" cy="698.4" r="1.1" fill="#111"/>
<circle cx="533.5" cy="698.7" r="1.1" fill="#111"/>
<circle cx="536.0" cy="698.4" r="1.1" fill="#111"/>
<circle cx="538.5" cy="698.7" r="1.1" fill="#111"/>
<circle cx="560.0" cy="744.0" r="1.1" fill="#ebb46e"/>
<circle cx="561.0" cy="741.1" r="1.1" fill="#ebb46e"/>
<path d="M461.2 693.8H489.4" stroke="#111" stroke-width="1.1"/>
<text x="476.4" y="693.3" font-size="12.6" fill="#111" stroke="#111" stroke-width="0.25" text-anchor="middle">*</text>
<path d="M531.8 693.6H560.8" stroke="#111" stroke-width="1.1"/>
<text x="544.8" y="693.3" font-size="12.6" fill="#111" stroke="#111" stroke-width="0.25" text-anchor="middle">***</text>
<rect x="571.1" y="666.1" width="10.0" height="3.6" fill="none" stroke="#111" stroke-width="1.7"/>
<text x="588.4" y="671.2" font-size="8.8" font-weight="bold" fill="#111">C-CSF-IgG</text>
<rect x="571.1" y="678.1" width="10.0" height="3.6" fill="none" stroke="#ebb46e" stroke-width="1.7"/>
<text x="588.4" y="683.1" font-size="8.8" font-weight="bold" fill="#111">P-CSF-IgG</text>
<path d="M160.0 561.8L153.3 535.2M160.0 561.8L174.7 535.5M160.0 561.8L134.6 541.5M160.0 561.8L186.4 543.2M160.0 561.8L163.5 548.1M160.0 561.8L193.4 551.3M160.0 561.8L137.2 552.3M160.0 561.8L187.3 561.1M160.0 561.8L134.0 563.2M160.0 561.8L175.2 569.2M160.0 561.8L134.0 574.6M160.0 561.8L154.8 577.8M160.0 561.8L177.0 587.4M160.0 561.8L162.7 595.5M160.0 561.8L190.1 598.4M160.0 561.8L158.0 607.7M160.0 561.8L193.1 579.9M160.0 561.8L179.2 610.3M160.0 561.8L120.4 601.4M160.0 561.8L174.2 655.2M160.0 561.8L227.4 640.4M160.0 561.8L200.7 589.6M160.0 561.8L204.7 606.4M160.0 561.8L140.0 599.7M160.0 561.8L164.7 619.6M160.0 561.8L172.9 630.7M160.0 561.8L189.7 622.0M160.0 561.8L163.0 643.4M120.4 601.4L118.1 587.1M120.4 601.4L101.9 595.9M120.4 601.4L97.9 607.9M120.4 601.4L99.6 619.0M120.4 601.4L117.7 616.5M120.4 601.4L140.0 599.7M120.4 601.4L136.7 613.6M120.4 601.4L127.8 625.7M120.4 601.4L134.0 574.6M120.4 601.4L154.8 577.8M120.4 601.4L179.2 610.3M120.4 601.4L162.7 595.5M120.4 601.4L158.0 607.7M120.4 601.4L164.7 619.6M120.4 601.4L174.2 655.2M120.4 601.4L227.4 640.4M120.4 601.4L172.9 630.7M120.4 601.4L163.0 643.4M120.4 601.4L186.9 645.3M120.4 601.4L174.6 668.9M120.4 601.4L153.3 653.3M120.4 601.4L154.0 664.5M120.4 601.4L190.1 598.4M120.4 601.4L177.0 587.4M120.4 601.4L106.7 662.4M120.4 601.4L193.7 659.5M179.2 610.3L162.7 595.5M179.2 610.3L158.0 607.7M179.2 610.3L164.7 619.6M179.2 610.3L172.9 630.7M179.2 610.3L189.7 622.0M179.2 610.3L190.1 598.4M179.2 610.3L204.7 606.4M179.2 610.3L177.0 587.4M179.2 610.3L209.1 617.6M179.2 610.3L217.9 630.3M179.2 610.3L201.0 635.7M179.2 610.3L227.4 640.4M179.2 610.3L175.2 569.2M179.2 610.3L187.3 561.1M179.2 610.3L193.1 579.9M179.2 610.3L200.7 589.6M179.2 610.3L174.2 655.2M179.2 610.3L163.0 643.4M179.2 610.3L186.9 645.3M179.2 610.3L209.7 646.6M179.2 610.3L193.7 659.5M179.2 610.3L227.9 651.7M179.2 610.3L255.0 594.1M179.2 610.3L230.3 599.7M179.2 610.3L269.6 680.1M179.2 610.3L154.8 577.8M179.2 610.3L140.0 599.7M255.0 594.1L244.5 569.3M255.0 594.1L264.5 569.0M255.0 594.1L277.2 577.6M255.0 594.1L233.5 580.6M255.0 594.1L256.2 581.3M255.0 594.1L287.2 586.4M255.0 594.1L230.7 590.0M255.0 594.1L279.9 594.4M255.0 594.1L230.3 599.7M255.0 594.1L288.3 603.5M255.0 594.1L247.0 608.4M255.0 594.1L274.7 608.7M255.0 594.1L258.7 617.1M255.0 594.1L278.2 620.9M255.0 594.1L204.7 606.4M255.0 594.1L269.6 680.1M255.0 594.1L254.3 657.3M255.0 594.1L254.3 669.7M255.0 594.1L227.4 640.4M255.0 594.1L294.5 659.5M255.0 594.1L272.8 662.4M255.0 594.1L209.1 617.6M227.4 640.4L217.9 630.3M227.4 640.4L241.4 628.7M227.4 640.4L247.4 642.3M227.4 640.4L227.9 651.7M227.4 640.4L209.7 646.6M227.4 640.4L201.0 635.7M227.4 640.4L254.3 657.3M227.4 640.4L254.3 669.7M227.4 640.4L269.6 680.1M227.4 640.4L230.3 599.7M227.4 640.4L247.0 608.4M227.4 640.4L209.1 617.6M227.4 640.4L236.2 675.0M227.4 640.4L262.3 647.8M227.4 640.4L174.2 655.2M227.4 640.4L186.9 645.3M227.4 640.4L193.7 659.5M227.4 640.4L204.7 606.4M227.4 640.4L221.4 690.6M227.4 640.4L247.6 685.2M269.6 680.1L262.3 647.8M269.6 680.1L279.9 649.3M269.6 680.1L254.3 657.3M269.6 680.1L272.8 662.4M269.6 680.1L294.5 659.5M269.6 680.1L254.3 669.7M269.6 680.1L292.8 672.5M269.6 680.1L295.2 681.5M269.6 680.1L286.4 689.7M269.6 680.1L265.3 692.6M269.6 680.1L247.6 685.2M269.6 680.1L236.2 675.0M269.6 680.1L258.7 617.1M269.6 680.1L278.2 620.9M269.6 680.1L274.7 608.7M269.6 680.1L247.0 608.4M269.6 680.1L247.4 642.3M269.6 680.1L227.9 651.7M269.6 680.1L221.4 690.6M269.6 680.1L237.7 731.4M269.6 680.1L199.8 695.2M269.6 680.1L288.3 603.5M269.6 680.1L241.4 628.7M82.0 683.5L78.3 647.7M82.0 683.5L82.8 661.2M82.0 683.5L58.7 659.0M82.0 683.5L70.4 671.1M82.0 683.5L49.2 671.1M82.0 683.5L36.8 678.7M82.0 683.5L58.2 682.3M82.0 683.5L34.6 689.6M82.0 683.5L53.7 693.2M82.0 683.5L71.5 696.0M82.0 683.5L39.6 701.3M82.0 683.5L75.0 708.5M82.0 683.5L90.4 698.4M82.0 683.5L98.1 676.5M82.0 683.5L101.8 650.4M82.0 683.5L106.7 662.4M82.0 683.5L114.7 671.9M82.0 683.5L107.6 686.2M82.0 683.5L110.1 696.4M82.0 683.5L106.0 709.3M82.0 683.5L126.3 681.8M82.0 683.5L138.7 675.2M82.0 683.5L154.0 664.5M82.0 683.5L167.9 706.4M82.0 683.5L126.0 708.4M82.0 683.5L91.3 716.7M82.0 683.5L153.3 653.3M82.0 683.5L154.7 674.7M82.0 683.5L137.2 692.2M82.0 683.5L174.2 655.2M82.0 683.5L157.4 699.1M82.0 683.5L174.6 668.9M174.2 655.2L153.3 653.3M174.2 655.2L154.0 664.5M174.2 655.2L174.6 668.9M174.2 655.2L163.0 643.4M174.2 655.2L186.9 645.3M174.2 655.2L193.7 659.5M174.2 655.2L172.9 630.7M174.2 655.2L154.7 674.7M174.2 655.2L209.7 646.6M174.2 655.2L106.7 662.4M174.2 655.2L114.7 671.9M174.2 655.2L164.7 619.6M174.2 655.2L192.8 680.3M174.2 655.2L171.5 680.0M174.2 655.2L227.9 651.7M174.2 655.2L201.0 635.7M167.9 706.4L157.4 699.1M167.9 706.4L156.2 686.9M167.9 706.4L183.5 691.5M167.9 706.4L199.8 695.2M167.9 706.4L192.8 704.6M167.9 706.4L187.7 714.6M167.9 706.4L178.8 725.5M167.9 706.4L165.0 718.5M167.9 706.4L147.4 715.6M167.9 706.4L143.1 702.0M167.9 706.4L137.2 692.2M167.9 706.4L171.5 680.0M167.9 706.4L192.8 680.3M167.9 706.4L154.7 674.7M167.9 706.4L126.0 708.4M167.9 706.4L106.0 709.3M167.9 706.4L107.6 686.2M167.9 706.4L126.3 681.8M167.9 706.4L110.1 696.4M167.9 706.4L154.0 664.5M167.9 706.4L138.7 675.2M167.9 706.4L199.8 726.0M167.9 706.4L237.7 731.4M237.7 731.4L221.4 690.6M237.7 731.4L215.7 702.9M237.7 731.4L236.2 705.2M237.7 731.4L210.6 714.5M237.7 731.4L232.8 717.6M237.7 731.4L219.5 726.0M237.7 731.4L199.8 726.0M237.7 731.4L188.4 735.2M237.7 731.4L211.3 737.7M237.7 731.4L191.6 746.0M237.7 731.4L216.8 748.3M237.7 731.4L194.8 756.2M237.7 731.4L213.9 759.4M237.7 731.4L223.2 769.3M237.7 731.4L239.0 747.5M237.7 731.4L236.8 760.7M237.7 731.4L244.5 773.4M237.7 731.4L257.8 753.3M237.7 731.4L260.4 763.8M237.7 731.4L268.3 772.6M237.7 731.4L263.1 742.4M237.7 731.4L280.6 761.7M237.7 731.4L281.5 752.4M237.7 731.4L282.9 738.2M237.7 731.4L299.9 745.9M237.7 731.4L287.4 728.0M237.7 731.4L266.7 729.8M237.7 731.4L282.8 719.3M237.7 731.4L278.0 711.6M237.7 731.4L253.6 719.3M237.7 731.4L255.8 708.7M237.7 731.4L247.6 685.2M237.7 731.4L192.8 704.6M237.7 731.4L187.7 714.6M237.7 731.4L199.8 695.2M237.7 731.4L178.8 725.5M237.7 731.4L183.5 691.5M237.7 731.4L236.2 675.0M58.7 659.0L70.4 671.1M154.0 728.7L126.0 708.4M71.5 696.0L75.0 708.5M106.0 709.3L126.0 708.4M90.4 698.4L91.3 716.7M53.0 708.6L71.5 696.0M71.3 719.9L75.0 708.5M154.0 728.7L147.4 715.6M154.0 728.7L165.0 718.5M154.0 728.7L199.8 726.0M188.4 735.2L191.6 746.0M194.8 756.2L216.8 748.3M211.3 737.7L191.6 746.0M199.8 695.2L183.5 691.5M192.8 704.6L210.6 714.5M187.7 714.6L199.8 726.0M178.8 725.5L188.4 735.2M221.4 690.6L215.7 702.9M236.2 705.2L232.8 717.6M247.0 608.4L258.7 617.1M230.3 599.7L247.4 642.3M217.9 630.3L241.4 628.7M217.9 630.3L247.4 642.3M230.7 590.0L230.3 599.7M99.6 619.0L101.8 650.4M117.7 616.5L78.3 647.7M127.8 625.7L106.7 662.4M97.9 607.9L99.6 619.0M193.1 579.9L200.7 589.6M279.9 649.3L262.3 647.8M254.3 657.3L272.8 662.4M254.3 669.7L265.3 692.6M209.7 646.6L227.9 651.7M193.7 659.5L209.7 646.6M163.0 643.4L186.9 645.3M153.3 653.3L163.0 643.4M140.0 599.7L162.7 595.5M136.7 613.6L163.0 643.4M127.8 625.7L163.0 643.4M136.7 613.6L172.9 630.7M114.7 671.9L98.1 676.5M110.1 696.4L114.7 671.9M107.6 686.2L156.2 686.9M106.7 662.4L126.3 681.8M101.8 650.4L114.7 671.9M174.6 668.9L183.5 691.5M192.8 680.3L156.2 686.9M154.7 674.7L156.2 686.9M153.3 653.3L154.7 674.7M154.0 664.5L138.7 675.2M215.7 702.9L247.6 685.2M221.4 690.6L201.0 635.7M236.2 705.2L247.6 685.2M236.2 675.0L254.3 669.7M175.2 569.2L177.0 587.4M187.3 561.1L193.1 579.9M186.4 543.2L163.5 548.1M247.0 608.4L230.3 599.7M204.7 606.4L209.1 617.6M190.1 598.4L200.7 589.6M286.4 689.7L265.3 692.6M232.8 717.6L221.4 690.6M241.4 628.7L247.4 642.3M258.7 617.1L278.2 620.9M292.8 672.5L295.2 681.5M287.2 586.4L279.9 594.4M294.5 659.5L272.8 662.4M274.7 608.7L288.3 603.5M189.7 622.0L164.7 619.6M189.7 622.0L201.0 635.7M278.0 711.6L282.8 719.3M255.8 708.7L253.6 719.3M266.7 729.8L263.1 742.4M281.5 752.4L282.9 738.2M236.2 675.0L221.4 690.6M247.6 685.2L255.8 708.7M262.3 647.8L254.3 657.3M279.9 649.3L272.8 662.4" stroke="#5a5a5a" stroke-width="0.55" fill="none" stroke-opacity="0.9"/>
<circle cx="153.3" cy="535.2" r="6.2" fill="#8fd6f2"/>
<circle cx="174.7" cy="535.5" r="6.2" fill="#8fd6f2"/>
<circle cx="134.6" cy="541.5" r="6.2" fill="#8fd6f2"/>
<circle cx="186.4" cy="543.2" r="6.2" fill="#8fd6f2"/>
<circle cx="163.5" cy="548.1" r="6.2" fill="#8fd6f2"/>
<circle cx="193.4" cy="551.3" r="6.2" fill="#8fd6f2"/>
<circle cx="137.2" cy="552.3" r="6.2" fill="#8fd6f2"/>
<circle cx="187.3" cy="561.1" r="6.2" fill="#8fd6f2"/>
<circle cx="134.0" cy="563.2" r="6.2" fill="#8fd6f2"/>
<circle cx="175.2" cy="569.2" r="6.2" fill="#8fd6f2"/>
<circle cx="134.0" cy="574.6" r="6.2" fill="#8fd6f2"/>
<circle cx="154.8" cy="577.8" r="6.2" fill="#8fd6f2"/>
<circle cx="193.1" cy="579.9" r="6.2" fill="#8fd6f2"/>
<circle cx="200.7" cy="589.6" r="6.2" fill="#8fd6f2"/>
<circle cx="177.0" cy="587.4" r="6.2" fill="#8fd6f2"/>
<circle cx="118.1" cy="587.1" r="6.2" fill="#8fd6f2"/>
<circle cx="101.9" cy="595.9" r="6.2" fill="#8fd6f2"/>
<circle cx="140.0" cy="599.7" r="6.2" fill="#8fd6f2"/>
<circle cx="97.9" cy="607.9" r="6.2" fill="#8fd6f2"/>
<circle cx="136.7" cy="613.6" r="6.2" fill="#8fd6f2"/>
<circle cx="117.7" cy="616.5" r="6.2" fill="#8fd6f2"/>
<circle cx="99.6" cy="619.0" r="6.2" fill="#8fd6f2"/>
<circle cx="127.8" cy="625.7" r="6.2" fill="#8fd6f2"/>
<circle cx="162.7" cy="595.5" r="6.2" fill="#8fd6f2"/>
<circle cx="190.1" cy="598.4" r="6.2" fill="#8fd6f2"/>
<circle cx="158.0" cy="607.7" r="6.2" fill="#8fd6f2"/>
<circle cx="164.7" cy="619.6" r="6.2" fill="#8fd6f2"/>
<circle cx="189.7" cy="622.0" r="6.2" fill="#8fd6f2"/>
<circle cx="172.9" cy="630.7" r="6.2" fill="#8fd6f2"/>
<circle cx="204.7" cy="606.4" r="6.2" fill="#8fd6f2"/>
<circle cx="209.1" cy="617.6" r="6.2" fill="#8fd6f2"/>
<circle cx="217.9" cy="630.3" r="6.2" fill="#8fd6f2"/>
<circle cx="201.0" cy="635.7" r="6.2" fill="#8fd6f2"/>
<circle cx="163.0" cy="643.4" r="6.2" fill="#8fd6f2"/>
<circle cx="186.9" cy="645.3" r="6.2" fill="#8fd6f2"/>
<circle cx="209.7" cy="646.6" r="6.2" fill="#8fd6f2"/>
<circle cx="227.9" cy="651.7" r="6.2" fill="#8fd6f2"/>
<circle cx="153.3" cy="653.3" r="6.2" fill="#8fd6f2"/>
<circle cx="193.7" cy="659.5" r="6.2" fill="#8fd6f2"/>
<circle cx="154.0" cy="664.5" r="6.2" fill="#8fd6f2"/>
<circle cx="174.6" cy="668.9" r="6.2" fill="#8fd6f2"/>
<circle cx="138.7" cy="675.2" r="6.2" fill="#8fd6f2"/>
<circle cx="154.7" cy="674.7" r="6.2" fill="#8fd6f2"/>
<circle cx="171.5" cy="680.0" r="6.2" fill="#8fd6f2"/>
<circle cx="192.8" cy="680.3" r="6.2" fill="#8fd6f2"/>
<circle cx="126.3" cy="681.8" r="6.2" fill="#8fd6f2"/>
<circle cx="156.2" cy="686.9" r="6.2" fill="#8fd6f2"/>
<circle cx="183.5" cy="691.5" r="6.2" fill="#8fd6f2"/>
<circle cx="137.2" cy="692.2" r="6.2" fill="#8fd6f2"/>
<circle cx="157.4" cy="699.1" r="6.2" fill="#8fd6f2"/>
<circle cx="199.8" cy="695.2" r="6.2" fill="#8fd6f2"/>
<circle cx="143.1" cy="702.0" r="6.2" fill="#8fd6f2"/>
<circle cx="192.8" cy="704.6" r="6.2" fill="#8fd6f2"/>
<circle cx="126.0" cy="708.4" r="6.2" fill="#8fd6f2"/>
<circle cx="147.4" cy="715.6" r="6.2" fill="#8fd6f2"/>
<circle cx="165.0" cy="718.5" r="6.2" fill="#8fd6f2"/>
<circle cx="187.7" cy="714.6" r="6.2" fill="#8fd6f2"/>
<circle cx="178.8" cy="725.5" r="6.2" fill="#8fd6f2"/>
<circle cx="154.0" cy="728.7" r="6.2" fill="#8fd6f2"/>
<circle cx="199.8" cy="726.0" r="6.2" fill="#8fd6f2"/>
<circle cx="188.4" cy="735.2" r="6.2" fill="#8fd6f2"/>
<circle cx="191.6" cy="746.0" r="6.2" fill="#8fd6f2"/>
<circle cx="194.8" cy="756.2" r="6.2" fill="#8fd6f2"/>
<circle cx="221.4" cy="690.6" r="6.2" fill="#8fd6f2"/>
<circle cx="215.7" cy="702.9" r="6.2" fill="#8fd6f2"/>
<circle cx="210.6" cy="714.5" r="6.2" fill="#8fd6f2"/>
<circle cx="219.5" cy="726.0" r="6.2" fill="#8fd6f2"/>
<circle cx="211.3" cy="737.7" r="6.2" fill="#8fd6f2"/>
<circle cx="216.8" cy="748.3" r="6.2" fill="#8fd6f2"/>
<circle cx="213.9" cy="759.4" r="6.2" fill="#8fd6f2"/>
<circle cx="223.2" cy="769.3" r="6.2" fill="#8fd6f2"/>
<circle cx="236.2" cy="705.2" r="6.2" fill="#8fd6f2"/>
<circle cx="232.8" cy="717.6" r="6.2" fill="#8fd6f2"/>
<circle cx="239.0" cy="747.5" r="6.2" fill="#8fd6f2"/>
<circle cx="236.8" cy="760.7" r="6.2" fill="#8fd6f2"/>
<circle cx="244.5" cy="773.4" r="6.2" fill="#8fd6f2"/>
<circle cx="257.8" cy="753.3" r="6.2" fill="#8fd6f2"/>
<circle cx="260.4" cy="763.8" r="6.2" fill="#8fd6f2"/>
<circle cx="268.3" cy="772.6" r="6.2" fill="#8fd6f2"/>
<circle cx="263.1" cy="742.4" r="6.2" fill="#8fd6f2"/>
<circle cx="266.7" cy="729.8" r="6.2" fill="#8fd6f2"/>
<circle cx="282.9" cy="738.2" r="6.2" fill="#8fd6f2"/>
<circle cx="281.5" cy="752.4" r="6.2" fill="#8fd6f2"/>
<circle cx="280.6" cy="761.7" r="6.2" fill="#8fd6f2"/>
<circle cx="299.9" cy="745.9" r="6.2" fill="#8fd6f2"/>
<circle cx="287.4" cy="728.0" r="6.2" fill="#8fd6f2"/>
<circle cx="282.8" cy="719.3" r="6.2" fill="#8fd6f2"/>
<circle cx="278.0" cy="711.6" r="6.2" fill="#8fd6f2"/>
<circle cx="253.6" cy="719.3" r="6.2" fill="#8fd6f2"/>
<circle cx="255.8" cy="708.7" r="6.2" fill="#8fd6f2"/>
<circle cx="247.6" cy="685.2" r="6.2" fill="#8fd6f2"/>
<circle cx="265.3" cy="692.6" r="6.2" fill="#8fd6f2"/>
<circle cx="286.4" cy="689.7" r="6.2" fill="#8fd6f2"/>
<circle cx="295.2" cy="681.5" r="6.2" fill="#8fd6f2"/>
<circle cx="292.8" cy="672.5" r="6.2" fill="#8fd6f2"/>
<circle cx="236.2" cy="675.0" r="6.2" fill="#8fd6f2"/>
<circle cx="254.3" cy="669.7" r="6.2" fill="#8fd6f2"/>
<circle cx="254.3" cy="657.3" r="6.2" fill="#8fd6f2"/>
<circle cx="272.8" cy="662.4" r="6.2" fill="#8fd6f2"/>
<circle cx="294.5" cy="659.5" r="6.2" fill="#8fd6f2"/>
<circle cx="262.3" cy="647.8" r="6.2" fill="#8fd6f2"/>
<circle cx="279.9" cy="649.3" r="6.2" fill="#8fd6f2"/>
<circle cx="247.4" cy="642.3" r="6.2" fill="#8fd6f2"/>
<circle cx="241.4" cy="628.7" r="6.2" fill="#8fd6f2"/>
<circle cx="278.2" cy="620.9" r="6.2" fill="#8fd6f2"/>
<circle cx="258.7" cy="617.1" r="6.2" fill="#8fd6f2"/>
<circle cx="247.0" cy="608.4" r="6.2" fill="#8fd6f2"/>
<circle cx="274.7" cy="608.7" r="6.2" fill="#8fd6f2"/>
<circle cx="288.3" cy="603.5" r="6.2" fill="#8fd6f2"/>
<circle cx="279.9" cy="594.4" r="6.2" fill="#8fd6f2"/>
<circle cx="287.2" cy="586.4" r="6.2" fill="#8fd6f2"/>
<circle cx="277.2" cy="577.6" r="6.2" fill="#8fd6f2"/>
<circle cx="256.2" cy="581.3" r="6.2" fill="#8fd6f2"/>
<circle cx="264.5" cy="569.0" r="6.2" fill="#8fd6f2"/>
<circle cx="244.5" cy="569.3" r="6.2" fill="#8fd6f2"/>
<circle cx="233.5" cy="580.6" r="6.2" fill="#8fd6f2"/>
<circle cx="230.7" cy="590.0" r="6.2" fill="#8fd6f2"/>
<circle cx="230.3" cy="599.7" r="6.2" fill="#8fd6f2"/>
<circle cx="78.3" cy="647.7" r="6.2" fill="#8fd6f2"/>
<circle cx="101.8" cy="650.4" r="6.2" fill="#8fd6f2"/>
<circle cx="58.7" cy="659.0" r="6.2" fill="#8fd6f2"/>
<circle cx="82.8" cy="661.2" r="6.2" fill="#8fd6f2"/>
<circle cx="106.7" cy="662.4" r="6.2" fill="#8fd6f2"/>
<circle cx="49.2" cy="671.1" r="6.2" fill="#8fd6f2"/>
<circle cx="70.4" cy="671.1" r="6.2" fill="#8fd6f2"/>
<circle cx="114.7" cy="671.9" r="6.2" fill="#8fd6f2"/>
<circle cx="36.8" cy="678.7" r="6.2" fill="#8fd6f2"/>
<circle cx="58.2" cy="682.3" r="6.2" fill="#8fd6f2"/>
<circle cx="98.1" cy="676.5" r="6.2" fill="#8fd6f2"/>
<circle cx="107.6" cy="686.2" r="6.2" fill="#8fd6f2"/>
<circle cx="34.6" cy="689.6" r="6.2" fill="#8fd6f2"/>
<circle cx="53.7" cy="693.2" r="6.2" fill="#8fd6f2"/>
<circle cx="71.5" cy="696.0" r="6.2" fill="#8fd6f2"/>
<circle cx="90.4" cy="698.4" r="6.2" fill="#8fd6f2"/>
<circle cx="110.1" cy="696.4" r="6.2" fill="#8fd6f2"/>
<circle cx="39.6" cy="701.3" r="6.2" fill="#8fd6f2"/>
<circle cx="53.0" cy="708.6" r="6.2" fill="#8fd6f2"/>
<circle cx="75.0" cy="708.5" r="6.2" fill="#8fd6f2"/>
<circle cx="106.0" cy="709.3" r="6.2" fill="#8fd6f2"/>
<circle cx="91.3" cy="716.7" r="6.2" fill="#8fd6f2"/>
<circle cx="71.3" cy="719.9" r="6.2" fill="#8fd6f2"/>
<circle cx="160.0" cy="561.8" r="6.4" fill="#ee6440"/>
<circle cx="120.4" cy="601.4" r="6.4" fill="#ee6440"/>
<circle cx="179.2" cy="610.3" r="6.4" fill="#ee6440"/>
<circle cx="255.0" cy="594.1" r="6.4" fill="#ee6440"/>
<circle cx="227.4" cy="640.4" r="6.4" fill="#ee6440"/>
<circle cx="174.2" cy="655.2" r="6.4" fill="#ee6440"/>
<circle cx="82.0" cy="683.5" r="6.4" fill="#ee6440"/>
<circle cx="269.6" cy="680.1" r="6.4" fill="#ee6440"/>
<circle cx="167.9" cy="706.4" r="6.4" fill="#ee6440"/>
<circle cx="237.7" cy="731.4" r="6.4" fill="#ee6440"/>
<g fill="#141414" font-size="4.0" text-anchor="middle"><text x="153.3" y="536.6">KIF5C</text><text x="174.7" y="536.9">ADARB1</text><text x="134.6" y="542.9">VWC2</text><text x="186.4" y="544.6">PRKCB</text><text x="163.5" y="549.5">KIF5A</text><text x="193.4" y="552.6">IQSEC1</text><text x="137.2" y="553.6">NOVA1</text><text x="187.3" y="562.5">DLG3</text><text x="134.0" y="564.6">SHISA6</text><text x="175.2" y="570.6">GRIN2D</text><text x="134.0" y="576.0">SHANK1</text><text x="154.8" y="579.1">GRIA4</text><text x="193.1" y="581.2">NEFL</text><text x="200.7" y="591.0">GRID2</text><text x="177.0" y="588.8">GRIK3</text><text x="118.1" y="588.5">FAPD7</text><text x="101.9" y="597.2">ADCY5</text><text x="140.0" y="601.1">SRCIN1</text><text x="97.9" y="609.2">FAM131B</text><text x="136.7" y="615.0">CAMK2N1</text><text x="117.7" y="617.9">TRIM24</text><text x="99.6" y="620.4">SIN3A</text><text x="127.8" y="627.1">EPB41L1</text><text x="162.7" y="596.9">LRFN1</text><text x="190.1" y="599.8">CACNG2</text><text x="158.0" y="609.1">CACNG8</text><text x="164.7" y="621.0">P2RX3</text><text x="189.7" y="623.4">GRM2</text><text x="172.9" y="632.1">GRM5</text><text x="204.7" y="607.8">SYP</text><text x="209.1" y="619.0">GABBR2</text><text x="217.9" y="631.6">NLGN4X</text><text x="201.0" y="637.1">SLC32A1</text><text x="163.0" y="644.8">ADCY1</text><text x="186.9" y="646.6">ADCY8</text><text x="209.7" y="648.0">DLGAP2</text><text x="227.9" y="653.1">DLGAP3</text><text x="153.3" y="654.6">MPRIP</text><text x="193.7" y="660.9">MEF2D</text><text x="154.0" y="665.9">CABIN1</text><text x="174.6" y="670.2">RYR2</text><text x="138.7" y="676.6">ZNRF3</text><text x="154.7" y="676.1">JAG2</text><text x="171.5" y="681.4">RASGRF1</text><text x="192.8" y="681.6">NEURL1</text><text x="126.3" y="683.1">NCOR2</text><text x="156.2" y="688.2">DLL1</text><text x="183.5" y="692.9">IGF1R</text><text x="137.2" y="693.6">HES5</text><text x="157.4" y="700.5">DTX1</text><text x="199.8" y="696.6">CNTN1</text><text x="143.1" y="703.4">ARRB1</text><text x="192.8" y="706.0">SOCS3</text><text x="126.0" y="709.8">HIF1AN</text><text x="147.4" y="717.0">ZNF423</text><text x="165.0" y="719.9">DTX4</text><text x="187.7" y="716.0">XIAP</text><text x="178.8" y="726.9">ZMIZ1</text><text x="154.0" y="730.1">VEGFA</text><text x="199.8" y="727.4">TDGF1</text><text x="188.4" y="736.6">NGEF</text><text x="191.6" y="747.4">SHC3</text><text x="194.8" y="757.6">PIK3CD</text><text x="221.4" y="692.0">PTPN8</text><text x="215.7" y="704.2">CSK</text><text x="210.6" y="715.9">KIRREL</text><text x="219.5" y="727.4">PDPK1</text><text x="211.3" y="739.1">GAB2</text><text x="216.8" y="749.6">VAV2</text><text x="213.9" y="760.8">RAPGEF1</text><text x="223.2" y="770.6">PIK3R3</text><text x="236.2" y="706.6">MAPK8IP3</text><text x="232.8" y="719.0">PXN</text><text x="239.0" y="748.9">ARHGAP35</text><text x="236.8" y="762.1">RELN</text><text x="244.5" y="774.8">PLXNC2</text><text x="257.8" y="754.6">PLXNA1</text><text x="260.4" y="765.1">PLXNA4</text><text x="268.3" y="774.0">NCKIPSD</text><text x="263.1" y="743.8">NTN1</text><text x="266.7" y="731.1">CHL1</text><text x="282.9" y="739.6">DCC</text><text x="281.5" y="753.8">EPHB1</text><text x="280.6" y="763.1">DOCK3</text><text x="299.9" y="747.2">EFNA5</text><text x="287.4" y="729.4">EPHA8</text><text x="282.8" y="720.6">AJAP2</text><text x="278.0" y="713.0">SH3KBP1</text><text x="253.6" y="720.6">PPP2R5B</text><text x="255.8" y="710.1">PDGFB</text><text x="247.6" y="686.6">MAPT</text><text x="265.3" y="694.0">SYT2</text><text x="286.4" y="691.1">AMPH</text><text x="295.2" y="682.9">PPFIA4</text><text x="292.8" y="673.9">RBFOX3</text><text x="236.2" y="676.4">DNM1</text><text x="254.3" y="671.1">SV2A</text><text x="254.3" y="658.6">BSN</text><text x="272.8" y="663.8">PPFIA3</text><text x="294.5" y="660.9">UNC13A</text><text x="262.3" y="649.1">SYN3</text><text x="279.9" y="650.6">SYT3</text><text x="247.4" y="643.6">NRXN1</text><text x="241.4" y="630.1">NRXN2</text><text x="278.2" y="622.2">SYN2</text><text x="258.7" y="618.5">SPTAN1</text><text x="247.0" y="609.8">CDKL5</text><text x="274.7" y="610.1">SCN1A</text><text x="288.3" y="604.9">SCN2A</text><text x="279.9" y="595.8">PCDH15</text><text x="287.2" y="587.8">EXOC8</text><text x="277.2" y="579.0">SYT5</text><text x="256.2" y="582.6">DNAJC5</text><text x="264.5" y="570.4">STX1B</text><text x="244.5" y="570.6">CACNA2D2</text><text x="233.5" y="582.0">KCNQ2</text><text x="230.7" y="591.4">GRM4</text><text x="230.3" y="601.1">APBA1</text><text x="78.3" y="649.1">DCP1A</text><text x="101.8" y="651.8">HELZ2</text><text x="58.7" y="660.4">ING5</text><text x="82.8" y="662.6">HIPK2</text><text x="106.7" y="663.8">CREBBP</text><text x="49.2" y="672.5">KLF4</text><text x="70.4" y="672.5">KMT2E</text><text x="114.7" y="673.2">AGO2</text><text x="36.8" y="680.1">EBCAP</text><text x="58.2" y="683.6">TFAP2C</text><text x="98.1" y="677.9">AGO4</text><text x="107.6" y="687.6">DLL3</text><text x="34.6" y="691.0">HOXB1</text><text x="53.7" y="694.6">RORA</text><text x="71.5" y="697.4">PROM2</text><text x="90.4" y="699.8">FOXD4</text><text x="110.1" y="697.8">AGO1</text><text x="39.6" y="702.6">POU2F1</text><text x="53.0" y="710.0">KDM2A</text><text x="75.0" y="709.9">ARID1A</text><text x="106.0" y="710.6">HES1</text><text x="91.3" y="718.1">SMAD7</text><text x="71.3" y="721.2">TXNIP</text><text x="160.0" y="563.1">GRIA2</text><text x="120.4" y="602.8">CAMK2A</text><text x="179.2" y="611.6">GRIN1</text><text x="255.0" y="595.5">STXBP1</text><text x="227.4" y="641.8">DLG2</text><text x="174.2" y="656.6">CAMK2B</text><text x="82.0" y="684.9">EP300</text><text x="269.6" y="681.5">SYN1</text><text x="167.9" y="707.8">NOTCH1</text><text x="237.7" y="732.8">FYN</text></g>
</svg></body></html>
